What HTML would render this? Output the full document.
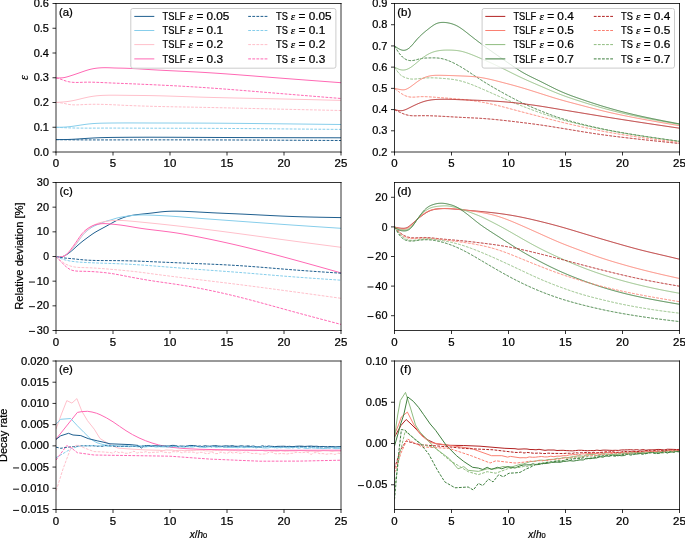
<!DOCTYPE html><html><head><meta charset="utf-8"><style>html,body{margin:0;padding:0;background:#fff;}svg{display:block;will-change:transform;}text{font-family:"Liberation Sans", sans-serif;font-size:10px;fill:#000;stroke:#000;stroke-width:0.22px;}</style></head><body>
<svg width="685" height="538" viewBox="0 0 685 538">
<rect x="0" y="0" width="685" height="538" fill="#fff"/>
<clipPath id="clip_a"><rect x="56.00" y="2.50" width="285.00" height="150.50"/></clipPath>
<g clip-path="url(#clip_a)" fill="none" stroke-width="1.00" stroke-linejoin="round" stroke-linecap="butt">
<path d="M56.00,77.90 L57.00,77.93 L58.00,77.95 L59.00,77.96 L60.00,77.95 L61.00,77.92 L62.00,77.85 L63.00,77.75 L64.00,77.60 L65.00,77.40 L66.00,77.17 L67.00,76.90 L68.00,76.61 L69.00,76.30 L70.00,75.99 L71.00,75.67 L72.00,75.35 L73.00,75.02 L74.00,74.69 L75.00,74.35 L76.00,74.01 L77.00,73.67 L78.00,73.33 L79.00,72.98 L80.00,72.62 L81.00,72.27 L82.00,71.92 L83.00,71.57 L84.00,71.22 L85.00,70.89 L86.00,70.56 L87.00,70.24 L88.00,69.94 L89.00,69.66 L90.00,69.40 L91.00,69.16 L92.00,68.94 L93.00,68.74 L94.00,68.56 L95.00,68.40 L96.00,68.26 L97.00,68.13 L98.00,68.03 L99.00,67.94 L100.00,67.86 L101.00,67.80 L102.00,67.76 L103.00,67.72 L104.00,67.71 L105.00,67.70 L106.00,67.71 L107.00,67.72 L108.00,67.74 L109.00,67.77 L110.00,67.81 L111.00,67.85 L112.00,67.89 L113.00,67.93 L114.00,67.97 L115.00,68.00 L116.00,68.03 L117.00,68.06 L118.00,68.08 L119.00,68.10 L120.00,68.12 L121.00,68.14 L122.00,68.15 L123.00,68.18 L124.00,68.20 L125.00,68.23 L126.00,68.26 L127.00,68.29 L128.00,68.33 L129.00,68.37 L130.00,68.41 L131.00,68.46 L132.00,68.51 L133.00,68.56 L134.00,68.61 L135.00,68.67 L136.00,68.72 L137.00,68.78 L138.00,68.84 L139.00,68.90 L140.00,68.97 L141.00,69.03 L142.00,69.09 L143.00,69.15 L144.00,69.22 L145.00,69.28 L146.00,69.35 L147.00,69.41 L148.00,69.47 L149.00,69.54 L150.00,69.60 L151.00,69.66 L152.00,69.72 L153.00,69.78 L154.00,69.84 L155.00,69.90 L156.00,69.95 L157.00,70.01 L158.00,70.07 L159.00,70.12 L160.00,70.17 L161.00,70.23 L162.00,70.28 L163.00,70.33 L164.00,70.39 L165.00,70.44 L166.00,70.49 L167.00,70.54 L168.00,70.59 L169.00,70.64 L170.00,70.69 L171.00,70.74 L172.00,70.79 L173.00,70.83 L174.00,70.88 L175.00,70.93 L176.00,70.98 L177.00,71.03 L178.00,71.08 L179.00,71.13 L180.00,71.17 L181.00,71.22 L182.00,71.27 L183.00,71.32 L184.00,71.37 L185.00,71.42 L186.00,71.47 L187.00,71.52 L188.00,71.57 L189.00,71.62 L190.00,71.67 L191.00,71.72 L192.00,71.77 L193.00,71.82 L194.00,71.87 L195.00,71.93 L196.00,71.98 L197.00,72.03 L198.00,72.09 L199.00,72.14 L200.00,72.20 L201.00,72.26 L202.00,72.31 L203.00,72.37 L204.00,72.43 L205.00,72.49 L206.00,72.55 L207.00,72.61 L208.00,72.68 L209.00,72.74 L210.00,72.80 L211.00,72.87 L212.00,72.93 L213.00,73.00 L214.00,73.06 L215.00,73.13 L216.00,73.19 L217.00,73.26 L218.00,73.33 L219.00,73.40 L220.00,73.47 L221.00,73.54 L222.00,73.61 L223.00,73.68 L224.00,73.75 L225.00,73.82 L226.00,73.89 L227.00,73.96 L228.00,74.04 L229.00,74.11 L230.00,74.18 L231.00,74.26 L232.00,74.33 L233.00,74.40 L234.00,74.48 L235.00,74.55 L236.00,74.63 L237.00,74.71 L238.00,74.78 L239.00,74.86 L240.00,74.94 L241.00,75.01 L242.00,75.09 L243.00,75.17 L244.00,75.25 L245.00,75.32 L246.00,75.40 L247.00,75.48 L248.00,75.56 L249.00,75.64 L250.00,75.71 L251.00,75.79 L252.00,75.87 L253.00,75.95 L254.00,76.03 L255.00,76.11 L256.00,76.19 L257.00,76.27 L258.00,76.35 L259.00,76.43 L260.00,76.51 L261.00,76.59 L262.00,76.67 L263.00,76.75 L264.00,76.82 L265.00,76.90 L266.00,76.98 L267.00,77.06 L268.00,77.14 L269.00,77.22 L270.00,77.30 L271.00,77.38 L272.00,77.46 L273.00,77.54 L274.00,77.61 L275.00,77.69 L276.00,77.77 L277.00,77.85 L278.00,77.93 L279.00,78.01 L280.00,78.08 L281.00,78.16 L282.00,78.24 L283.00,78.32 L284.00,78.39 L285.00,78.47 L286.00,78.55 L287.00,78.63 L288.00,78.70 L289.00,78.78 L290.00,78.86 L291.00,78.93 L292.00,79.01 L293.00,79.09 L294.00,79.16 L295.00,79.24 L296.00,79.32 L297.00,79.39 L298.00,79.47 L299.00,79.54 L300.00,79.62 L301.00,79.70 L302.00,79.77 L303.00,79.85 L304.00,79.92 L305.00,80.00 L306.00,80.08 L307.00,80.15 L308.00,80.23 L309.00,80.30 L310.00,80.38 L311.00,80.45 L312.00,80.53 L313.00,80.60 L314.00,80.68 L315.00,80.75 L316.00,80.83 L317.00,80.90 L318.00,80.98 L319.00,81.05 L320.00,81.13 L321.00,81.20 L322.00,81.28 L323.00,81.35 L324.00,81.43 L325.00,81.50 L326.00,81.58 L327.00,81.65 L328.00,81.73 L329.00,81.80 L330.00,81.88 L331.00,81.95 L332.00,82.03 L333.00,82.10 L334.00,82.18 L335.00,82.25 L336.00,82.33 L337.00,82.40 L338.00,82.48 L339.00,82.55 L340.00,82.63 L341.00,82.70" stroke="#ff69b4"/>
<path d="M56.00,77.90 L57.00,78.12 L58.00,78.34 L59.00,78.60 L60.00,78.90 L61.00,79.25 L62.00,79.63 L63.00,80.02 L64.00,80.40 L65.00,80.75 L66.00,81.06 L67.00,81.34 L68.00,81.59 L69.00,81.80 L70.00,81.98 L71.00,82.12 L72.00,82.23 L73.00,82.32 L74.00,82.38 L75.00,82.41 L76.00,82.43 L77.00,82.44 L78.00,82.43 L79.00,82.41 L80.00,82.38 L81.00,82.34 L82.00,82.30 L83.00,82.27 L84.00,82.23 L85.00,82.20 L86.00,82.18 L87.00,82.16 L88.00,82.16 L89.00,82.15 L90.00,82.16 L91.00,82.17 L92.00,82.19 L93.00,82.21 L94.00,82.24 L95.00,82.27 L96.00,82.30 L97.00,82.34 L98.00,82.38 L99.00,82.42 L100.00,82.47 L101.00,82.51 L102.00,82.56 L103.00,82.61 L104.00,82.65 L105.00,82.70 L106.00,82.75 L107.00,82.79 L108.00,82.84 L109.00,82.88 L110.00,82.92 L111.00,82.97 L112.00,83.01 L113.00,83.05 L114.00,83.09 L115.00,83.14 L116.00,83.18 L117.00,83.22 L118.00,83.26 L119.00,83.30 L120.00,83.34 L121.00,83.38 L122.00,83.42 L123.00,83.46 L124.00,83.50 L125.00,83.54 L126.00,83.58 L127.00,83.62 L128.00,83.66 L129.00,83.70 L130.00,83.74 L131.00,83.79 L132.00,83.83 L133.00,83.87 L134.00,83.91 L135.00,83.95 L136.00,83.99 L137.00,84.04 L138.00,84.08 L139.00,84.12 L140.00,84.16 L141.00,84.21 L142.00,84.25 L143.00,84.29 L144.00,84.34 L145.00,84.38 L146.00,84.42 L147.00,84.47 L148.00,84.51 L149.00,84.56 L150.00,84.60 L151.00,84.65 L152.00,84.69 L153.00,84.74 L154.00,84.79 L155.00,84.83 L156.00,84.88 L157.00,84.93 L158.00,84.97 L159.00,85.02 L160.00,85.07 L161.00,85.12 L162.00,85.17 L163.00,85.21 L164.00,85.26 L165.00,85.31 L166.00,85.36 L167.00,85.41 L168.00,85.46 L169.00,85.51 L170.00,85.57 L171.00,85.62 L172.00,85.67 L173.00,85.72 L174.00,85.77 L175.00,85.83 L176.00,85.88 L177.00,85.93 L178.00,85.99 L179.00,86.04 L180.00,86.10 L181.00,86.15 L182.00,86.21 L183.00,86.27 L184.00,86.32 L185.00,86.38 L186.00,86.44 L187.00,86.50 L188.00,86.56 L189.00,86.62 L190.00,86.68 L191.00,86.74 L192.00,86.80 L193.00,86.86 L194.00,86.92 L195.00,86.98 L196.00,87.04 L197.00,87.11 L198.00,87.17 L199.00,87.24 L200.00,87.30 L201.00,87.37 L202.00,87.43 L203.00,87.50 L204.00,87.56 L205.00,87.63 L206.00,87.70 L207.00,87.77 L208.00,87.84 L209.00,87.91 L210.00,87.98 L211.00,88.05 L212.00,88.12 L213.00,88.19 L214.00,88.26 L215.00,88.33 L216.00,88.40 L217.00,88.48 L218.00,88.55 L219.00,88.62 L220.00,88.70 L221.00,88.77 L222.00,88.85 L223.00,88.92 L224.00,89.00 L225.00,89.07 L226.00,89.15 L227.00,89.22 L228.00,89.30 L229.00,89.38 L230.00,89.46 L231.00,89.53 L232.00,89.61 L233.00,89.69 L234.00,89.77 L235.00,89.85 L236.00,89.93 L237.00,90.00 L238.00,90.08 L239.00,90.16 L240.00,90.24 L241.00,90.32 L242.00,90.40 L243.00,90.48 L244.00,90.57 L245.00,90.65 L246.00,90.73 L247.00,90.81 L248.00,90.89 L249.00,90.97 L250.00,91.05 L251.00,91.13 L252.00,91.22 L253.00,91.30 L254.00,91.38 L255.00,91.46 L256.00,91.54 L257.00,91.63 L258.00,91.71 L259.00,91.79 L260.00,91.87 L261.00,91.96 L262.00,92.04 L263.00,92.12 L264.00,92.20 L265.00,92.29 L266.00,92.37 L267.00,92.45 L268.00,92.53 L269.00,92.62 L270.00,92.70 L271.00,92.78 L272.00,92.87 L273.00,92.95 L274.00,93.03 L275.00,93.11 L276.00,93.19 L277.00,93.28 L278.00,93.36 L279.00,93.44 L280.00,93.52 L281.00,93.61 L282.00,93.69 L283.00,93.77 L284.00,93.85 L285.00,93.93 L286.00,94.02 L287.00,94.10 L288.00,94.18 L289.00,94.26 L290.00,94.34 L291.00,94.43 L292.00,94.51 L293.00,94.59 L294.00,94.67 L295.00,94.75 L296.00,94.84 L297.00,94.92 L298.00,95.00 L299.00,95.08 L300.00,95.16 L301.00,95.24 L302.00,95.33 L303.00,95.41 L304.00,95.49 L305.00,95.57 L306.00,95.65 L307.00,95.73 L308.00,95.82 L309.00,95.90 L310.00,95.98 L311.00,96.06 L312.00,96.14 L313.00,96.22 L314.00,96.30 L315.00,96.39 L316.00,96.47 L317.00,96.55 L318.00,96.63 L319.00,96.71 L320.00,96.79 L321.00,96.87 L322.00,96.96 L323.00,97.04 L324.00,97.12 L325.00,97.20 L326.00,97.28 L327.00,97.36 L328.00,97.44 L329.00,97.52 L330.00,97.61 L331.00,97.69 L332.00,97.77 L333.00,97.85 L334.00,97.93 L335.00,98.01 L336.00,98.09 L337.00,98.17 L338.00,98.26 L339.00,98.34 L340.00,98.42 L341.00,98.50" stroke="#ff69b4" stroke-dasharray="2.8,1.3"/>
<path d="M56.00,102.40 L57.00,102.35 L58.00,102.30 L59.00,102.25 L60.00,102.20 L61.00,102.13 L62.00,102.06 L63.00,101.99 L64.00,101.90 L65.00,101.80 L66.00,101.69 L67.00,101.57 L68.00,101.44 L69.00,101.29 L70.00,101.14 L71.00,100.97 L72.00,100.79 L73.00,100.60 L74.00,100.40 L75.00,100.19 L76.00,99.96 L77.00,99.73 L78.00,99.49 L79.00,99.25 L80.00,99.01 L81.00,98.76 L82.00,98.51 L83.00,98.27 L84.00,98.03 L85.00,97.80 L86.00,97.58 L87.00,97.36 L88.00,97.15 L89.00,96.95 L90.00,96.77 L91.00,96.59 L92.00,96.43 L93.00,96.27 L94.00,96.13 L95.00,96.00 L96.00,95.88 L97.00,95.78 L98.00,95.69 L99.00,95.61 L100.00,95.54 L101.00,95.47 L102.00,95.42 L103.00,95.37 L104.00,95.33 L105.00,95.30 L106.00,95.27 L107.00,95.25 L108.00,95.23 L109.00,95.21 L110.00,95.20 L111.00,95.20 L112.00,95.19 L113.00,95.19 L114.00,95.20 L115.00,95.20 L116.00,95.21 L117.00,95.21 L118.00,95.22 L119.00,95.24 L120.00,95.25 L121.00,95.26 L122.00,95.27 L123.00,95.29 L124.00,95.30 L125.00,95.31 L126.00,95.32 L127.00,95.34 L128.00,95.35 L129.00,95.36 L130.00,95.37 L131.00,95.38 L132.00,95.39 L133.00,95.40 L134.00,95.41 L135.00,95.42 L136.00,95.42 L137.00,95.43 L138.00,95.44 L139.00,95.45 L140.00,95.47 L141.00,95.48 L142.00,95.49 L143.00,95.50 L144.00,95.51 L145.00,95.52 L146.00,95.54 L147.00,95.55 L148.00,95.57 L149.00,95.58 L150.00,95.60 L151.00,95.62 L152.00,95.64 L153.00,95.66 L154.00,95.68 L155.00,95.70 L156.00,95.72 L157.00,95.74 L158.00,95.77 L159.00,95.79 L160.00,95.82 L161.00,95.84 L162.00,95.87 L163.00,95.90 L164.00,95.92 L165.00,95.95 L166.00,95.98 L167.00,96.01 L168.00,96.04 L169.00,96.07 L170.00,96.10 L171.00,96.13 L172.00,96.17 L173.00,96.20 L174.00,96.23 L175.00,96.26 L176.00,96.30 L177.00,96.33 L178.00,96.36 L179.00,96.40 L180.00,96.43 L181.00,96.47 L182.00,96.50 L183.00,96.53 L184.00,96.57 L185.00,96.60 L186.00,96.64 L187.00,96.67 L188.00,96.70 L189.00,96.74 L190.00,96.77 L191.00,96.81 L192.00,96.84 L193.00,96.87 L194.00,96.91 L195.00,96.94 L196.00,96.97 L197.00,97.00 L198.00,97.04 L199.00,97.07 L200.00,97.10 L201.00,97.13 L202.00,97.16 L203.00,97.19 L204.00,97.22 L205.00,97.25 L206.00,97.28 L207.00,97.31 L208.00,97.34 L209.00,97.36 L210.00,97.39 L211.00,97.42 L212.00,97.45 L213.00,97.47 L214.00,97.50 L215.00,97.52 L216.00,97.55 L217.00,97.58 L218.00,97.60 L219.00,97.62 L220.00,97.65 L221.00,97.67 L222.00,97.70 L223.00,97.72 L224.00,97.74 L225.00,97.77 L226.00,97.79 L227.00,97.81 L228.00,97.84 L229.00,97.86 L230.00,97.88 L231.00,97.90 L232.00,97.92 L233.00,97.95 L234.00,97.97 L235.00,97.99 L236.00,98.01 L237.00,98.03 L238.00,98.05 L239.00,98.07 L240.00,98.09 L241.00,98.11 L242.00,98.13 L243.00,98.16 L244.00,98.18 L245.00,98.20 L246.00,98.22 L247.00,98.24 L248.00,98.26 L249.00,98.28 L250.00,98.30 L251.00,98.32 L252.00,98.34 L253.00,98.36 L254.00,98.38 L255.00,98.40 L256.00,98.42 L257.00,98.44 L258.00,98.46 L259.00,98.48 L260.00,98.50 L261.00,98.52 L262.00,98.54 L263.00,98.56 L264.00,98.58 L265.00,98.60 L266.00,98.62 L267.00,98.64 L268.00,98.66 L269.00,98.68 L270.00,98.70 L271.00,98.72 L272.00,98.74 L273.00,98.76 L274.00,98.78 L275.00,98.81 L276.00,98.83 L277.00,98.85 L278.00,98.87 L279.00,98.89 L280.00,98.92 L281.00,98.94 L282.00,98.96 L283.00,98.98 L284.00,99.00 L285.00,99.03 L286.00,99.05 L287.00,99.07 L288.00,99.10 L289.00,99.12 L290.00,99.14 L291.00,99.17 L292.00,99.19 L293.00,99.21 L294.00,99.24 L295.00,99.26 L296.00,99.28 L297.00,99.31 L298.00,99.33 L299.00,99.35 L300.00,99.38 L301.00,99.40 L302.00,99.43 L303.00,99.45 L304.00,99.47 L305.00,99.50 L306.00,99.52 L307.00,99.55 L308.00,99.57 L309.00,99.60 L310.00,99.62 L311.00,99.64 L312.00,99.67 L313.00,99.69 L314.00,99.72 L315.00,99.74 L316.00,99.77 L317.00,99.79 L318.00,99.82 L319.00,99.84 L320.00,99.87 L321.00,99.89 L322.00,99.92 L323.00,99.94 L324.00,99.97 L325.00,99.99 L326.00,100.02 L327.00,100.04 L328.00,100.07 L329.00,100.10 L330.00,100.12 L331.00,100.15 L332.00,100.17 L333.00,100.20 L334.00,100.22 L335.00,100.25 L336.00,100.27 L337.00,100.30 L338.00,100.32 L339.00,100.35 L340.00,100.37 L341.00,100.40" stroke="#ffc0cb"/>
<path d="M56.00,102.40 L57.00,102.48 L58.00,102.56 L59.00,102.66 L60.00,102.76 L61.00,102.89 L62.00,103.03 L63.00,103.20 L64.00,103.40 L65.00,103.63 L66.00,103.87 L67.00,104.10 L68.00,104.30 L69.00,104.46 L70.00,104.60 L71.00,104.71 L72.00,104.79 L73.00,104.84 L74.00,104.88 L75.00,104.89 L76.00,104.89 L77.00,104.88 L78.00,104.85 L79.00,104.81 L80.00,104.77 L81.00,104.72 L82.00,104.66 L83.00,104.61 L84.00,104.55 L85.00,104.50 L86.00,104.45 L87.00,104.41 L88.00,104.38 L89.00,104.35 L90.00,104.33 L91.00,104.31 L92.00,104.29 L93.00,104.28 L94.00,104.28 L95.00,104.27 L96.00,104.28 L97.00,104.28 L98.00,104.29 L99.00,104.31 L100.00,104.32 L101.00,104.34 L102.00,104.37 L103.00,104.39 L104.00,104.42 L105.00,104.45 L106.00,104.49 L107.00,104.52 L108.00,104.56 L109.00,104.60 L110.00,104.64 L111.00,104.68 L112.00,104.73 L113.00,104.77 L114.00,104.82 L115.00,104.87 L116.00,104.91 L117.00,104.96 L118.00,105.01 L119.00,105.06 L120.00,105.11 L121.00,105.16 L122.00,105.21 L123.00,105.25 L124.00,105.30 L125.00,105.35 L126.00,105.39 L127.00,105.44 L128.00,105.48 L129.00,105.52 L130.00,105.56 L131.00,105.60 L132.00,105.64 L133.00,105.68 L134.00,105.72 L135.00,105.76 L136.00,105.80 L137.00,105.83 L138.00,105.87 L139.00,105.91 L140.00,105.94 L141.00,105.97 L142.00,106.01 L143.00,106.04 L144.00,106.07 L145.00,106.10 L146.00,106.13 L147.00,106.16 L148.00,106.19 L149.00,106.22 L150.00,106.25 L151.00,106.28 L152.00,106.31 L153.00,106.33 L154.00,106.36 L155.00,106.39 L156.00,106.41 L157.00,106.44 L158.00,106.46 L159.00,106.49 L160.00,106.51 L161.00,106.53 L162.00,106.56 L163.00,106.58 L164.00,106.60 L165.00,106.62 L166.00,106.65 L167.00,106.67 L168.00,106.69 L169.00,106.71 L170.00,106.73 L171.00,106.75 L172.00,106.77 L173.00,106.79 L174.00,106.81 L175.00,106.83 L176.00,106.85 L177.00,106.87 L178.00,106.89 L179.00,106.91 L180.00,106.93 L181.00,106.94 L182.00,106.96 L183.00,106.98 L184.00,107.00 L185.00,107.02 L186.00,107.04 L187.00,107.06 L188.00,107.07 L189.00,107.09 L190.00,107.11 L191.00,107.13 L192.00,107.15 L193.00,107.17 L194.00,107.19 L195.00,107.20 L196.00,107.22 L197.00,107.24 L198.00,107.26 L199.00,107.28 L200.00,107.30 L201.00,107.32 L202.00,107.34 L203.00,107.36 L204.00,107.38 L205.00,107.40 L206.00,107.42 L207.00,107.44 L208.00,107.46 L209.00,107.48 L210.00,107.50 L211.00,107.52 L212.00,107.54 L213.00,107.57 L214.00,107.59 L215.00,107.61 L216.00,107.63 L217.00,107.65 L218.00,107.67 L219.00,107.70 L220.00,107.72 L221.00,107.74 L222.00,107.76 L223.00,107.79 L224.00,107.81 L225.00,107.83 L226.00,107.85 L227.00,107.88 L228.00,107.90 L229.00,107.92 L230.00,107.95 L231.00,107.97 L232.00,107.99 L233.00,108.02 L234.00,108.04 L235.00,108.06 L236.00,108.09 L237.00,108.11 L238.00,108.13 L239.00,108.16 L240.00,108.18 L241.00,108.20 L242.00,108.23 L243.00,108.25 L244.00,108.28 L245.00,108.30 L246.00,108.32 L247.00,108.35 L248.00,108.37 L249.00,108.40 L250.00,108.42 L251.00,108.44 L252.00,108.47 L253.00,108.49 L254.00,108.52 L255.00,108.54 L256.00,108.56 L257.00,108.59 L258.00,108.61 L259.00,108.64 L260.00,108.66 L261.00,108.69 L262.00,108.71 L263.00,108.73 L264.00,108.76 L265.00,108.78 L266.00,108.80 L267.00,108.83 L268.00,108.85 L269.00,108.88 L270.00,108.90 L271.00,108.92 L272.00,108.95 L273.00,108.97 L274.00,108.99 L275.00,109.02 L276.00,109.04 L277.00,109.06 L278.00,109.09 L279.00,109.11 L280.00,109.13 L281.00,109.16 L282.00,109.18 L283.00,109.20 L284.00,109.23 L285.00,109.25 L286.00,109.27 L287.00,109.30 L288.00,109.32 L289.00,109.34 L290.00,109.37 L291.00,109.39 L292.00,109.41 L293.00,109.43 L294.00,109.46 L295.00,109.48 L296.00,109.50 L297.00,109.52 L298.00,109.55 L299.00,109.57 L300.00,109.59 L301.00,109.61 L302.00,109.64 L303.00,109.66 L304.00,109.68 L305.00,109.70 L306.00,109.73 L307.00,109.75 L308.00,109.77 L309.00,109.79 L310.00,109.82 L311.00,109.84 L312.00,109.86 L313.00,109.88 L314.00,109.90 L315.00,109.93 L316.00,109.95 L317.00,109.97 L318.00,109.99 L319.00,110.02 L320.00,110.04 L321.00,110.06 L322.00,110.08 L323.00,110.10 L324.00,110.13 L325.00,110.15 L326.00,110.17 L327.00,110.19 L328.00,110.21 L329.00,110.24 L330.00,110.26 L331.00,110.28 L332.00,110.30 L333.00,110.32 L334.00,110.35 L335.00,110.37 L336.00,110.39 L337.00,110.41 L338.00,110.43 L339.00,110.46 L340.00,110.48 L341.00,110.50" stroke="#ffc0cb" stroke-dasharray="2.8,1.3"/>
<path d="M56.00,127.30 L57.00,127.29 L58.00,127.28 L59.00,127.27 L60.00,127.25 L61.00,127.23 L62.00,127.20 L63.00,127.17 L64.00,127.12 L65.00,127.07 L66.00,127.00 L67.00,126.92 L68.00,126.83 L69.00,126.73 L70.00,126.62 L71.00,126.50 L72.00,126.37 L73.00,126.24 L74.00,126.10 L75.00,125.95 L76.00,125.80 L77.00,125.65 L78.00,125.49 L79.00,125.33 L80.00,125.18 L81.00,125.02 L82.00,124.87 L83.00,124.72 L84.00,124.57 L85.00,124.43 L86.00,124.30 L87.00,124.18 L88.00,124.06 L89.00,123.95 L90.00,123.85 L91.00,123.76 L92.00,123.67 L93.00,123.59 L94.00,123.52 L95.00,123.46 L96.00,123.40 L97.00,123.35 L98.00,123.30 L99.00,123.27 L100.00,123.23 L101.00,123.20 L102.00,123.18 L103.00,123.15 L104.00,123.13 L105.00,123.12 L106.00,123.10 L107.00,123.08 L108.00,123.07 L109.00,123.06 L110.00,123.05 L111.00,123.03 L112.00,123.02 L113.00,123.01 L114.00,123.00 L115.00,123.00 L116.00,122.99 L117.00,122.98 L118.00,122.98 L119.00,122.97 L120.00,122.97 L121.00,122.96 L122.00,122.96 L123.00,122.96 L124.00,122.95 L125.00,122.95 L126.00,122.95 L127.00,122.95 L128.00,122.95 L129.00,122.95 L130.00,122.95 L131.00,122.95 L132.00,122.95 L133.00,122.95 L134.00,122.95 L135.00,122.96 L136.00,122.96 L137.00,122.96 L138.00,122.96 L139.00,122.97 L140.00,122.97 L141.00,122.97 L142.00,122.98 L143.00,122.98 L144.00,122.98 L145.00,122.98 L146.00,122.99 L147.00,122.99 L148.00,122.99 L149.00,123.00 L150.00,123.00 L151.00,123.00 L152.00,123.01 L153.00,123.01 L154.00,123.01 L155.00,123.01 L156.00,123.01 L157.00,123.02 L158.00,123.02 L159.00,123.02 L160.00,123.02 L161.00,123.02 L162.00,123.03 L163.00,123.03 L164.00,123.03 L165.00,123.03 L166.00,123.03 L167.00,123.03 L168.00,123.03 L169.00,123.03 L170.00,123.04 L171.00,123.04 L172.00,123.04 L173.00,123.04 L174.00,123.04 L175.00,123.04 L176.00,123.04 L177.00,123.05 L178.00,123.05 L179.00,123.05 L180.00,123.05 L181.00,123.05 L182.00,123.05 L183.00,123.05 L184.00,123.06 L185.00,123.06 L186.00,123.06 L187.00,123.06 L188.00,123.06 L189.00,123.07 L190.00,123.07 L191.00,123.07 L192.00,123.07 L193.00,123.08 L194.00,123.08 L195.00,123.08 L196.00,123.09 L197.00,123.09 L198.00,123.09 L199.00,123.10 L200.00,123.10 L201.00,123.10 L202.00,123.11 L203.00,123.11 L204.00,123.12 L205.00,123.12 L206.00,123.13 L207.00,123.13 L208.00,123.14 L209.00,123.14 L210.00,123.15 L211.00,123.15 L212.00,123.16 L213.00,123.17 L214.00,123.17 L215.00,123.18 L216.00,123.19 L217.00,123.19 L218.00,123.20 L219.00,123.21 L220.00,123.21 L221.00,123.22 L222.00,123.23 L223.00,123.24 L224.00,123.24 L225.00,123.25 L226.00,123.26 L227.00,123.27 L228.00,123.28 L229.00,123.29 L230.00,123.29 L231.00,123.30 L232.00,123.31 L233.00,123.32 L234.00,123.33 L235.00,123.34 L236.00,123.35 L237.00,123.36 L238.00,123.37 L239.00,123.38 L240.00,123.39 L241.00,123.39 L242.00,123.40 L243.00,123.41 L244.00,123.42 L245.00,123.43 L246.00,123.44 L247.00,123.45 L248.00,123.46 L249.00,123.47 L250.00,123.48 L251.00,123.50 L252.00,123.51 L253.00,123.52 L254.00,123.53 L255.00,123.54 L256.00,123.55 L257.00,123.56 L258.00,123.57 L259.00,123.58 L260.00,123.59 L261.00,123.60 L262.00,123.61 L263.00,123.62 L264.00,123.63 L265.00,123.65 L266.00,123.66 L267.00,123.67 L268.00,123.68 L269.00,123.69 L270.00,123.70 L271.00,123.71 L272.00,123.72 L273.00,123.73 L274.00,123.74 L275.00,123.76 L276.00,123.77 L277.00,123.78 L278.00,123.79 L279.00,123.80 L280.00,123.81 L281.00,123.82 L282.00,123.83 L283.00,123.84 L284.00,123.86 L285.00,123.87 L286.00,123.88 L287.00,123.89 L288.00,123.90 L289.00,123.91 L290.00,123.92 L291.00,123.93 L292.00,123.94 L293.00,123.96 L294.00,123.97 L295.00,123.98 L296.00,123.99 L297.00,124.00 L298.00,124.01 L299.00,124.02 L300.00,124.03 L301.00,124.05 L302.00,124.06 L303.00,124.07 L304.00,124.08 L305.00,124.09 L306.00,124.10 L307.00,124.11 L308.00,124.13 L309.00,124.14 L310.00,124.15 L311.00,124.16 L312.00,124.17 L313.00,124.18 L314.00,124.19 L315.00,124.20 L316.00,124.22 L317.00,124.23 L318.00,124.24 L319.00,124.25 L320.00,124.26 L321.00,124.27 L322.00,124.28 L323.00,124.30 L324.00,124.31 L325.00,124.32 L326.00,124.33 L327.00,124.34 L328.00,124.35 L329.00,124.36 L330.00,124.37 L331.00,124.39 L332.00,124.40 L333.00,124.41 L334.00,124.42 L335.00,124.43 L336.00,124.44 L337.00,124.45 L338.00,124.47 L339.00,124.48 L340.00,124.49 L341.00,124.50" stroke="#87ceeb"/>
<path d="M56.00,127.30 L57.00,127.35 L58.00,127.40 L59.00,127.45 L60.00,127.49 L61.00,127.54 L62.00,127.59 L63.00,127.63 L64.00,127.68 L65.00,127.72 L66.00,127.76 L67.00,127.80 L68.00,127.83 L69.00,127.87 L70.00,127.90 L71.00,127.93 L72.00,127.96 L73.00,127.98 L74.00,128.00 L75.00,128.02 L76.00,128.04 L77.00,128.06 L78.00,128.07 L79.00,128.08 L80.00,128.09 L81.00,128.10 L82.00,128.11 L83.00,128.12 L84.00,128.12 L85.00,128.13 L86.00,128.13 L87.00,128.13 L88.00,128.13 L89.00,128.13 L90.00,128.13 L91.00,128.13 L92.00,128.12 L93.00,128.12 L94.00,128.12 L95.00,128.12 L96.00,128.11 L97.00,128.11 L98.00,128.11 L99.00,128.10 L100.00,128.10 L101.00,128.10 L102.00,128.10 L103.00,128.09 L104.00,128.09 L105.00,128.09 L106.00,128.09 L107.00,128.09 L108.00,128.09 L109.00,128.09 L110.00,128.09 L111.00,128.09 L112.00,128.09 L113.00,128.09 L114.00,128.09 L115.00,128.09 L116.00,128.09 L117.00,128.10 L118.00,128.10 L119.00,128.10 L120.00,128.10 L121.00,128.10 L122.00,128.11 L123.00,128.11 L124.00,128.11 L125.00,128.12 L126.00,128.12 L127.00,128.12 L128.00,128.12 L129.00,128.13 L130.00,128.13 L131.00,128.13 L132.00,128.14 L133.00,128.14 L134.00,128.15 L135.00,128.15 L136.00,128.15 L137.00,128.16 L138.00,128.16 L139.00,128.16 L140.00,128.17 L141.00,128.17 L142.00,128.17 L143.00,128.18 L144.00,128.18 L145.00,128.18 L146.00,128.19 L147.00,128.19 L148.00,128.19 L149.00,128.20 L150.00,128.20 L151.00,128.20 L152.00,128.21 L153.00,128.21 L154.00,128.21 L155.00,128.21 L156.00,128.21 L157.00,128.22 L158.00,128.22 L159.00,128.22 L160.00,128.22 L161.00,128.22 L162.00,128.23 L163.00,128.23 L164.00,128.23 L165.00,128.23 L166.00,128.23 L167.00,128.23 L168.00,128.24 L169.00,128.24 L170.00,128.24 L171.00,128.24 L172.00,128.24 L173.00,128.24 L174.00,128.24 L175.00,128.25 L176.00,128.25 L177.00,128.25 L178.00,128.25 L179.00,128.25 L180.00,128.25 L181.00,128.25 L182.00,128.26 L183.00,128.26 L184.00,128.26 L185.00,128.26 L186.00,128.26 L187.00,128.26 L188.00,128.27 L189.00,128.27 L190.00,128.27 L191.00,128.27 L192.00,128.28 L193.00,128.28 L194.00,128.28 L195.00,128.28 L196.00,128.29 L197.00,128.29 L198.00,128.29 L199.00,128.30 L200.00,128.30 L201.00,128.30 L202.00,128.31 L203.00,128.31 L204.00,128.32 L205.00,128.32 L206.00,128.32 L207.00,128.33 L208.00,128.33 L209.00,128.34 L210.00,128.34 L211.00,128.35 L212.00,128.35 L213.00,128.36 L214.00,128.36 L215.00,128.37 L216.00,128.38 L217.00,128.38 L218.00,128.39 L219.00,128.39 L220.00,128.40 L221.00,128.41 L222.00,128.41 L223.00,128.42 L224.00,128.43 L225.00,128.43 L226.00,128.44 L227.00,128.45 L228.00,128.45 L229.00,128.46 L230.00,128.47 L231.00,128.48 L232.00,128.48 L233.00,128.49 L234.00,128.50 L235.00,128.51 L236.00,128.51 L237.00,128.52 L238.00,128.53 L239.00,128.54 L240.00,128.54 L241.00,128.55 L242.00,128.56 L243.00,128.57 L244.00,128.58 L245.00,128.58 L246.00,128.59 L247.00,128.60 L248.00,128.61 L249.00,128.62 L250.00,128.63 L251.00,128.63 L252.00,128.64 L253.00,128.65 L254.00,128.66 L255.00,128.67 L256.00,128.68 L257.00,128.69 L258.00,128.70 L259.00,128.70 L260.00,128.71 L261.00,128.72 L262.00,128.73 L263.00,128.74 L264.00,128.75 L265.00,128.76 L266.00,128.77 L267.00,128.77 L268.00,128.78 L269.00,128.79 L270.00,128.80 L271.00,128.81 L272.00,128.82 L273.00,128.83 L274.00,128.83 L275.00,128.84 L276.00,128.85 L277.00,128.86 L278.00,128.87 L279.00,128.88 L280.00,128.89 L281.00,128.90 L282.00,128.90 L283.00,128.91 L284.00,128.92 L285.00,128.93 L286.00,128.94 L287.00,128.95 L288.00,128.96 L289.00,128.96 L290.00,128.97 L291.00,128.98 L292.00,128.99 L293.00,129.00 L294.00,129.01 L295.00,129.01 L296.00,129.02 L297.00,129.03 L298.00,129.04 L299.00,129.05 L300.00,129.06 L301.00,129.07 L302.00,129.07 L303.00,129.08 L304.00,129.09 L305.00,129.10 L306.00,129.11 L307.00,129.12 L308.00,129.12 L309.00,129.13 L310.00,129.14 L311.00,129.15 L312.00,129.16 L313.00,129.17 L314.00,129.17 L315.00,129.18 L316.00,129.19 L317.00,129.20 L318.00,129.21 L319.00,129.22 L320.00,129.23 L321.00,129.23 L322.00,129.24 L323.00,129.25 L324.00,129.26 L325.00,129.27 L326.00,129.28 L327.00,129.28 L328.00,129.29 L329.00,129.30 L330.00,129.31 L331.00,129.32 L332.00,129.33 L333.00,129.33 L334.00,129.34 L335.00,129.35 L336.00,129.36 L337.00,129.37 L338.00,129.38 L339.00,129.38 L340.00,129.39 L341.00,129.40" stroke="#87ceeb" stroke-dasharray="2.8,1.3"/>
<path d="M56.00,139.60 L57.00,139.60 L58.00,139.59 L59.00,139.59 L60.00,139.59 L61.00,139.58 L62.00,139.57 L63.00,139.56 L64.00,139.55 L65.00,139.53 L66.00,139.51 L67.00,139.49 L68.00,139.47 L69.00,139.44 L70.00,139.40 L71.00,139.36 L72.00,139.31 L73.00,139.27 L74.00,139.21 L75.00,139.16 L76.00,139.10 L77.00,139.04 L78.00,138.97 L79.00,138.91 L80.00,138.84 L81.00,138.77 L82.00,138.70 L83.00,138.64 L84.00,138.57 L85.00,138.50 L86.00,138.43 L87.00,138.37 L88.00,138.31 L89.00,138.24 L90.00,138.18 L91.00,138.13 L92.00,138.07 L93.00,138.01 L94.00,137.96 L95.00,137.91 L96.00,137.86 L97.00,137.82 L98.00,137.78 L99.00,137.74 L100.00,137.70 L101.00,137.67 L102.00,137.63 L103.00,137.61 L104.00,137.58 L105.00,137.55 L106.00,137.53 L107.00,137.51 L108.00,137.49 L109.00,137.48 L110.00,137.46 L111.00,137.45 L112.00,137.43 L113.00,137.42 L114.00,137.41 L115.00,137.40 L116.00,137.39 L117.00,137.38 L118.00,137.37 L119.00,137.36 L120.00,137.35 L121.00,137.34 L122.00,137.33 L123.00,137.33 L124.00,137.32 L125.00,137.31 L126.00,137.31 L127.00,137.30 L128.00,137.29 L129.00,137.29 L130.00,137.28 L131.00,137.28 L132.00,137.27 L133.00,137.27 L134.00,137.26 L135.00,137.26 L136.00,137.26 L137.00,137.25 L138.00,137.25 L139.00,137.25 L140.00,137.24 L141.00,137.24 L142.00,137.24 L143.00,137.24 L144.00,137.24 L145.00,137.23 L146.00,137.23 L147.00,137.23 L148.00,137.23 L149.00,137.23 L150.00,137.23 L151.00,137.23 L152.00,137.23 L153.00,137.23 L154.00,137.23 L155.00,137.23 L156.00,137.24 L157.00,137.24 L158.00,137.24 L159.00,137.24 L160.00,137.24 L161.00,137.24 L162.00,137.25 L163.00,137.25 L164.00,137.25 L165.00,137.25 L166.00,137.26 L167.00,137.26 L168.00,137.26 L169.00,137.27 L170.00,137.27 L171.00,137.27 L172.00,137.28 L173.00,137.28 L174.00,137.28 L175.00,137.29 L176.00,137.29 L177.00,137.30 L178.00,137.30 L179.00,137.30 L180.00,137.31 L181.00,137.31 L182.00,137.32 L183.00,137.32 L184.00,137.33 L185.00,137.33 L186.00,137.33 L187.00,137.34 L188.00,137.34 L189.00,137.35 L190.00,137.35 L191.00,137.36 L192.00,137.36 L193.00,137.37 L194.00,137.37 L195.00,137.38 L196.00,137.38 L197.00,137.39 L198.00,137.39 L199.00,137.40 L200.00,137.40 L201.00,137.40 L202.00,137.41 L203.00,137.41 L204.00,137.42 L205.00,137.42 L206.00,137.43 L207.00,137.43 L208.00,137.44 L209.00,137.44 L210.00,137.44 L211.00,137.45 L212.00,137.45 L213.00,137.46 L214.00,137.46 L215.00,137.46 L216.00,137.47 L217.00,137.47 L218.00,137.48 L219.00,137.48 L220.00,137.48 L221.00,137.49 L222.00,137.49 L223.00,137.50 L224.00,137.50 L225.00,137.50 L226.00,137.51 L227.00,137.51 L228.00,137.51 L229.00,137.52 L230.00,137.52 L231.00,137.53 L232.00,137.53 L233.00,137.53 L234.00,137.54 L235.00,137.54 L236.00,137.54 L237.00,137.55 L238.00,137.55 L239.00,137.55 L240.00,137.56 L241.00,137.56 L242.00,137.56 L243.00,137.57 L244.00,137.57 L245.00,137.57 L246.00,137.58 L247.00,137.58 L248.00,137.58 L249.00,137.58 L250.00,137.59 L251.00,137.59 L252.00,137.59 L253.00,137.60 L254.00,137.60 L255.00,137.60 L256.00,137.61 L257.00,137.61 L258.00,137.61 L259.00,137.61 L260.00,137.62 L261.00,137.62 L262.00,137.62 L263.00,137.63 L264.00,137.63 L265.00,137.63 L266.00,137.63 L267.00,137.64 L268.00,137.64 L269.00,137.64 L270.00,137.64 L271.00,137.65 L272.00,137.65 L273.00,137.65 L274.00,137.65 L275.00,137.66 L276.00,137.66 L277.00,137.66 L278.00,137.66 L279.00,137.67 L280.00,137.67 L281.00,137.67 L282.00,137.67 L283.00,137.68 L284.00,137.68 L285.00,137.68 L286.00,137.68 L287.00,137.69 L288.00,137.69 L289.00,137.69 L290.00,137.69 L291.00,137.70 L292.00,137.70 L293.00,137.70 L294.00,137.70 L295.00,137.70 L296.00,137.71 L297.00,137.71 L298.00,137.71 L299.00,137.71 L300.00,137.72 L301.00,137.72 L302.00,137.72 L303.00,137.72 L304.00,137.72 L305.00,137.73 L306.00,137.73 L307.00,137.73 L308.00,137.73 L309.00,137.74 L310.00,137.74 L311.00,137.74 L312.00,137.74 L313.00,137.74 L314.00,137.75 L315.00,137.75 L316.00,137.75 L317.00,137.75 L318.00,137.75 L319.00,137.76 L320.00,137.76 L321.00,137.76 L322.00,137.76 L323.00,137.76 L324.00,137.77 L325.00,137.77 L326.00,137.77 L327.00,137.77 L328.00,137.77 L329.00,137.78 L330.00,137.78 L331.00,137.78 L332.00,137.78 L333.00,137.78 L334.00,137.79 L335.00,137.79 L336.00,137.79 L337.00,137.79 L338.00,137.79 L339.00,137.80 L340.00,137.80 L341.00,137.80" stroke="#1f5f8f"/>
<path d="M56.00,139.60 L57.00,139.62 L58.00,139.63 L59.00,139.65 L60.00,139.66 L61.00,139.68 L62.00,139.69 L63.00,139.71 L64.00,139.72 L65.00,139.74 L66.00,139.75 L67.00,139.76 L68.00,139.78 L69.00,139.79 L70.00,139.80 L71.00,139.81 L72.00,139.82 L73.00,139.83 L74.00,139.84 L75.00,139.85 L76.00,139.86 L77.00,139.87 L78.00,139.87 L79.00,139.88 L80.00,139.89 L81.00,139.89 L82.00,139.90 L83.00,139.90 L84.00,139.91 L85.00,139.91 L86.00,139.92 L87.00,139.92 L88.00,139.92 L89.00,139.93 L90.00,139.93 L91.00,139.93 L92.00,139.93 L93.00,139.93 L94.00,139.93 L95.00,139.93 L96.00,139.94 L97.00,139.94 L98.00,139.94 L99.00,139.94 L100.00,139.93 L101.00,139.93 L102.00,139.93 L103.00,139.93 L104.00,139.93 L105.00,139.93 L106.00,139.93 L107.00,139.93 L108.00,139.93 L109.00,139.92 L110.00,139.92 L111.00,139.92 L112.00,139.92 L113.00,139.92 L114.00,139.91 L115.00,139.91 L116.00,139.91 L117.00,139.91 L118.00,139.90 L119.00,139.90 L120.00,139.90 L121.00,139.90 L122.00,139.90 L123.00,139.89 L124.00,139.89 L125.00,139.89 L126.00,139.89 L127.00,139.89 L128.00,139.89 L129.00,139.88 L130.00,139.88 L131.00,139.88 L132.00,139.88 L133.00,139.88 L134.00,139.88 L135.00,139.87 L136.00,139.87 L137.00,139.87 L138.00,139.87 L139.00,139.87 L140.00,139.87 L141.00,139.87 L142.00,139.87 L143.00,139.87 L144.00,139.87 L145.00,139.86 L146.00,139.86 L147.00,139.86 L148.00,139.86 L149.00,139.86 L150.00,139.86 L151.00,139.86 L152.00,139.86 L153.00,139.86 L154.00,139.86 L155.00,139.86 L156.00,139.86 L157.00,139.86 L158.00,139.86 L159.00,139.86 L160.00,139.86 L161.00,139.86 L162.00,139.86 L163.00,139.86 L164.00,139.86 L165.00,139.86 L166.00,139.86 L167.00,139.86 L168.00,139.86 L169.00,139.86 L170.00,139.86 L171.00,139.86 L172.00,139.86 L173.00,139.86 L174.00,139.86 L175.00,139.87 L176.00,139.87 L177.00,139.87 L178.00,139.87 L179.00,139.87 L180.00,139.87 L181.00,139.87 L182.00,139.87 L183.00,139.87 L184.00,139.87 L185.00,139.88 L186.00,139.88 L187.00,139.88 L188.00,139.88 L189.00,139.88 L190.00,139.88 L191.00,139.88 L192.00,139.89 L193.00,139.89 L194.00,139.89 L195.00,139.89 L196.00,139.89 L197.00,139.89 L198.00,139.90 L199.00,139.90 L200.00,139.90 L201.00,139.90 L202.00,139.90 L203.00,139.91 L204.00,139.91 L205.00,139.91 L206.00,139.91 L207.00,139.92 L208.00,139.92 L209.00,139.92 L210.00,139.92 L211.00,139.92 L212.00,139.93 L213.00,139.93 L214.00,139.93 L215.00,139.94 L216.00,139.94 L217.00,139.94 L218.00,139.94 L219.00,139.95 L220.00,139.95 L221.00,139.95 L222.00,139.95 L223.00,139.96 L224.00,139.96 L225.00,139.96 L226.00,139.97 L227.00,139.97 L228.00,139.97 L229.00,139.98 L230.00,139.98 L231.00,139.98 L232.00,139.99 L233.00,139.99 L234.00,139.99 L235.00,140.00 L236.00,140.00 L237.00,140.00 L238.00,140.01 L239.00,140.01 L240.00,140.01 L241.00,140.02 L242.00,140.02 L243.00,140.03 L244.00,140.03 L245.00,140.03 L246.00,140.04 L247.00,140.04 L248.00,140.04 L249.00,140.05 L250.00,140.05 L251.00,140.06 L252.00,140.06 L253.00,140.06 L254.00,140.07 L255.00,140.07 L256.00,140.08 L257.00,140.08 L258.00,140.09 L259.00,140.09 L260.00,140.09 L261.00,140.10 L262.00,140.10 L263.00,140.11 L264.00,140.11 L265.00,140.12 L266.00,140.12 L267.00,140.12 L268.00,140.13 L269.00,140.13 L270.00,140.14 L271.00,140.14 L272.00,140.15 L273.00,140.15 L274.00,140.16 L275.00,140.16 L276.00,140.17 L277.00,140.17 L278.00,140.18 L279.00,140.18 L280.00,140.18 L281.00,140.19 L282.00,140.19 L283.00,140.20 L284.00,140.20 L285.00,140.21 L286.00,140.21 L287.00,140.22 L288.00,140.22 L289.00,140.23 L290.00,140.23 L291.00,140.24 L292.00,140.24 L293.00,140.25 L294.00,140.25 L295.00,140.26 L296.00,140.26 L297.00,140.27 L298.00,140.27 L299.00,140.28 L300.00,140.28 L301.00,140.29 L302.00,140.29 L303.00,140.30 L304.00,140.30 L305.00,140.31 L306.00,140.31 L307.00,140.32 L308.00,140.32 L309.00,140.33 L310.00,140.33 L311.00,140.34 L312.00,140.35 L313.00,140.35 L314.00,140.36 L315.00,140.36 L316.00,140.37 L317.00,140.37 L318.00,140.38 L319.00,140.38 L320.00,140.39 L321.00,140.39 L322.00,140.40 L323.00,140.40 L324.00,140.41 L325.00,140.41 L326.00,140.42 L327.00,140.42 L328.00,140.43 L329.00,140.44 L330.00,140.44 L331.00,140.45 L332.00,140.45 L333.00,140.46 L334.00,140.46 L335.00,140.47 L336.00,140.47 L337.00,140.48 L338.00,140.48 L339.00,140.49 L340.00,140.49 L341.00,140.50" stroke="#1f5f8f" stroke-dasharray="2.8,1.3"/>
</g>
<g stroke="#000" stroke-width="0.8" fill="none" stroke-linecap="square"><line x1="56.00" y1="3.50" x2="56.00" y2="152.00"/><line x1="341.00" y1="3.50" x2="341.00" y2="152.00"/><line x1="56.00" y1="3.50" x2="341.00" y2="3.50"/><line x1="56.00" y1="152.00" x2="341.00" y2="152.00"/><line x1="56.00" y1="152.00" x2="56.00" y2="155.50" stroke-linecap="butt"/><line x1="113.00" y1="152.00" x2="113.00" y2="155.50" stroke-linecap="butt"/><line x1="170.00" y1="152.00" x2="170.00" y2="155.50" stroke-linecap="butt"/><line x1="227.00" y1="152.00" x2="227.00" y2="155.50" stroke-linecap="butt"/><line x1="284.00" y1="152.00" x2="284.00" y2="155.50" stroke-linecap="butt"/><line x1="341.00" y1="152.00" x2="341.00" y2="155.50" stroke-linecap="butt"/><line x1="52.50" y1="152.00" x2="56.00" y2="152.00" stroke-linecap="butt"/><line x1="52.50" y1="127.25" x2="56.00" y2="127.25" stroke-linecap="butt"/><line x1="52.50" y1="102.50" x2="56.00" y2="102.50" stroke-linecap="butt"/><line x1="52.50" y1="77.75" x2="56.00" y2="77.75" stroke-linecap="butt"/><line x1="52.50" y1="53.00" x2="56.00" y2="53.00" stroke-linecap="butt"/><line x1="52.50" y1="28.25" x2="56.00" y2="28.25" stroke-linecap="butt"/><line x1="52.50" y1="3.50" x2="56.00" y2="3.50" stroke-linecap="butt"/></g>
<text x="56.00" y="167.00" text-anchor="middle" textLength="6.36" lengthAdjust="spacingAndGlyphs">0</text>
<text x="113.00" y="167.00" text-anchor="middle" textLength="6.36" lengthAdjust="spacingAndGlyphs">5</text>
<text x="170.00" y="167.00" text-anchor="middle" textLength="12.72" lengthAdjust="spacingAndGlyphs">10</text>
<text x="227.00" y="167.00" text-anchor="middle" textLength="12.72" lengthAdjust="spacingAndGlyphs">15</text>
<text x="284.00" y="167.00" text-anchor="middle" textLength="12.72" lengthAdjust="spacingAndGlyphs">20</text>
<text x="341.00" y="167.00" text-anchor="middle" textLength="12.72" lengthAdjust="spacingAndGlyphs">25</text>
<text x="49.00" y="155.60" text-anchor="end" textLength="15.29" lengthAdjust="spacingAndGlyphs">0.0</text>
<text x="49.00" y="130.85" text-anchor="end" textLength="15.29" lengthAdjust="spacingAndGlyphs">0.1</text>
<text x="49.00" y="106.10" text-anchor="end" textLength="15.29" lengthAdjust="spacingAndGlyphs">0.2</text>
<text x="49.00" y="81.35" text-anchor="end" textLength="15.29" lengthAdjust="spacingAndGlyphs">0.3</text>
<text x="49.00" y="56.60" text-anchor="end" textLength="15.29" lengthAdjust="spacingAndGlyphs">0.4</text>
<text x="49.00" y="31.85" text-anchor="end" textLength="15.29" lengthAdjust="spacingAndGlyphs">0.5</text>
<text x="49.00" y="7.10" text-anchor="end" textLength="15.29" lengthAdjust="spacingAndGlyphs">0.6</text>
<text x="72.90" y="15.80" text-anchor="end" textLength="13.94" lengthAdjust="spacingAndGlyphs">(a)</text>
<clipPath id="clip_b"><rect x="394.50" y="2.50" width="285.00" height="150.50"/></clipPath>
<g clip-path="url(#clip_b)" fill="none" stroke-width="1.00" stroke-linejoin="round" stroke-linecap="butt">
<path d="M394.50,109.60 L395.50,110.11 L396.50,110.63 L397.50,111.13 L398.50,111.63 L399.50,112.11 L400.50,112.57 L401.50,113.02 L402.50,113.44 L403.50,113.84 L404.50,114.21 L405.50,114.54 L406.50,114.83 L407.50,115.09 L408.50,115.30 L409.50,115.47 L410.50,115.60 L411.50,115.69 L412.50,115.75 L413.50,115.79 L414.50,115.81 L415.50,115.80 L416.50,115.79 L417.50,115.77 L418.50,115.74 L419.50,115.71 L420.50,115.69 L421.50,115.67 L422.50,115.67 L423.50,115.66 L424.50,115.66 L425.50,115.67 L426.50,115.69 L427.50,115.70 L428.50,115.73 L429.50,115.75 L430.50,115.78 L431.50,115.82 L432.50,115.85 L433.50,115.89 L434.50,115.93 L435.50,115.98 L436.50,116.02 L437.50,116.07 L438.50,116.12 L439.50,116.17 L440.50,116.22 L441.50,116.27 L442.50,116.32 L443.50,116.37 L444.50,116.43 L445.50,116.48 L446.50,116.54 L447.50,116.60 L448.50,116.65 L449.50,116.71 L450.50,116.76 L451.50,116.82 L452.50,116.88 L453.50,116.94 L454.50,116.99 L455.50,117.05 L456.50,117.10 L457.50,117.16 L458.50,117.21 L459.50,117.27 L460.50,117.32 L461.50,117.37 L462.50,117.42 L463.50,117.48 L464.50,117.52 L465.50,117.57 L466.50,117.62 L467.50,117.67 L468.50,117.71 L469.50,117.76 L470.50,117.80 L471.50,117.85 L472.50,117.90 L473.50,117.95 L474.50,118.00 L475.50,118.05 L476.50,118.10 L477.50,118.15 L478.50,118.21 L479.50,118.27 L480.50,118.33 L481.50,118.40 L482.50,118.46 L483.50,118.53 L484.50,118.60 L485.50,118.68 L486.50,118.76 L487.50,118.84 L488.50,118.92 L489.50,119.00 L490.50,119.09 L491.50,119.18 L492.50,119.27 L493.50,119.36 L494.50,119.45 L495.50,119.55 L496.50,119.65 L497.50,119.74 L498.50,119.85 L499.50,119.95 L500.50,120.05 L501.50,120.16 L502.50,120.26 L503.50,120.37 L504.50,120.48 L505.50,120.59 L506.50,120.70 L507.50,120.82 L508.50,120.93 L509.50,121.05 L510.50,121.16 L511.50,121.28 L512.50,121.40 L513.50,121.52 L514.50,121.63 L515.50,121.75 L516.50,121.87 L517.50,122.00 L518.50,122.12 L519.50,122.24 L520.50,122.36 L521.50,122.48 L522.50,122.61 L523.50,122.73 L524.50,122.85 L525.50,122.98 L526.50,123.10 L527.50,123.23 L528.50,123.36 L529.50,123.49 L530.50,123.61 L531.50,123.74 L532.50,123.88 L533.50,124.01 L534.50,124.14 L535.50,124.28 L536.50,124.41 L537.50,124.55 L538.50,124.69 L539.50,124.83 L540.50,124.97 L541.50,125.12 L542.50,125.26 L543.50,125.41 L544.50,125.56 L545.50,125.71 L546.50,125.86 L547.50,126.01 L548.50,126.16 L549.50,126.32 L550.50,126.47 L551.50,126.63 L552.50,126.79 L553.50,126.95 L554.50,127.11 L555.50,127.27 L556.50,127.43 L557.50,127.59 L558.50,127.76 L559.50,127.92 L560.50,128.08 L561.50,128.25 L562.50,128.41 L563.50,128.58 L564.50,128.74 L565.50,128.91 L566.50,129.07 L567.50,129.24 L568.50,129.40 L569.50,129.57 L570.50,129.73 L571.50,129.90 L572.50,130.07 L573.50,130.23 L574.50,130.40 L575.50,130.56 L576.50,130.73 L577.50,130.89 L578.50,131.05 L579.50,131.22 L580.50,131.38 L581.50,131.54 L582.50,131.71 L583.50,131.87 L584.50,132.03 L585.50,132.19 L586.50,132.35 L587.50,132.51 L588.50,132.66 L589.50,132.82 L590.50,132.98 L591.50,133.13 L592.50,133.29 L593.50,133.44 L594.50,133.59 L595.50,133.74 L596.50,133.89 L597.50,134.04 L598.50,134.18 L599.50,134.33 L600.50,134.47 L601.50,134.61 L602.50,134.75 L603.50,134.89 L604.50,135.03 L605.50,135.17 L606.50,135.30 L607.50,135.44 L608.50,135.57 L609.50,135.70 L610.50,135.83 L611.50,135.96 L612.50,136.09 L613.50,136.22 L614.50,136.34 L615.50,136.47 L616.50,136.59 L617.50,136.72 L618.50,136.84 L619.50,136.96 L620.50,137.08 L621.50,137.20 L622.50,137.32 L623.50,137.44 L624.50,137.55 L625.50,137.67 L626.50,137.79 L627.50,137.90 L628.50,138.02 L629.50,138.13 L630.50,138.24 L631.50,138.36 L632.50,138.47 L633.50,138.58 L634.50,138.69 L635.50,138.80 L636.50,138.91 L637.50,139.03 L638.50,139.14 L639.50,139.25 L640.50,139.35 L641.50,139.46 L642.50,139.57 L643.50,139.68 L644.50,139.79 L645.50,139.90 L646.50,140.01 L647.50,140.12 L648.50,140.22 L649.50,140.33 L650.50,140.44 L651.50,140.55 L652.50,140.65 L653.50,140.76 L654.50,140.87 L655.50,140.97 L656.50,141.08 L657.50,141.19 L658.50,141.29 L659.50,141.40 L660.50,141.50 L661.50,141.61 L662.50,141.71 L663.50,141.82 L664.50,141.93 L665.50,142.03 L666.50,142.14 L667.50,142.24 L668.50,142.35 L669.50,142.45 L670.50,142.56 L671.50,142.66 L672.50,142.77 L673.50,142.87 L674.50,142.98 L675.50,143.08 L676.50,143.19 L677.50,143.29 L678.50,143.40 L679.50,143.50" stroke="#b22222" stroke-dasharray="2.8,1.3"/>
<path d="M394.50,88.40 L395.50,89.19 L396.50,89.97 L397.50,90.75 L398.50,91.50 L399.50,92.24 L400.50,92.95 L401.50,93.63 L402.50,94.26 L403.50,94.84 L404.50,95.37 L405.50,95.82 L406.50,96.20 L407.50,96.50 L408.50,96.75 L409.50,96.93 L410.50,97.05 L411.50,97.13 L412.50,97.15 L413.50,97.14 L414.50,97.10 L415.50,97.04 L416.50,96.96 L417.50,96.88 L418.50,96.80 L419.50,96.73 L420.50,96.68 L421.50,96.64 L422.50,96.63 L423.50,96.63 L424.50,96.64 L425.50,96.67 L426.50,96.71 L427.50,96.76 L428.50,96.81 L429.50,96.87 L430.50,96.93 L431.50,97.00 L432.50,97.06 L433.50,97.13 L434.50,97.20 L435.50,97.27 L436.50,97.34 L437.50,97.42 L438.50,97.49 L439.50,97.56 L440.50,97.64 L441.50,97.71 L442.50,97.78 L443.50,97.86 L444.50,97.93 L445.50,98.00 L446.50,98.08 L447.50,98.15 L448.50,98.23 L449.50,98.30 L450.50,98.38 L451.50,98.46 L452.50,98.54 L453.50,98.62 L454.50,98.71 L455.50,98.79 L456.50,98.88 L457.50,98.97 L458.50,99.06 L459.50,99.15 L460.50,99.25 L461.50,99.35 L462.50,99.45 L463.50,99.55 L464.50,99.66 L465.50,99.77 L466.50,99.88 L467.50,100.00 L468.50,100.12 L469.50,100.25 L470.50,100.37 L471.50,100.51 L472.50,100.64 L473.50,100.78 L474.50,100.93 L475.50,101.07 L476.50,101.23 L477.50,101.39 L478.50,101.55 L479.50,101.71 L480.50,101.89 L481.50,102.06 L482.50,102.25 L483.50,102.43 L484.50,102.62 L485.50,102.82 L486.50,103.02 L487.50,103.22 L488.50,103.43 L489.50,103.65 L490.50,103.86 L491.50,104.08 L492.50,104.31 L493.50,104.54 L494.50,104.77 L495.50,105.00 L496.50,105.24 L497.50,105.48 L498.50,105.73 L499.50,105.98 L500.50,106.23 L501.50,106.48 L502.50,106.73 L503.50,106.99 L504.50,107.25 L505.50,107.51 L506.50,107.78 L507.50,108.04 L508.50,108.31 L509.50,108.58 L510.50,108.85 L511.50,109.11 L512.50,109.38 L513.50,109.65 L514.50,109.92 L515.50,110.19 L516.50,110.46 L517.50,110.73 L518.50,111.00 L519.50,111.27 L520.50,111.53 L521.50,111.80 L522.50,112.06 L523.50,112.32 L524.50,112.59 L525.50,112.85 L526.50,113.11 L527.50,113.37 L528.50,113.62 L529.50,113.88 L530.50,114.14 L531.50,114.40 L532.50,114.66 L533.50,114.92 L534.50,115.17 L535.50,115.43 L536.50,115.69 L537.50,115.95 L538.50,116.21 L539.50,116.47 L540.50,116.73 L541.50,116.99 L542.50,117.25 L543.50,117.52 L544.50,117.78 L545.50,118.04 L546.50,118.31 L547.50,118.57 L548.50,118.83 L549.50,119.10 L550.50,119.36 L551.50,119.62 L552.50,119.88 L553.50,120.14 L554.50,120.40 L555.50,120.66 L556.50,120.91 L557.50,121.17 L558.50,121.42 L559.50,121.67 L560.50,121.92 L561.50,122.17 L562.50,122.42 L563.50,122.67 L564.50,122.91 L565.50,123.15 L566.50,123.39 L567.50,123.63 L568.50,123.87 L569.50,124.10 L570.50,124.34 L571.50,124.57 L572.50,124.80 L573.50,125.03 L574.50,125.26 L575.50,125.49 L576.50,125.72 L577.50,125.94 L578.50,126.17 L579.50,126.39 L580.50,126.61 L581.50,126.83 L582.50,127.05 L583.50,127.27 L584.50,127.49 L585.50,127.71 L586.50,127.92 L587.50,128.14 L588.50,128.35 L589.50,128.56 L590.50,128.77 L591.50,128.98 L592.50,129.19 L593.50,129.40 L594.50,129.60 L595.50,129.81 L596.50,130.01 L597.50,130.21 L598.50,130.41 L599.50,130.60 L600.50,130.80 L601.50,130.99 L602.50,131.18 L603.50,131.37 L604.50,131.56 L605.50,131.75 L606.50,131.93 L607.50,132.11 L608.50,132.29 L609.50,132.47 L610.50,132.65 L611.50,132.83 L612.50,133.00 L613.50,133.18 L614.50,133.35 L615.50,133.52 L616.50,133.69 L617.50,133.86 L618.50,134.02 L619.50,134.19 L620.50,134.35 L621.50,134.51 L622.50,134.67 L623.50,134.83 L624.50,134.99 L625.50,135.15 L626.50,135.30 L627.50,135.46 L628.50,135.61 L629.50,135.77 L630.50,135.92 L631.50,136.07 L632.50,136.22 L633.50,136.36 L634.50,136.51 L635.50,136.66 L636.50,136.80 L637.50,136.94 L638.50,137.09 L639.50,137.23 L640.50,137.37 L641.50,137.51 L642.50,137.65 L643.50,137.79 L644.50,137.93 L645.50,138.06 L646.50,138.20 L647.50,138.33 L648.50,138.47 L649.50,138.60 L650.50,138.74 L651.50,138.87 L652.50,139.00 L653.50,139.13 L654.50,139.26 L655.50,139.39 L656.50,139.52 L657.50,139.65 L658.50,139.78 L659.50,139.91 L660.50,140.03 L661.50,140.16 L662.50,140.29 L663.50,140.41 L664.50,140.54 L665.50,140.67 L666.50,140.79 L667.50,140.92 L668.50,141.04 L669.50,141.16 L670.50,141.29 L671.50,141.41 L672.50,141.54 L673.50,141.66 L674.50,141.78 L675.50,141.91 L676.50,142.03 L677.50,142.15 L678.50,142.28 L679.50,142.40" stroke="#fa8072" stroke-dasharray="2.8,1.3"/>
<path d="M394.50,67.10 L395.50,68.60 L396.50,70.06 L397.50,71.45 L398.50,72.74 L399.50,73.89 L400.50,74.86 L401.50,75.66 L402.50,76.31 L403.50,76.85 L404.50,77.30 L405.50,77.69 L406.50,78.05 L407.50,78.35 L408.50,78.61 L409.50,78.82 L410.50,78.97 L411.50,79.06 L412.50,79.10 L413.50,79.10 L414.50,79.06 L415.50,78.99 L416.50,78.90 L417.50,78.80 L418.50,78.68 L419.50,78.56 L420.50,78.44 L421.50,78.33 L422.50,78.23 L423.50,78.14 L424.50,78.05 L425.50,77.98 L426.50,77.92 L427.50,77.87 L428.50,77.83 L429.50,77.81 L430.50,77.80 L431.50,77.80 L432.50,77.82 L433.50,77.84 L434.50,77.88 L435.50,77.93 L436.50,77.98 L437.50,78.04 L438.50,78.10 L439.50,78.17 L440.50,78.23 L441.50,78.30 L442.50,78.38 L443.50,78.45 L444.50,78.53 L445.50,78.61 L446.50,78.70 L447.50,78.79 L448.50,78.90 L449.50,79.00 L450.50,79.12 L451.50,79.25 L452.50,79.38 L453.50,79.53 L454.50,79.69 L455.50,79.86 L456.50,80.04 L457.50,80.24 L458.50,80.45 L459.50,80.68 L460.50,80.92 L461.50,81.18 L462.50,81.46 L463.50,81.75 L464.50,82.05 L465.50,82.37 L466.50,82.69 L467.50,83.03 L468.50,83.39 L469.50,83.75 L470.50,84.12 L471.50,84.50 L472.50,84.89 L473.50,85.29 L474.50,85.69 L475.50,86.10 L476.50,86.51 L477.50,86.93 L478.50,87.36 L479.50,87.79 L480.50,88.22 L481.50,88.65 L482.50,89.08 L483.50,89.52 L484.50,89.95 L485.50,90.39 L486.50,90.83 L487.50,91.27 L488.50,91.72 L489.50,92.16 L490.50,92.60 L491.50,93.04 L492.50,93.49 L493.50,93.93 L494.50,94.37 L495.50,94.82 L496.50,95.26 L497.50,95.70 L498.50,96.14 L499.50,96.58 L500.50,97.02 L501.50,97.46 L502.50,97.89 L503.50,98.32 L504.50,98.76 L505.50,99.19 L506.50,99.61 L507.50,100.04 L508.50,100.47 L509.50,100.89 L510.50,101.31 L511.50,101.73 L512.50,102.14 L513.50,102.56 L514.50,102.97 L515.50,103.38 L516.50,103.79 L517.50,104.20 L518.50,104.60 L519.50,105.00 L520.50,105.40 L521.50,105.79 L522.50,106.19 L523.50,106.58 L524.50,106.97 L525.50,107.35 L526.50,107.74 L527.50,108.12 L528.50,108.50 L529.50,108.88 L530.50,109.25 L531.50,109.62 L532.50,109.99 L533.50,110.36 L534.50,110.73 L535.50,111.09 L536.50,111.45 L537.50,111.81 L538.50,112.17 L539.50,112.52 L540.50,112.88 L541.50,113.23 L542.50,113.58 L543.50,113.92 L544.50,114.27 L545.50,114.61 L546.50,114.95 L547.50,115.28 L548.50,115.62 L549.50,115.95 L550.50,116.28 L551.50,116.60 L552.50,116.92 L553.50,117.24 L554.50,117.55 L555.50,117.86 L556.50,118.16 L557.50,118.47 L558.50,118.76 L559.50,119.06 L560.50,119.34 L561.50,119.63 L562.50,119.91 L563.50,120.18 L564.50,120.46 L565.50,120.72 L566.50,120.99 L567.50,121.25 L568.50,121.51 L569.50,121.76 L570.50,122.02 L571.50,122.26 L572.50,122.51 L573.50,122.76 L574.50,123.00 L575.50,123.24 L576.50,123.48 L577.50,123.71 L578.50,123.95 L579.50,124.18 L580.50,124.42 L581.50,124.65 L582.50,124.88 L583.50,125.11 L584.50,125.34 L585.50,125.56 L586.50,125.79 L587.50,126.01 L588.50,126.24 L589.50,126.46 L590.50,126.68 L591.50,126.90 L592.50,127.11 L593.50,127.33 L594.50,127.55 L595.50,127.76 L596.50,127.97 L597.50,128.18 L598.50,128.39 L599.50,128.60 L600.50,128.80 L601.50,129.01 L602.50,129.21 L603.50,129.41 L604.50,129.61 L605.50,129.81 L606.50,130.00 L607.50,130.20 L608.50,130.39 L609.50,130.58 L610.50,130.77 L611.50,130.96 L612.50,131.15 L613.50,131.33 L614.50,131.52 L615.50,131.70 L616.50,131.88 L617.50,132.06 L618.50,132.24 L619.50,132.42 L620.50,132.59 L621.50,132.77 L622.50,132.94 L623.50,133.12 L624.50,133.29 L625.50,133.46 L626.50,133.63 L627.50,133.79 L628.50,133.96 L629.50,134.13 L630.50,134.29 L631.50,134.45 L632.50,134.62 L633.50,134.78 L634.50,134.94 L635.50,135.10 L636.50,135.25 L637.50,135.41 L638.50,135.57 L639.50,135.72 L640.50,135.88 L641.50,136.03 L642.50,136.18 L643.50,136.33 L644.50,136.48 L645.50,136.63 L646.50,136.78 L647.50,136.93 L648.50,137.08 L649.50,137.23 L650.50,137.37 L651.50,137.52 L652.50,137.66 L653.50,137.80 L654.50,137.95 L655.50,138.09 L656.50,138.23 L657.50,138.37 L658.50,138.52 L659.50,138.66 L660.50,138.80 L661.50,138.94 L662.50,139.08 L663.50,139.21 L664.50,139.35 L665.50,139.49 L666.50,139.63 L667.50,139.77 L668.50,139.90 L669.50,140.04 L670.50,140.18 L671.50,140.31 L672.50,140.45 L673.50,140.59 L674.50,140.72 L675.50,140.86 L676.50,140.99 L677.50,141.13 L678.50,141.26 L679.50,141.40" stroke="#8fbc7f" stroke-dasharray="2.8,1.3"/>
<path d="M394.50,45.90 L395.50,47.56 L396.50,49.18 L397.50,50.76 L398.50,52.26 L399.50,53.65 L400.50,54.91 L401.50,56.03 L402.50,57.02 L403.50,57.87 L404.50,58.60 L405.50,59.21 L406.50,59.70 L407.50,60.08 L408.50,60.35 L409.50,60.53 L410.50,60.62 L411.50,60.63 L412.50,60.56 L413.50,60.42 L414.50,60.23 L415.50,59.99 L416.50,59.73 L417.50,59.45 L418.50,59.17 L419.50,58.92 L420.50,58.69 L421.50,58.50 L422.50,58.35 L423.50,58.23 L424.50,58.13 L425.50,58.06 L426.50,58.00 L427.50,57.96 L428.50,57.93 L429.50,57.91 L430.50,57.89 L431.50,57.87 L432.50,57.86 L433.50,57.86 L434.50,57.87 L435.50,57.90 L436.50,57.94 L437.50,58.01 L438.50,58.10 L439.50,58.23 L440.50,58.38 L441.50,58.57 L442.50,58.79 L443.50,59.04 L444.50,59.31 L445.50,59.62 L446.50,59.95 L447.50,60.31 L448.50,60.69 L449.50,61.09 L450.50,61.51 L451.50,61.96 L452.50,62.42 L453.50,62.90 L454.50,63.39 L455.50,63.91 L456.50,64.44 L457.50,64.98 L458.50,65.54 L459.50,66.11 L460.50,66.69 L461.50,67.29 L462.50,67.90 L463.50,68.51 L464.50,69.14 L465.50,69.77 L466.50,70.41 L467.50,71.06 L468.50,71.71 L469.50,72.37 L470.50,73.03 L471.50,73.69 L472.50,74.36 L473.50,75.02 L474.50,75.69 L475.50,76.35 L476.50,77.01 L477.50,77.67 L478.50,78.33 L479.50,78.98 L480.50,79.62 L481.50,80.26 L482.50,80.89 L483.50,81.52 L484.50,82.14 L485.50,82.75 L486.50,83.36 L487.50,83.96 L488.50,84.56 L489.50,85.16 L490.50,85.75 L491.50,86.34 L492.50,86.92 L493.50,87.50 L494.50,88.08 L495.50,88.65 L496.50,89.22 L497.50,89.79 L498.50,90.36 L499.50,90.92 L500.50,91.48 L501.50,92.04 L502.50,92.60 L503.50,93.15 L504.50,93.70 L505.50,94.25 L506.50,94.80 L507.50,95.34 L508.50,95.88 L509.50,96.42 L510.50,96.95 L511.50,97.48 L512.50,98.01 L513.50,98.53 L514.50,99.05 L515.50,99.56 L516.50,100.07 L517.50,100.57 L518.50,101.06 L519.50,101.56 L520.50,102.04 L521.50,102.52 L522.50,103.00 L523.50,103.47 L524.50,103.93 L525.50,104.39 L526.50,104.85 L527.50,105.30 L528.50,105.74 L529.50,106.19 L530.50,106.62 L531.50,107.06 L532.50,107.49 L533.50,107.91 L534.50,108.33 L535.50,108.75 L536.50,109.17 L537.50,109.58 L538.50,109.99 L539.50,110.40 L540.50,110.80 L541.50,111.20 L542.50,111.60 L543.50,112.00 L544.50,112.39 L545.50,112.78 L546.50,113.17 L547.50,113.55 L548.50,113.93 L549.50,114.31 L550.50,114.68 L551.50,115.05 L552.50,115.41 L553.50,115.77 L554.50,116.13 L555.50,116.48 L556.50,116.83 L557.50,117.17 L558.50,117.50 L559.50,117.84 L560.50,118.16 L561.50,118.48 L562.50,118.80 L563.50,119.11 L564.50,119.42 L565.50,119.72 L566.50,120.02 L567.50,120.31 L568.50,120.60 L569.50,120.89 L570.50,121.17 L571.50,121.45 L572.50,121.72 L573.50,122.00 L574.50,122.27 L575.50,122.53 L576.50,122.80 L577.50,123.06 L578.50,123.32 L579.50,123.57 L580.50,123.83 L581.50,124.08 L582.50,124.33 L583.50,124.58 L584.50,124.83 L585.50,125.07 L586.50,125.32 L587.50,125.56 L588.50,125.80 L589.50,126.03 L590.50,126.27 L591.50,126.50 L592.50,126.73 L593.50,126.96 L594.50,127.19 L595.50,127.41 L596.50,127.64 L597.50,127.86 L598.50,128.08 L599.50,128.29 L600.50,128.51 L601.50,128.72 L602.50,128.93 L603.50,129.14 L604.50,129.34 L605.50,129.55 L606.50,129.75 L607.50,129.95 L608.50,130.15 L609.50,130.34 L610.50,130.54 L611.50,130.73 L612.50,130.92 L613.50,131.11 L614.50,131.30 L615.50,131.48 L616.50,131.67 L617.50,131.85 L618.50,132.03 L619.50,132.21 L620.50,132.39 L621.50,132.56 L622.50,132.74 L623.50,132.91 L624.50,133.08 L625.50,133.25 L626.50,133.42 L627.50,133.59 L628.50,133.76 L629.50,133.92 L630.50,134.09 L631.50,134.25 L632.50,134.41 L633.50,134.57 L634.50,134.74 L635.50,134.89 L636.50,135.05 L637.50,135.21 L638.50,135.37 L639.50,135.52 L640.50,135.68 L641.50,135.83 L642.50,135.98 L643.50,136.14 L644.50,136.29 L645.50,136.44 L646.50,136.59 L647.50,136.74 L648.50,136.89 L649.50,137.04 L650.50,137.19 L651.50,137.33 L652.50,137.48 L653.50,137.63 L654.50,137.77 L655.50,137.92 L656.50,138.06 L657.50,138.21 L658.50,138.35 L659.50,138.49 L660.50,138.64 L661.50,138.78 L662.50,138.92 L663.50,139.06 L664.50,139.20 L665.50,139.34 L666.50,139.49 L667.50,139.63 L668.50,139.77 L669.50,139.91 L670.50,140.05 L671.50,140.19 L672.50,140.33 L673.50,140.47 L674.50,140.60 L675.50,140.74 L676.50,140.88 L677.50,141.02 L678.50,141.16 L679.50,141.30" stroke="#3f7f3f" stroke-dasharray="2.8,1.3"/>
<path d="M394.50,109.60 L395.50,109.85 L396.50,110.08 L397.50,110.30 L398.50,110.49 L399.50,110.63 L400.50,110.70 L401.50,110.67 L402.50,110.54 L403.50,110.31 L404.50,110.01 L405.50,109.64 L406.50,109.21 L407.50,108.75 L408.50,108.26 L409.50,107.75 L410.50,107.25 L411.50,106.75 L412.50,106.25 L413.50,105.77 L414.50,105.29 L415.50,104.83 L416.50,104.37 L417.50,103.93 L418.50,103.51 L419.50,103.10 L420.50,102.70 L421.50,102.33 L422.50,101.98 L423.50,101.65 L424.50,101.34 L425.50,101.06 L426.50,100.81 L427.50,100.58 L428.50,100.38 L429.50,100.20 L430.50,100.04 L431.50,99.89 L432.50,99.77 L433.50,99.67 L434.50,99.58 L435.50,99.50 L436.50,99.44 L437.50,99.39 L438.50,99.34 L439.50,99.31 L440.50,99.29 L441.50,99.27 L442.50,99.26 L443.50,99.26 L444.50,99.26 L445.50,99.26 L446.50,99.28 L447.50,99.29 L448.50,99.31 L449.50,99.33 L450.50,99.36 L451.50,99.39 L452.50,99.42 L453.50,99.46 L454.50,99.49 L455.50,99.53 L456.50,99.57 L457.50,99.60 L458.50,99.64 L459.50,99.68 L460.50,99.72 L461.50,99.75 L462.50,99.79 L463.50,99.83 L464.50,99.86 L465.50,99.89 L466.50,99.93 L467.50,99.96 L468.50,99.99 L469.50,100.03 L470.50,100.06 L471.50,100.09 L472.50,100.13 L473.50,100.16 L474.50,100.20 L475.50,100.23 L476.50,100.27 L477.50,100.30 L478.50,100.34 L479.50,100.38 L480.50,100.42 L481.50,100.46 L482.50,100.50 L483.50,100.55 L484.50,100.59 L485.50,100.64 L486.50,100.69 L487.50,100.74 L488.50,100.79 L489.50,100.84 L490.50,100.89 L491.50,100.95 L492.50,101.01 L493.50,101.07 L494.50,101.13 L495.50,101.19 L496.50,101.26 L497.50,101.32 L498.50,101.39 L499.50,101.46 L500.50,101.54 L501.50,101.61 L502.50,101.69 L503.50,101.77 L504.50,101.85 L505.50,101.94 L506.50,102.03 L507.50,102.11 L508.50,102.20 L509.50,102.30 L510.50,102.39 L511.50,102.49 L512.50,102.59 L513.50,102.69 L514.50,102.79 L515.50,102.90 L516.50,103.01 L517.50,103.12 L518.50,103.23 L519.50,103.34 L520.50,103.46 L521.50,103.58 L522.50,103.70 L523.50,103.82 L524.50,103.94 L525.50,104.07 L526.50,104.19 L527.50,104.32 L528.50,104.45 L529.50,104.59 L530.50,104.72 L531.50,104.86 L532.50,105.00 L533.50,105.14 L534.50,105.28 L535.50,105.43 L536.50,105.57 L537.50,105.72 L538.50,105.87 L539.50,106.02 L540.50,106.18 L541.50,106.33 L542.50,106.49 L543.50,106.65 L544.50,106.81 L545.50,106.97 L546.50,107.14 L547.50,107.30 L548.50,107.47 L549.50,107.63 L550.50,107.80 L551.50,107.97 L552.50,108.14 L553.50,108.30 L554.50,108.47 L555.50,108.64 L556.50,108.81 L557.50,108.98 L558.50,109.15 L559.50,109.32 L560.50,109.48 L561.50,109.65 L562.50,109.82 L563.50,109.98 L564.50,110.15 L565.50,110.32 L566.50,110.48 L567.50,110.65 L568.50,110.81 L569.50,110.98 L570.50,111.14 L571.50,111.30 L572.50,111.47 L573.50,111.63 L574.50,111.80 L575.50,111.96 L576.50,112.12 L577.50,112.29 L578.50,112.45 L579.50,112.62 L580.50,112.78 L581.50,112.95 L582.50,113.11 L583.50,113.28 L584.50,113.44 L585.50,113.61 L586.50,113.77 L587.50,113.94 L588.50,114.10 L589.50,114.27 L590.50,114.44 L591.50,114.60 L592.50,114.77 L593.50,114.93 L594.50,115.10 L595.50,115.26 L596.50,115.43 L597.50,115.59 L598.50,115.75 L599.50,115.92 L600.50,116.08 L601.50,116.24 L602.50,116.41 L603.50,116.57 L604.50,116.73 L605.50,116.89 L606.50,117.06 L607.50,117.22 L608.50,117.38 L609.50,117.54 L610.50,117.70 L611.50,117.86 L612.50,118.02 L613.50,118.18 L614.50,118.34 L615.50,118.50 L616.50,118.65 L617.50,118.81 L618.50,118.97 L619.50,119.13 L620.50,119.28 L621.50,119.44 L622.50,119.60 L623.50,119.75 L624.50,119.91 L625.50,120.07 L626.50,120.22 L627.50,120.38 L628.50,120.53 L629.50,120.69 L630.50,120.84 L631.50,121.00 L632.50,121.15 L633.50,121.31 L634.50,121.46 L635.50,121.61 L636.50,121.77 L637.50,121.92 L638.50,122.07 L639.50,122.22 L640.50,122.38 L641.50,122.53 L642.50,122.68 L643.50,122.83 L644.50,122.98 L645.50,123.13 L646.50,123.29 L647.50,123.44 L648.50,123.59 L649.50,123.74 L650.50,123.89 L651.50,124.04 L652.50,124.19 L653.50,124.34 L654.50,124.49 L655.50,124.64 L656.50,124.79 L657.50,124.94 L658.50,125.09 L659.50,125.23 L660.50,125.38 L661.50,125.53 L662.50,125.68 L663.50,125.83 L664.50,125.98 L665.50,126.13 L666.50,126.28 L667.50,126.42 L668.50,126.57 L669.50,126.72 L670.50,126.87 L671.50,127.02 L672.50,127.16 L673.50,127.31 L674.50,127.46 L675.50,127.61 L676.50,127.76 L677.50,127.90 L678.50,128.05 L679.50,128.20" stroke="#b22222"/>
<path d="M394.50,88.40 L395.50,88.61 L396.50,88.81 L397.50,89.02 L398.50,89.22 L399.50,89.41 L400.50,89.59 L401.50,89.75 L402.50,89.84 L403.50,89.84 L404.50,89.72 L405.50,89.46 L406.50,89.09 L407.50,88.61 L408.50,88.05 L409.50,87.43 L410.50,86.76 L411.50,86.05 L412.50,85.32 L413.50,84.58 L414.50,83.82 L415.50,83.06 L416.50,82.32 L417.50,81.59 L418.50,80.89 L419.50,80.22 L420.50,79.59 L421.50,79.02 L422.50,78.49 L423.50,78.00 L424.50,77.56 L425.50,77.17 L426.50,76.81 L427.50,76.50 L428.50,76.23 L429.50,76.00 L430.50,75.81 L431.50,75.65 L432.50,75.53 L433.50,75.44 L434.50,75.37 L435.50,75.32 L436.50,75.30 L437.50,75.29 L438.50,75.29 L439.50,75.29 L440.50,75.31 L441.50,75.32 L442.50,75.34 L443.50,75.36 L444.50,75.38 L445.50,75.40 L446.50,75.43 L447.50,75.46 L448.50,75.49 L449.50,75.52 L450.50,75.55 L451.50,75.58 L452.50,75.62 L453.50,75.65 L454.50,75.69 L455.50,75.73 L456.50,75.77 L457.50,75.80 L458.50,75.84 L459.50,75.88 L460.50,75.92 L461.50,75.96 L462.50,76.00 L463.50,76.04 L464.50,76.08 L465.50,76.13 L466.50,76.18 L467.50,76.23 L468.50,76.29 L469.50,76.35 L470.50,76.41 L471.50,76.49 L472.50,76.56 L473.50,76.65 L474.50,76.74 L475.50,76.84 L476.50,76.95 L477.50,77.06 L478.50,77.19 L479.50,77.33 L480.50,77.47 L481.50,77.63 L482.50,77.80 L483.50,77.98 L484.50,78.16 L485.50,78.36 L486.50,78.56 L487.50,78.77 L488.50,78.99 L489.50,79.21 L490.50,79.44 L491.50,79.67 L492.50,79.91 L493.50,80.15 L494.50,80.40 L495.50,80.65 L496.50,80.90 L497.50,81.16 L498.50,81.41 L499.50,81.67 L500.50,81.93 L501.50,82.19 L502.50,82.45 L503.50,82.71 L504.50,82.97 L505.50,83.23 L506.50,83.49 L507.50,83.75 L508.50,84.02 L509.50,84.29 L510.50,84.55 L511.50,84.82 L512.50,85.09 L513.50,85.37 L514.50,85.64 L515.50,85.92 L516.50,86.20 L517.50,86.48 L518.50,86.77 L519.50,87.06 L520.50,87.35 L521.50,87.64 L522.50,87.93 L523.50,88.23 L524.50,88.53 L525.50,88.84 L526.50,89.14 L527.50,89.45 L528.50,89.76 L529.50,90.07 L530.50,90.38 L531.50,90.70 L532.50,91.01 L533.50,91.33 L534.50,91.64 L535.50,91.96 L536.50,92.28 L537.50,92.60 L538.50,92.92 L539.50,93.24 L540.50,93.56 L541.50,93.88 L542.50,94.20 L543.50,94.52 L544.50,94.84 L545.50,95.16 L546.50,95.47 L547.50,95.79 L548.50,96.11 L549.50,96.42 L550.50,96.73 L551.50,97.04 L552.50,97.35 L553.50,97.66 L554.50,97.97 L555.50,98.27 L556.50,98.57 L557.50,98.87 L558.50,99.16 L559.50,99.46 L560.50,99.74 L561.50,100.03 L562.50,100.31 L563.50,100.59 L564.50,100.87 L565.50,101.15 L566.50,101.42 L567.50,101.69 L568.50,101.96 L569.50,102.23 L570.50,102.50 L571.50,102.76 L572.50,103.03 L573.50,103.29 L574.50,103.55 L575.50,103.82 L576.50,104.08 L577.50,104.34 L578.50,104.61 L579.50,104.87 L580.50,105.13 L581.50,105.40 L582.50,105.66 L583.50,105.92 L584.50,106.19 L585.50,106.45 L586.50,106.72 L587.50,106.98 L588.50,107.25 L589.50,107.51 L590.50,107.77 L591.50,108.03 L592.50,108.29 L593.50,108.55 L594.50,108.81 L595.50,109.07 L596.50,109.32 L597.50,109.58 L598.50,109.83 L599.50,110.08 L600.50,110.32 L601.50,110.57 L602.50,110.81 L603.50,111.05 L604.50,111.29 L605.50,111.53 L606.50,111.76 L607.50,111.99 L608.50,112.22 L609.50,112.45 L610.50,112.68 L611.50,112.91 L612.50,113.13 L613.50,113.35 L614.50,113.57 L615.50,113.79 L616.50,114.00 L617.50,114.22 L618.50,114.43 L619.50,114.64 L620.50,114.85 L621.50,115.06 L622.50,115.27 L623.50,115.48 L624.50,115.68 L625.50,115.88 L626.50,116.08 L627.50,116.29 L628.50,116.48 L629.50,116.68 L630.50,116.88 L631.50,117.08 L632.50,117.27 L633.50,117.46 L634.50,117.66 L635.50,117.85 L636.50,118.04 L637.50,118.23 L638.50,118.42 L639.50,118.61 L640.50,118.79 L641.50,118.98 L642.50,119.17 L643.50,119.35 L644.50,119.54 L645.50,119.72 L646.50,119.90 L647.50,120.09 L648.50,120.27 L649.50,120.45 L650.50,120.63 L651.50,120.81 L652.50,120.99 L653.50,121.17 L654.50,121.35 L655.50,121.52 L656.50,121.70 L657.50,121.88 L658.50,122.06 L659.50,122.23 L660.50,122.41 L661.50,122.58 L662.50,122.76 L663.50,122.93 L664.50,123.11 L665.50,123.28 L666.50,123.46 L667.50,123.63 L668.50,123.80 L669.50,123.98 L670.50,124.15 L671.50,124.32 L672.50,124.49 L673.50,124.67 L674.50,124.84 L675.50,125.01 L676.50,125.18 L677.50,125.36 L678.50,125.53 L679.50,125.70" stroke="#fa8072"/>
<path d="M394.50,67.10 L395.50,67.63 L396.50,68.15 L397.50,68.64 L398.50,69.07 L399.50,69.44 L400.50,69.73 L401.50,69.93 L402.50,70.03 L403.50,70.04 L404.50,69.94 L405.50,69.75 L406.50,69.46 L407.50,69.08 L408.50,68.63 L409.50,68.09 L410.50,67.49 L411.50,66.82 L412.50,66.10 L413.50,65.33 L414.50,64.53 L415.50,63.70 L416.50,62.86 L417.50,62.00 L418.50,61.15 L419.50,60.31 L420.50,59.49 L421.50,58.70 L422.50,57.94 L423.50,57.20 L424.50,56.50 L425.50,55.83 L426.50,55.20 L427.50,54.61 L428.50,54.05 L429.50,53.54 L430.50,53.07 L431.50,52.65 L432.50,52.26 L433.50,51.92 L434.50,51.62 L435.50,51.34 L436.50,51.11 L437.50,50.90 L438.50,50.72 L439.50,50.57 L440.50,50.44 L441.50,50.33 L442.50,50.25 L443.50,50.18 L444.50,50.13 L445.50,50.10 L446.50,50.08 L447.50,50.07 L448.50,50.08 L449.50,50.09 L450.50,50.11 L451.50,50.14 L452.50,50.18 L453.50,50.23 L454.50,50.30 L455.50,50.38 L456.50,50.48 L457.50,50.60 L458.50,50.74 L459.50,50.91 L460.50,51.10 L461.50,51.32 L462.50,51.56 L463.50,51.83 L464.50,52.12 L465.50,52.43 L466.50,52.75 L467.50,53.09 L468.50,53.45 L469.50,53.81 L470.50,54.19 L471.50,54.57 L472.50,54.97 L473.50,55.37 L474.50,55.78 L475.50,56.19 L476.50,56.61 L477.50,57.03 L478.50,57.46 L479.50,57.88 L480.50,58.32 L481.50,58.75 L482.50,59.18 L483.50,59.62 L484.50,60.06 L485.50,60.50 L486.50,60.94 L487.50,61.38 L488.50,61.83 L489.50,62.28 L490.50,62.73 L491.50,63.18 L492.50,63.64 L493.50,64.10 L494.50,64.56 L495.50,65.02 L496.50,65.49 L497.50,65.96 L498.50,66.43 L499.50,66.91 L500.50,67.39 L501.50,67.87 L502.50,68.36 L503.50,68.84 L504.50,69.34 L505.50,69.83 L506.50,70.33 L507.50,70.83 L508.50,71.33 L509.50,71.83 L510.50,72.33 L511.50,72.83 L512.50,73.33 L513.50,73.83 L514.50,74.32 L515.50,74.82 L516.50,75.31 L517.50,75.80 L518.50,76.28 L519.50,76.76 L520.50,77.24 L521.50,77.71 L522.50,78.17 L523.50,78.64 L524.50,79.09 L525.50,79.55 L526.50,80.00 L527.50,80.45 L528.50,80.89 L529.50,81.33 L530.50,81.78 L531.50,82.21 L532.50,82.65 L533.50,83.09 L534.50,83.52 L535.50,83.95 L536.50,84.39 L537.50,84.82 L538.50,85.25 L539.50,85.68 L540.50,86.12 L541.50,86.55 L542.50,86.99 L543.50,87.42 L544.50,87.85 L545.50,88.29 L546.50,88.72 L547.50,89.15 L548.50,89.58 L549.50,90.01 L550.50,90.43 L551.50,90.86 L552.50,91.28 L553.50,91.69 L554.50,92.10 L555.50,92.51 L556.50,92.92 L557.50,93.32 L558.50,93.72 L559.50,94.11 L560.50,94.49 L561.50,94.87 L562.50,95.25 L563.50,95.62 L564.50,95.98 L565.50,96.34 L566.50,96.70 L567.50,97.05 L568.50,97.40 L569.50,97.74 L570.50,98.08 L571.50,98.42 L572.50,98.76 L573.50,99.09 L574.50,99.42 L575.50,99.75 L576.50,100.07 L577.50,100.40 L578.50,100.72 L579.50,101.04 L580.50,101.36 L581.50,101.68 L582.50,102.00 L583.50,102.31 L584.50,102.63 L585.50,102.94 L586.50,103.25 L587.50,103.57 L588.50,103.88 L589.50,104.18 L590.50,104.49 L591.50,104.79 L592.50,105.10 L593.50,105.40 L594.50,105.70 L595.50,105.99 L596.50,106.29 L597.50,106.58 L598.50,106.87 L599.50,107.16 L600.50,107.44 L601.50,107.73 L602.50,108.01 L603.50,108.28 L604.50,108.56 L605.50,108.83 L606.50,109.10 L607.50,109.37 L608.50,109.64 L609.50,109.90 L610.50,110.16 L611.50,110.42 L612.50,110.68 L613.50,110.94 L614.50,111.19 L615.50,111.44 L616.50,111.69 L617.50,111.94 L618.50,112.18 L619.50,112.42 L620.50,112.66 L621.50,112.90 L622.50,113.14 L623.50,113.37 L624.50,113.61 L625.50,113.84 L626.50,114.07 L627.50,114.30 L628.50,114.52 L629.50,114.75 L630.50,114.97 L631.50,115.19 L632.50,115.41 L633.50,115.63 L634.50,115.84 L635.50,116.06 L636.50,116.27 L637.50,116.48 L638.50,116.69 L639.50,116.90 L640.50,117.10 L641.50,117.31 L642.50,117.51 L643.50,117.71 L644.50,117.92 L645.50,118.12 L646.50,118.31 L647.50,118.51 L648.50,118.71 L649.50,118.90 L650.50,119.10 L651.50,119.29 L652.50,119.48 L653.50,119.67 L654.50,119.86 L655.50,120.05 L656.50,120.24 L657.50,120.42 L658.50,120.61 L659.50,120.80 L660.50,120.98 L661.50,121.16 L662.50,121.35 L663.50,121.53 L664.50,121.71 L665.50,121.89 L666.50,122.08 L667.50,122.26 L668.50,122.44 L669.50,122.62 L670.50,122.80 L671.50,122.97 L672.50,123.15 L673.50,123.33 L674.50,123.51 L675.50,123.69 L676.50,123.87 L677.50,124.04 L678.50,124.22 L679.50,124.40" stroke="#8fbc7f"/>
<path d="M394.50,45.90 L395.50,46.62 L396.50,47.33 L397.50,48.00 L398.50,48.61 L399.50,49.16 L400.50,49.62 L401.50,49.97 L402.50,50.21 L403.50,50.31 L404.50,50.25 L405.50,50.05 L406.50,49.69 L407.50,49.18 L408.50,48.53 L409.50,47.74 L410.50,46.82 L411.50,45.79 L412.50,44.67 L413.50,43.49 L414.50,42.29 L415.50,41.09 L416.50,39.92 L417.50,38.80 L418.50,37.73 L419.50,36.70 L420.50,35.71 L421.50,34.76 L422.50,33.85 L423.50,32.97 L424.50,32.11 L425.50,31.28 L426.50,30.47 L427.50,29.68 L428.50,28.89 L429.50,28.11 L430.50,27.34 L431.50,26.58 L432.50,25.87 L433.50,25.19 L434.50,24.58 L435.50,24.04 L436.50,23.58 L437.50,23.21 L438.50,22.92 L439.50,22.70 L440.50,22.55 L441.50,22.45 L442.50,22.41 L443.50,22.40 L444.50,22.44 L445.50,22.52 L446.50,22.64 L447.50,22.78 L448.50,22.97 L449.50,23.18 L450.50,23.43 L451.50,23.70 L452.50,24.01 L453.50,24.36 L454.50,24.74 L455.50,25.17 L456.50,25.65 L457.50,26.17 L458.50,26.74 L459.50,27.35 L460.50,28.00 L461.50,28.68 L462.50,29.39 L463.50,30.13 L464.50,30.88 L465.50,31.65 L466.50,32.43 L467.50,33.22 L468.50,34.01 L469.50,34.81 L470.50,35.60 L471.50,36.40 L472.50,37.18 L473.50,37.97 L474.50,38.74 L475.50,39.52 L476.50,40.28 L477.50,41.05 L478.50,41.80 L479.50,42.56 L480.50,43.30 L481.50,44.04 L482.50,44.78 L483.50,45.52 L484.50,46.24 L485.50,46.97 L486.50,47.69 L487.50,48.41 L488.50,49.12 L489.50,49.83 L490.50,50.54 L491.50,51.25 L492.50,51.96 L493.50,52.66 L494.50,53.36 L495.50,54.06 L496.50,54.76 L497.50,55.46 L498.50,56.15 L499.50,56.85 L500.50,57.55 L501.50,58.25 L502.50,58.94 L503.50,59.64 L504.50,60.34 L505.50,61.03 L506.50,61.73 L507.50,62.42 L508.50,63.11 L509.50,63.80 L510.50,64.48 L511.50,65.17 L512.50,65.85 L513.50,66.52 L514.50,67.20 L515.50,67.87 L516.50,68.53 L517.50,69.19 L518.50,69.85 L519.50,70.49 L520.50,71.11 L521.50,71.72 L522.50,72.31 L523.50,72.88 L524.50,73.44 L525.50,73.99 L526.50,74.53 L527.50,75.05 L528.50,75.57 L529.50,76.08 L530.50,76.58 L531.50,77.07 L532.50,77.56 L533.50,78.05 L534.50,78.53 L535.50,79.02 L536.50,79.50 L537.50,79.98 L538.50,80.47 L539.50,80.95 L540.50,81.45 L541.50,81.94 L542.50,82.45 L543.50,82.95 L544.50,83.46 L545.50,83.97 L546.50,84.47 L547.50,84.98 L548.50,85.49 L549.50,86.00 L550.50,86.51 L551.50,87.01 L552.50,87.51 L553.50,88.01 L554.50,88.50 L555.50,88.99 L556.50,89.47 L557.50,89.95 L558.50,90.41 L559.50,90.87 L560.50,91.32 L561.50,91.77 L562.50,92.20 L563.50,92.62 L564.50,93.04 L565.50,93.45 L566.50,93.85 L567.50,94.25 L568.50,94.64 L569.50,95.02 L570.50,95.40 L571.50,95.77 L572.50,96.14 L573.50,96.51 L574.50,96.87 L575.50,97.22 L576.50,97.58 L577.50,97.93 L578.50,98.28 L579.50,98.63 L580.50,98.97 L581.50,99.32 L582.50,99.66 L583.50,100.00 L584.50,100.34 L585.50,100.68 L586.50,101.02 L587.50,101.36 L588.50,101.69 L589.50,102.03 L590.50,102.36 L591.50,102.69 L592.50,103.01 L593.50,103.34 L594.50,103.66 L595.50,103.98 L596.50,104.30 L597.50,104.62 L598.50,104.93 L599.50,105.24 L600.50,105.55 L601.50,105.86 L602.50,106.17 L603.50,106.47 L604.50,106.77 L605.50,107.07 L606.50,107.36 L607.50,107.66 L608.50,107.95 L609.50,108.23 L610.50,108.52 L611.50,108.80 L612.50,109.09 L613.50,109.37 L614.50,109.64 L615.50,109.92 L616.50,110.19 L617.50,110.46 L618.50,110.73 L619.50,111.00 L620.50,111.26 L621.50,111.52 L622.50,111.78 L623.50,112.04 L624.50,112.29 L625.50,112.55 L626.50,112.80 L627.50,113.05 L628.50,113.30 L629.50,113.54 L630.50,113.78 L631.50,114.03 L632.50,114.27 L633.50,114.50 L634.50,114.74 L635.50,114.97 L636.50,115.20 L637.50,115.43 L638.50,115.66 L639.50,115.89 L640.50,116.11 L641.50,116.33 L642.50,116.55 L643.50,116.77 L644.50,116.99 L645.50,117.21 L646.50,117.42 L647.50,117.63 L648.50,117.84 L649.50,118.05 L650.50,118.26 L651.50,118.47 L652.50,118.67 L653.50,118.88 L654.50,119.08 L655.50,119.28 L656.50,119.48 L657.50,119.68 L658.50,119.88 L659.50,120.08 L660.50,120.28 L661.50,120.47 L662.50,120.67 L663.50,120.86 L664.50,121.06 L665.50,121.25 L666.50,121.44 L667.50,121.63 L668.50,121.82 L669.50,122.01 L670.50,122.20 L671.50,122.39 L672.50,122.58 L673.50,122.77 L674.50,122.96 L675.50,123.15 L676.50,123.34 L677.50,123.52 L678.50,123.71 L679.50,123.90" stroke="#3f7f3f"/>
</g>
<g stroke="#000" stroke-width="0.8" fill="none" stroke-linecap="square"><line x1="394.50" y1="3.50" x2="394.50" y2="152.00"/><line x1="679.50" y1="3.50" x2="679.50" y2="152.00"/><line x1="394.50" y1="3.50" x2="679.50" y2="3.50"/><line x1="394.50" y1="152.00" x2="679.50" y2="152.00"/><line x1="394.50" y1="152.00" x2="394.50" y2="155.50" stroke-linecap="butt"/><line x1="451.50" y1="152.00" x2="451.50" y2="155.50" stroke-linecap="butt"/><line x1="508.50" y1="152.00" x2="508.50" y2="155.50" stroke-linecap="butt"/><line x1="565.50" y1="152.00" x2="565.50" y2="155.50" stroke-linecap="butt"/><line x1="622.50" y1="152.00" x2="622.50" y2="155.50" stroke-linecap="butt"/><line x1="679.50" y1="152.00" x2="679.50" y2="155.50" stroke-linecap="butt"/><line x1="391.00" y1="152.00" x2="394.50" y2="152.00" stroke-linecap="butt"/><line x1="391.00" y1="130.79" x2="394.50" y2="130.79" stroke-linecap="butt"/><line x1="391.00" y1="109.57" x2="394.50" y2="109.57" stroke-linecap="butt"/><line x1="391.00" y1="88.36" x2="394.50" y2="88.36" stroke-linecap="butt"/><line x1="391.00" y1="67.14" x2="394.50" y2="67.14" stroke-linecap="butt"/><line x1="391.00" y1="45.93" x2="394.50" y2="45.93" stroke-linecap="butt"/><line x1="391.00" y1="24.71" x2="394.50" y2="24.71" stroke-linecap="butt"/><line x1="391.00" y1="3.50" x2="394.50" y2="3.50" stroke-linecap="butt"/></g>
<text x="394.50" y="167.00" text-anchor="middle" textLength="6.36" lengthAdjust="spacingAndGlyphs">0</text>
<text x="451.50" y="167.00" text-anchor="middle" textLength="6.36" lengthAdjust="spacingAndGlyphs">5</text>
<text x="508.50" y="167.00" text-anchor="middle" textLength="12.72" lengthAdjust="spacingAndGlyphs">10</text>
<text x="565.50" y="167.00" text-anchor="middle" textLength="12.72" lengthAdjust="spacingAndGlyphs">15</text>
<text x="622.50" y="167.00" text-anchor="middle" textLength="12.72" lengthAdjust="spacingAndGlyphs">20</text>
<text x="679.50" y="167.00" text-anchor="middle" textLength="12.72" lengthAdjust="spacingAndGlyphs">25</text>
<text x="387.50" y="155.60" text-anchor="end" textLength="15.29" lengthAdjust="spacingAndGlyphs">0.2</text>
<text x="387.50" y="134.39" text-anchor="end" textLength="15.29" lengthAdjust="spacingAndGlyphs">0.3</text>
<text x="387.50" y="113.17" text-anchor="end" textLength="15.29" lengthAdjust="spacingAndGlyphs">0.4</text>
<text x="387.50" y="91.96" text-anchor="end" textLength="15.29" lengthAdjust="spacingAndGlyphs">0.5</text>
<text x="387.50" y="70.74" text-anchor="end" textLength="15.29" lengthAdjust="spacingAndGlyphs">0.6</text>
<text x="387.50" y="49.53" text-anchor="end" textLength="15.29" lengthAdjust="spacingAndGlyphs">0.7</text>
<text x="387.50" y="28.31" text-anchor="end" textLength="15.29" lengthAdjust="spacingAndGlyphs">0.8</text>
<text x="387.50" y="7.10" text-anchor="end" textLength="15.29" lengthAdjust="spacingAndGlyphs">0.9</text>
<text x="411.40" y="15.80" text-anchor="end" textLength="14.16" lengthAdjust="spacingAndGlyphs">(b)</text>
<clipPath id="clip_c"><rect x="56.00" y="181.50" width="285.00" height="150.00"/></clipPath>
<g clip-path="url(#clip_c)" fill="none" stroke-width="1.00" stroke-linejoin="round" stroke-linecap="butt">
<path d="M56.00,256.50 L57.00,256.70 L58.00,256.87 L59.00,256.98 L60.00,257.00 L61.00,256.91 L62.00,256.70 L63.00,256.40 L64.00,256.00 L65.00,255.52 L66.00,254.97 L67.00,254.36 L68.00,253.69 L69.00,252.97 L70.00,252.20 L71.00,251.38 L72.00,250.53 L73.00,249.66 L74.00,248.76 L75.00,247.85 L76.00,246.94 L77.00,246.03 L78.00,245.14 L79.00,244.26 L80.00,243.40 L81.00,242.56 L82.00,241.74 L83.00,240.95 L84.00,240.18 L85.00,239.43 L86.00,238.69 L87.00,237.96 L88.00,237.23 L89.00,236.49 L90.00,235.77 L91.00,235.05 L92.00,234.34 L93.00,233.66 L94.00,233.01 L95.00,232.39 L96.00,231.79 L97.00,231.21 L98.00,230.65 L99.00,230.10 L100.00,229.56 L101.00,229.02 L102.00,228.49 L103.00,227.96 L104.00,227.42 L105.00,226.88 L106.00,226.34 L107.00,225.79 L108.00,225.23 L109.00,224.67 L110.00,224.11 L111.00,223.55 L112.00,222.99 L113.00,222.44 L114.00,221.90 L115.00,221.37 L116.00,220.85 L117.00,220.34 L118.00,219.86 L119.00,219.39 L120.00,218.95 L121.00,218.52 L122.00,218.12 L123.00,217.75 L124.00,217.39 L125.00,217.06 L126.00,216.76 L127.00,216.47 L128.00,216.21 L129.00,215.97 L130.00,215.75 L131.00,215.55 L132.00,215.37 L133.00,215.20 L134.00,215.04 L135.00,214.90 L136.00,214.77 L137.00,214.64 L138.00,214.52 L139.00,214.41 L140.00,214.30 L141.00,214.19 L142.00,214.09 L143.00,213.98 L144.00,213.88 L145.00,213.77 L146.00,213.67 L147.00,213.56 L148.00,213.45 L149.00,213.35 L150.00,213.23 L151.00,213.12 L152.00,213.00 L153.00,212.88 L154.00,212.75 L155.00,212.63 L156.00,212.50 L157.00,212.37 L158.00,212.25 L159.00,212.12 L160.00,212.01 L161.00,211.89 L162.00,211.79 L163.00,211.69 L164.00,211.60 L165.00,211.52 L166.00,211.45 L167.00,211.39 L168.00,211.34 L169.00,211.29 L170.00,211.26 L171.00,211.23 L172.00,211.20 L173.00,211.19 L174.00,211.18 L175.00,211.18 L176.00,211.18 L177.00,211.19 L178.00,211.20 L179.00,211.22 L180.00,211.24 L181.00,211.26 L182.00,211.29 L183.00,211.32 L184.00,211.35 L185.00,211.39 L186.00,211.43 L187.00,211.47 L188.00,211.51 L189.00,211.55 L190.00,211.60 L191.00,211.65 L192.00,211.69 L193.00,211.74 L194.00,211.79 L195.00,211.84 L196.00,211.90 L197.00,211.95 L198.00,212.00 L199.00,212.05 L200.00,212.11 L201.00,212.16 L202.00,212.21 L203.00,212.27 L204.00,212.32 L205.00,212.38 L206.00,212.43 L207.00,212.48 L208.00,212.54 L209.00,212.59 L210.00,212.64 L211.00,212.70 L212.00,212.75 L213.00,212.80 L214.00,212.85 L215.00,212.90 L216.00,212.95 L217.00,213.00 L218.00,213.04 L219.00,213.09 L220.00,213.14 L221.00,213.18 L222.00,213.22 L223.00,213.27 L224.00,213.31 L225.00,213.36 L226.00,213.40 L227.00,213.44 L228.00,213.48 L229.00,213.53 L230.00,213.57 L231.00,213.61 L232.00,213.65 L233.00,213.69 L234.00,213.74 L235.00,213.78 L236.00,213.82 L237.00,213.87 L238.00,213.91 L239.00,213.96 L240.00,214.00 L241.00,214.05 L242.00,214.09 L243.00,214.14 L244.00,214.19 L245.00,214.23 L246.00,214.28 L247.00,214.33 L248.00,214.38 L249.00,214.43 L250.00,214.48 L251.00,214.53 L252.00,214.58 L253.00,214.63 L254.00,214.68 L255.00,214.73 L256.00,214.78 L257.00,214.83 L258.00,214.88 L259.00,214.93 L260.00,214.99 L261.00,215.04 L262.00,215.09 L263.00,215.14 L264.00,215.19 L265.00,215.24 L266.00,215.29 L267.00,215.34 L268.00,215.39 L269.00,215.45 L270.00,215.50 L271.00,215.55 L272.00,215.60 L273.00,215.64 L274.00,215.69 L275.00,215.74 L276.00,215.79 L277.00,215.84 L278.00,215.88 L279.00,215.93 L280.00,215.98 L281.00,216.02 L282.00,216.07 L283.00,216.11 L284.00,216.15 L285.00,216.20 L286.00,216.24 L287.00,216.28 L288.00,216.32 L289.00,216.36 L290.00,216.40 L291.00,216.44 L292.00,216.48 L293.00,216.51 L294.00,216.55 L295.00,216.58 L296.00,216.62 L297.00,216.65 L298.00,216.68 L299.00,216.71 L300.00,216.74 L301.00,216.77 L302.00,216.80 L303.00,216.83 L304.00,216.86 L305.00,216.89 L306.00,216.91 L307.00,216.94 L308.00,216.97 L309.00,216.99 L310.00,217.02 L311.00,217.04 L312.00,217.06 L313.00,217.09 L314.00,217.11 L315.00,217.13 L316.00,217.15 L317.00,217.17 L318.00,217.20 L319.00,217.22 L320.00,217.24 L321.00,217.26 L322.00,217.27 L323.00,217.29 L324.00,217.31 L325.00,217.33 L326.00,217.35 L327.00,217.37 L328.00,217.38 L329.00,217.40 L330.00,217.42 L331.00,217.44 L332.00,217.45 L333.00,217.47 L334.00,217.49 L335.00,217.50 L336.00,217.52 L337.00,217.54 L338.00,217.55 L339.00,217.57 L340.00,217.58 L341.00,217.60" stroke="#1f5f8f"/>
<path d="M56.00,256.50 L57.00,256.70 L58.00,256.87 L59.00,256.98 L60.00,257.00 L61.00,256.90 L62.00,256.69 L63.00,256.36 L64.00,255.92 L65.00,255.37 L66.00,254.73 L67.00,254.00 L68.00,253.18 L69.00,252.28 L70.00,251.32 L71.00,250.30 L72.00,249.24 L73.00,248.12 L74.00,246.96 L75.00,245.73 L76.00,244.44 L77.00,243.09 L78.00,241.68 L79.00,240.24 L80.00,238.80 L81.00,237.41 L82.00,236.08 L83.00,234.85 L84.00,233.73 L85.00,232.69 L86.00,231.74 L87.00,230.85 L88.00,230.02 L89.00,229.24 L90.00,228.50 L91.00,227.82 L92.00,227.19 L93.00,226.61 L94.00,226.10 L95.00,225.63 L96.00,225.21 L97.00,224.80 L98.00,224.40 L99.00,224.00 L100.00,223.58 L101.00,223.15 L102.00,222.72 L103.00,222.30 L104.00,221.92 L105.00,221.56 L106.00,221.25 L107.00,220.97 L108.00,220.70 L109.00,220.43 L110.00,220.16 L111.00,219.86 L112.00,219.55 L113.00,219.24 L114.00,218.92 L115.00,218.61 L116.00,218.31 L117.00,218.04 L118.00,217.79 L119.00,217.56 L120.00,217.34 L121.00,217.14 L122.00,216.96 L123.00,216.79 L124.00,216.62 L125.00,216.47 L126.00,216.33 L127.00,216.19 L128.00,216.05 L129.00,215.92 L130.00,215.80 L131.00,215.68 L132.00,215.57 L133.00,215.47 L134.00,215.37 L135.00,215.29 L136.00,215.21 L137.00,215.14 L138.00,215.08 L139.00,215.04 L140.00,215.00 L141.00,214.98 L142.00,214.96 L143.00,214.96 L144.00,214.96 L145.00,214.97 L146.00,214.99 L147.00,215.02 L148.00,215.05 L149.00,215.08 L150.00,215.12 L151.00,215.16 L152.00,215.20 L153.00,215.24 L154.00,215.28 L155.00,215.32 L156.00,215.37 L157.00,215.41 L158.00,215.45 L159.00,215.50 L160.00,215.54 L161.00,215.59 L162.00,215.64 L163.00,215.69 L164.00,215.75 L165.00,215.80 L166.00,215.86 L167.00,215.92 L168.00,215.98 L169.00,216.04 L170.00,216.10 L171.00,216.17 L172.00,216.24 L173.00,216.30 L174.00,216.37 L175.00,216.45 L176.00,216.52 L177.00,216.59 L178.00,216.67 L179.00,216.74 L180.00,216.82 L181.00,216.89 L182.00,216.97 L183.00,217.05 L184.00,217.13 L185.00,217.21 L186.00,217.29 L187.00,217.36 L188.00,217.44 L189.00,217.52 L190.00,217.60 L191.00,217.68 L192.00,217.76 L193.00,217.83 L194.00,217.91 L195.00,217.99 L196.00,218.07 L197.00,218.14 L198.00,218.22 L199.00,218.29 L200.00,218.37 L201.00,218.45 L202.00,218.52 L203.00,218.60 L204.00,218.67 L205.00,218.75 L206.00,218.82 L207.00,218.90 L208.00,218.97 L209.00,219.04 L210.00,219.12 L211.00,219.19 L212.00,219.27 L213.00,219.34 L214.00,219.41 L215.00,219.49 L216.00,219.56 L217.00,219.63 L218.00,219.71 L219.00,219.78 L220.00,219.85 L221.00,219.92 L222.00,220.00 L223.00,220.07 L224.00,220.14 L225.00,220.21 L226.00,220.29 L227.00,220.36 L228.00,220.43 L229.00,220.50 L230.00,220.58 L231.00,220.65 L232.00,220.72 L233.00,220.79 L234.00,220.87 L235.00,220.94 L236.00,221.01 L237.00,221.08 L238.00,221.16 L239.00,221.23 L240.00,221.30 L241.00,221.37 L242.00,221.45 L243.00,221.52 L244.00,221.59 L245.00,221.66 L246.00,221.74 L247.00,221.81 L248.00,221.88 L249.00,221.95 L250.00,222.03 L251.00,222.10 L252.00,222.17 L253.00,222.25 L254.00,222.32 L255.00,222.39 L256.00,222.46 L257.00,222.54 L258.00,222.61 L259.00,222.68 L260.00,222.76 L261.00,222.83 L262.00,222.90 L263.00,222.97 L264.00,223.05 L265.00,223.12 L266.00,223.19 L267.00,223.26 L268.00,223.34 L269.00,223.41 L270.00,223.48 L271.00,223.55 L272.00,223.62 L273.00,223.70 L274.00,223.77 L275.00,223.84 L276.00,223.91 L277.00,223.98 L278.00,224.05 L279.00,224.13 L280.00,224.20 L281.00,224.27 L282.00,224.34 L283.00,224.41 L284.00,224.48 L285.00,224.55 L286.00,224.62 L287.00,224.69 L288.00,224.76 L289.00,224.83 L290.00,224.90 L291.00,224.97 L292.00,225.04 L293.00,225.11 L294.00,225.18 L295.00,225.25 L296.00,225.31 L297.00,225.38 L298.00,225.45 L299.00,225.52 L300.00,225.59 L301.00,225.66 L302.00,225.72 L303.00,225.79 L304.00,225.86 L305.00,225.93 L306.00,225.99 L307.00,226.06 L308.00,226.13 L309.00,226.20 L310.00,226.26 L311.00,226.33 L312.00,226.40 L313.00,226.46 L314.00,226.53 L315.00,226.59 L316.00,226.66 L317.00,226.73 L318.00,226.79 L319.00,226.86 L320.00,226.93 L321.00,226.99 L322.00,227.06 L323.00,227.12 L324.00,227.19 L325.00,227.25 L326.00,227.32 L327.00,227.39 L328.00,227.45 L329.00,227.52 L330.00,227.58 L331.00,227.65 L332.00,227.71 L333.00,227.78 L334.00,227.84 L335.00,227.91 L336.00,227.97 L337.00,228.04 L338.00,228.10 L339.00,228.17 L340.00,228.23 L341.00,228.30" stroke="#87ceeb"/>
<path d="M56.00,256.50 L57.00,256.70 L58.00,256.87 L59.00,256.98 L60.00,257.00 L61.00,256.91 L62.00,256.69 L63.00,256.37 L64.00,255.93 L65.00,255.38 L66.00,254.72 L67.00,253.97 L68.00,253.12 L69.00,252.18 L70.00,251.18 L71.00,250.11 L72.00,248.99 L73.00,247.81 L74.00,246.58 L75.00,245.30 L76.00,243.97 L77.00,242.58 L78.00,241.15 L79.00,239.70 L80.00,238.27 L81.00,236.89 L82.00,235.58 L83.00,234.36 L84.00,233.25 L85.00,232.23 L86.00,231.27 L87.00,230.37 L88.00,229.52 L89.00,228.69 L90.00,227.89 L91.00,227.13 L92.00,226.42 L93.00,225.75 L94.00,225.14 L95.00,224.58 L96.00,224.08 L97.00,223.63 L98.00,223.24 L99.00,222.90 L100.00,222.61 L101.00,222.37 L102.00,222.16 L103.00,221.98 L104.00,221.80 L105.00,221.63 L106.00,221.46 L107.00,221.28 L108.00,221.12 L109.00,220.96 L110.00,220.83 L111.00,220.71 L112.00,220.61 L113.00,220.53 L114.00,220.47 L115.00,220.42 L116.00,220.39 L117.00,220.38 L118.00,220.38 L119.00,220.39 L120.00,220.41 L121.00,220.44 L122.00,220.49 L123.00,220.54 L124.00,220.60 L125.00,220.66 L126.00,220.73 L127.00,220.81 L128.00,220.89 L129.00,220.97 L130.00,221.05 L131.00,221.14 L132.00,221.23 L133.00,221.32 L134.00,221.41 L135.00,221.51 L136.00,221.61 L137.00,221.70 L138.00,221.80 L139.00,221.90 L140.00,222.00 L141.00,222.10 L142.00,222.20 L143.00,222.30 L144.00,222.40 L145.00,222.50 L146.00,222.60 L147.00,222.70 L148.00,222.80 L149.00,222.90 L150.00,223.00 L151.00,223.10 L152.00,223.20 L153.00,223.30 L154.00,223.40 L155.00,223.51 L156.00,223.61 L157.00,223.71 L158.00,223.82 L159.00,223.92 L160.00,224.03 L161.00,224.13 L162.00,224.24 L163.00,224.34 L164.00,224.45 L165.00,224.56 L166.00,224.66 L167.00,224.77 L168.00,224.88 L169.00,224.99 L170.00,225.10 L171.00,225.21 L172.00,225.32 L173.00,225.43 L174.00,225.54 L175.00,225.66 L176.00,225.77 L177.00,225.88 L178.00,226.00 L179.00,226.11 L180.00,226.23 L181.00,226.34 L182.00,226.46 L183.00,226.57 L184.00,226.69 L185.00,226.81 L186.00,226.93 L187.00,227.04 L188.00,227.16 L189.00,227.28 L190.00,227.40 L191.00,227.52 L192.00,227.64 L193.00,227.76 L194.00,227.88 L195.00,228.00 L196.00,228.12 L197.00,228.25 L198.00,228.37 L199.00,228.49 L200.00,228.62 L201.00,228.74 L202.00,228.86 L203.00,228.99 L204.00,229.11 L205.00,229.24 L206.00,229.36 L207.00,229.49 L208.00,229.61 L209.00,229.74 L210.00,229.87 L211.00,230.00 L212.00,230.12 L213.00,230.25 L214.00,230.38 L215.00,230.51 L216.00,230.64 L217.00,230.76 L218.00,230.89 L219.00,231.02 L220.00,231.15 L221.00,231.28 L222.00,231.41 L223.00,231.54 L224.00,231.67 L225.00,231.81 L226.00,231.94 L227.00,232.07 L228.00,232.20 L229.00,232.33 L230.00,232.47 L231.00,232.60 L232.00,232.73 L233.00,232.86 L234.00,233.00 L235.00,233.13 L236.00,233.26 L237.00,233.40 L238.00,233.53 L239.00,233.67 L240.00,233.80 L241.00,233.93 L242.00,234.07 L243.00,234.20 L244.00,234.34 L245.00,234.47 L246.00,234.61 L247.00,234.75 L248.00,234.88 L249.00,235.02 L250.00,235.15 L251.00,235.29 L252.00,235.42 L253.00,235.56 L254.00,235.70 L255.00,235.83 L256.00,235.97 L257.00,236.11 L258.00,236.24 L259.00,236.38 L260.00,236.52 L261.00,236.65 L262.00,236.79 L263.00,236.93 L264.00,237.06 L265.00,237.20 L266.00,237.34 L267.00,237.47 L268.00,237.61 L269.00,237.75 L270.00,237.88 L271.00,238.02 L272.00,238.16 L273.00,238.29 L274.00,238.43 L275.00,238.57 L276.00,238.70 L277.00,238.84 L278.00,238.98 L279.00,239.11 L280.00,239.25 L281.00,239.38 L282.00,239.52 L283.00,239.65 L284.00,239.79 L285.00,239.93 L286.00,240.06 L287.00,240.20 L288.00,240.33 L289.00,240.47 L290.00,240.60 L291.00,240.73 L292.00,240.87 L293.00,241.00 L294.00,241.14 L295.00,241.27 L296.00,241.40 L297.00,241.54 L298.00,241.67 L299.00,241.80 L300.00,241.94 L301.00,242.07 L302.00,242.20 L303.00,242.33 L304.00,242.47 L305.00,242.60 L306.00,242.73 L307.00,242.86 L308.00,242.99 L309.00,243.13 L310.00,243.26 L311.00,243.39 L312.00,243.52 L313.00,243.65 L314.00,243.78 L315.00,243.91 L316.00,244.05 L317.00,244.18 L318.00,244.31 L319.00,244.44 L320.00,244.57 L321.00,244.70 L322.00,244.83 L323.00,244.96 L324.00,245.09 L325.00,245.22 L326.00,245.35 L327.00,245.48 L328.00,245.61 L329.00,245.74 L330.00,245.87 L331.00,246.00 L332.00,246.13 L333.00,246.26 L334.00,246.39 L335.00,246.52 L336.00,246.65 L337.00,246.78 L338.00,246.91 L339.00,247.04 L340.00,247.17 L341.00,247.30" stroke="#ffc0cb"/>
<path d="M56.00,256.50 L57.00,256.68 L58.00,256.83 L59.00,256.95 L60.00,257.00 L61.00,256.97 L62.00,256.84 L63.00,256.58 L64.00,256.18 L65.00,255.62 L66.00,254.88 L67.00,253.96 L68.00,252.90 L69.00,251.72 L70.00,250.45 L71.00,249.13 L72.00,247.79 L73.00,246.43 L74.00,245.05 L75.00,243.65 L76.00,242.22 L77.00,240.76 L78.00,239.29 L79.00,237.82 L80.00,236.39 L81.00,235.03 L82.00,233.76 L83.00,232.61 L84.00,231.57 L85.00,230.64 L86.00,229.80 L87.00,229.04 L88.00,228.33 L89.00,227.67 L90.00,227.06 L91.00,226.51 L92.00,226.00 L93.00,225.56 L94.00,225.18 L95.00,224.85 L96.00,224.58 L97.00,224.35 L98.00,224.16 L99.00,224.00 L100.00,223.86 L101.00,223.76 L102.00,223.67 L103.00,223.62 L104.00,223.60 L105.00,223.61 L106.00,223.65 L107.00,223.71 L108.00,223.79 L109.00,223.89 L110.00,223.98 L111.00,224.07 L112.00,224.16 L113.00,224.25 L114.00,224.34 L115.00,224.43 L116.00,224.53 L117.00,224.64 L118.00,224.75 L119.00,224.87 L120.00,224.99 L121.00,225.12 L122.00,225.26 L123.00,225.40 L124.00,225.55 L125.00,225.70 L126.00,225.86 L127.00,226.02 L128.00,226.18 L129.00,226.35 L130.00,226.52 L131.00,226.69 L132.00,226.86 L133.00,227.03 L134.00,227.21 L135.00,227.38 L136.00,227.55 L137.00,227.72 L138.00,227.88 L139.00,228.04 L140.00,228.20 L141.00,228.35 L142.00,228.50 L143.00,228.64 L144.00,228.78 L145.00,228.92 L146.00,229.05 L147.00,229.18 L148.00,229.31 L149.00,229.43 L150.00,229.56 L151.00,229.68 L152.00,229.80 L153.00,229.92 L154.00,230.04 L155.00,230.16 L156.00,230.28 L157.00,230.40 L158.00,230.52 L159.00,230.64 L160.00,230.76 L161.00,230.88 L162.00,231.00 L163.00,231.13 L164.00,231.25 L165.00,231.38 L166.00,231.50 L167.00,231.63 L168.00,231.76 L169.00,231.90 L170.00,232.03 L171.00,232.17 L172.00,232.31 L173.00,232.45 L174.00,232.59 L175.00,232.74 L176.00,232.89 L177.00,233.04 L178.00,233.20 L179.00,233.36 L180.00,233.52 L181.00,233.69 L182.00,233.86 L183.00,234.03 L184.00,234.21 L185.00,234.39 L186.00,234.56 L187.00,234.75 L188.00,234.93 L189.00,235.11 L190.00,235.30 L191.00,235.49 L192.00,235.68 L193.00,235.87 L194.00,236.06 L195.00,236.25 L196.00,236.44 L197.00,236.63 L198.00,236.83 L199.00,237.03 L200.00,237.22 L201.00,237.42 L202.00,237.62 L203.00,237.82 L204.00,238.02 L205.00,238.22 L206.00,238.43 L207.00,238.63 L208.00,238.84 L209.00,239.04 L210.00,239.25 L211.00,239.46 L212.00,239.67 L213.00,239.88 L214.00,240.09 L215.00,240.30 L216.00,240.51 L217.00,240.73 L218.00,240.94 L219.00,241.16 L220.00,241.37 L221.00,241.59 L222.00,241.81 L223.00,242.03 L224.00,242.25 L225.00,242.47 L226.00,242.69 L227.00,242.91 L228.00,243.14 L229.00,243.36 L230.00,243.59 L231.00,243.82 L232.00,244.04 L233.00,244.27 L234.00,244.50 L235.00,244.73 L236.00,244.96 L237.00,245.20 L238.00,245.43 L239.00,245.66 L240.00,245.90 L241.00,246.14 L242.00,246.37 L243.00,246.61 L244.00,246.85 L245.00,247.09 L246.00,247.33 L247.00,247.58 L248.00,247.82 L249.00,248.06 L250.00,248.31 L251.00,248.55 L252.00,248.80 L253.00,249.05 L254.00,249.30 L255.00,249.54 L256.00,249.79 L257.00,250.05 L258.00,250.30 L259.00,250.55 L260.00,250.80 L261.00,251.06 L262.00,251.31 L263.00,251.57 L264.00,251.82 L265.00,252.08 L266.00,252.34 L267.00,252.60 L268.00,252.85 L269.00,253.11 L270.00,253.37 L271.00,253.64 L272.00,253.90 L273.00,254.16 L274.00,254.42 L275.00,254.68 L276.00,254.95 L277.00,255.21 L278.00,255.48 L279.00,255.74 L280.00,256.01 L281.00,256.28 L282.00,256.54 L283.00,256.81 L284.00,257.08 L285.00,257.35 L286.00,257.62 L287.00,257.89 L288.00,258.16 L289.00,258.43 L290.00,258.70 L291.00,258.97 L292.00,259.24 L293.00,259.52 L294.00,259.79 L295.00,260.06 L296.00,260.33 L297.00,260.61 L298.00,260.88 L299.00,261.16 L300.00,261.43 L301.00,261.71 L302.00,261.98 L303.00,262.26 L304.00,262.54 L305.00,262.81 L306.00,263.09 L307.00,263.37 L308.00,263.64 L309.00,263.92 L310.00,264.20 L311.00,264.48 L312.00,264.76 L313.00,265.03 L314.00,265.31 L315.00,265.59 L316.00,265.87 L317.00,266.15 L318.00,266.43 L319.00,266.71 L320.00,266.99 L321.00,267.27 L322.00,267.55 L323.00,267.83 L324.00,268.11 L325.00,268.39 L326.00,268.67 L327.00,268.96 L328.00,269.24 L329.00,269.52 L330.00,269.80 L331.00,270.08 L332.00,270.36 L333.00,270.64 L334.00,270.93 L335.00,271.21 L336.00,271.49 L337.00,271.77 L338.00,272.05 L339.00,272.34 L340.00,272.62 L341.00,272.90" stroke="#ff69b4"/>
<path d="M56.00,256.50 L57.00,256.71 L58.00,256.91 L59.00,257.11 L60.00,257.30 L61.00,257.48 L62.00,257.65 L63.00,257.80 L64.00,257.93 L65.00,258.04 L66.00,258.15 L67.00,258.24 L68.00,258.33 L69.00,258.41 L70.00,258.50 L71.00,258.59 L72.00,258.69 L73.00,258.79 L74.00,258.89 L75.00,259.00 L76.00,259.11 L77.00,259.21 L78.00,259.32 L79.00,259.43 L80.00,259.53 L81.00,259.63 L82.00,259.72 L83.00,259.82 L84.00,259.90 L85.00,259.98 L86.00,260.05 L87.00,260.12 L88.00,260.18 L89.00,260.23 L90.00,260.28 L91.00,260.32 L92.00,260.36 L93.00,260.40 L94.00,260.43 L95.00,260.46 L96.00,260.48 L97.00,260.50 L98.00,260.52 L99.00,260.53 L100.00,260.54 L101.00,260.55 L102.00,260.56 L103.00,260.57 L104.00,260.57 L105.00,260.58 L106.00,260.58 L107.00,260.58 L108.00,260.59 L109.00,260.59 L110.00,260.59 L111.00,260.60 L112.00,260.60 L113.00,260.61 L114.00,260.61 L115.00,260.62 L116.00,260.63 L117.00,260.64 L118.00,260.65 L119.00,260.66 L120.00,260.68 L121.00,260.69 L122.00,260.71 L123.00,260.73 L124.00,260.75 L125.00,260.77 L126.00,260.79 L127.00,260.81 L128.00,260.83 L129.00,260.86 L130.00,260.88 L131.00,260.91 L132.00,260.94 L133.00,260.97 L134.00,261.00 L135.00,261.03 L136.00,261.06 L137.00,261.09 L138.00,261.13 L139.00,261.16 L140.00,261.20 L141.00,261.24 L142.00,261.28 L143.00,261.32 L144.00,261.36 L145.00,261.40 L146.00,261.44 L147.00,261.48 L148.00,261.53 L149.00,261.57 L150.00,261.61 L151.00,261.66 L152.00,261.70 L153.00,261.74 L154.00,261.79 L155.00,261.83 L156.00,261.87 L157.00,261.92 L158.00,261.96 L159.00,262.00 L160.00,262.05 L161.00,262.09 L162.00,262.13 L163.00,262.17 L164.00,262.22 L165.00,262.26 L166.00,262.30 L167.00,262.34 L168.00,262.39 L169.00,262.43 L170.00,262.47 L171.00,262.51 L172.00,262.56 L173.00,262.60 L174.00,262.64 L175.00,262.68 L176.00,262.72 L177.00,262.77 L178.00,262.81 L179.00,262.85 L180.00,262.89 L181.00,262.93 L182.00,262.97 L183.00,263.01 L184.00,263.05 L185.00,263.10 L186.00,263.14 L187.00,263.18 L188.00,263.22 L189.00,263.26 L190.00,263.30 L191.00,263.34 L192.00,263.38 L193.00,263.42 L194.00,263.46 L195.00,263.50 L196.00,263.54 L197.00,263.58 L198.00,263.62 L199.00,263.67 L200.00,263.71 L201.00,263.75 L202.00,263.79 L203.00,263.83 L204.00,263.87 L205.00,263.91 L206.00,263.96 L207.00,264.00 L208.00,264.04 L209.00,264.08 L210.00,264.13 L211.00,264.17 L212.00,264.21 L213.00,264.26 L214.00,264.30 L215.00,264.35 L216.00,264.40 L217.00,264.44 L218.00,264.49 L219.00,264.54 L220.00,264.58 L221.00,264.63 L222.00,264.68 L223.00,264.73 L224.00,264.78 L225.00,264.83 L226.00,264.89 L227.00,264.94 L228.00,264.99 L229.00,265.05 L230.00,265.10 L231.00,265.16 L232.00,265.21 L233.00,265.27 L234.00,265.33 L235.00,265.39 L236.00,265.45 L237.00,265.51 L238.00,265.57 L239.00,265.64 L240.00,265.70 L241.00,265.77 L242.00,265.83 L243.00,265.90 L244.00,265.97 L245.00,266.04 L246.00,266.11 L247.00,266.18 L248.00,266.25 L249.00,266.32 L250.00,266.39 L251.00,266.47 L252.00,266.54 L253.00,266.62 L254.00,266.69 L255.00,266.77 L256.00,266.85 L257.00,266.92 L258.00,267.00 L259.00,267.08 L260.00,267.16 L261.00,267.24 L262.00,267.32 L263.00,267.40 L264.00,267.48 L265.00,267.56 L266.00,267.64 L267.00,267.73 L268.00,267.81 L269.00,267.89 L270.00,267.97 L271.00,268.05 L272.00,268.14 L273.00,268.22 L274.00,268.30 L275.00,268.38 L276.00,268.47 L277.00,268.55 L278.00,268.63 L279.00,268.71 L280.00,268.79 L281.00,268.88 L282.00,268.96 L283.00,269.04 L284.00,269.12 L285.00,269.20 L286.00,269.28 L287.00,269.36 L288.00,269.44 L289.00,269.52 L290.00,269.60 L291.00,269.68 L292.00,269.76 L293.00,269.83 L294.00,269.91 L295.00,269.99 L296.00,270.06 L297.00,270.14 L298.00,270.22 L299.00,270.29 L300.00,270.36 L301.00,270.44 L302.00,270.51 L303.00,270.59 L304.00,270.66 L305.00,270.73 L306.00,270.80 L307.00,270.88 L308.00,270.95 L309.00,271.02 L310.00,271.09 L311.00,271.16 L312.00,271.23 L313.00,271.30 L314.00,271.37 L315.00,271.44 L316.00,271.51 L317.00,271.58 L318.00,271.65 L319.00,271.72 L320.00,271.79 L321.00,271.86 L322.00,271.93 L323.00,271.99 L324.00,272.06 L325.00,272.13 L326.00,272.20 L327.00,272.26 L328.00,272.33 L329.00,272.40 L330.00,272.47 L331.00,272.53 L332.00,272.60 L333.00,272.67 L334.00,272.73 L335.00,272.80 L336.00,272.87 L337.00,272.93 L338.00,273.00 L339.00,273.07 L340.00,273.13 L341.00,273.20" stroke="#1f5f8f" stroke-dasharray="2.8,1.3"/>
<path d="M56.00,256.50 L57.00,256.93 L58.00,257.36 L59.00,257.79 L60.00,258.19 L61.00,258.59 L62.00,258.96 L63.00,259.30 L64.00,259.62 L65.00,259.90 L66.00,260.16 L67.00,260.40 L68.00,260.62 L69.00,260.82 L70.00,261.00 L71.00,261.17 L72.00,261.32 L73.00,261.46 L74.00,261.59 L75.00,261.70 L76.00,261.81 L77.00,261.91 L78.00,261.99 L79.00,262.08 L80.00,262.15 L81.00,262.22 L82.00,262.28 L83.00,262.34 L84.00,262.40 L85.00,262.45 L86.00,262.51 L87.00,262.56 L88.00,262.61 L89.00,262.65 L90.00,262.70 L91.00,262.74 L92.00,262.79 L93.00,262.83 L94.00,262.87 L95.00,262.91 L96.00,262.95 L97.00,262.98 L98.00,263.02 L99.00,263.06 L100.00,263.09 L101.00,263.12 L102.00,263.16 L103.00,263.19 L104.00,263.23 L105.00,263.26 L106.00,263.29 L107.00,263.33 L108.00,263.36 L109.00,263.39 L110.00,263.43 L111.00,263.46 L112.00,263.50 L113.00,263.54 L114.00,263.57 L115.00,263.61 L116.00,263.65 L117.00,263.69 L118.00,263.73 L119.00,263.77 L120.00,263.81 L121.00,263.86 L122.00,263.90 L123.00,263.95 L124.00,263.99 L125.00,264.04 L126.00,264.09 L127.00,264.14 L128.00,264.19 L129.00,264.24 L130.00,264.29 L131.00,264.35 L132.00,264.40 L133.00,264.46 L134.00,264.52 L135.00,264.58 L136.00,264.64 L137.00,264.70 L138.00,264.77 L139.00,264.83 L140.00,264.90 L141.00,264.97 L142.00,265.04 L143.00,265.11 L144.00,265.18 L145.00,265.26 L146.00,265.33 L147.00,265.41 L148.00,265.49 L149.00,265.56 L150.00,265.64 L151.00,265.72 L152.00,265.80 L153.00,265.88 L154.00,265.96 L155.00,266.04 L156.00,266.12 L157.00,266.20 L158.00,266.28 L159.00,266.36 L160.00,266.44 L161.00,266.52 L162.00,266.60 L163.00,266.68 L164.00,266.76 L165.00,266.83 L166.00,266.91 L167.00,266.99 L168.00,267.07 L169.00,267.15 L170.00,267.23 L171.00,267.31 L172.00,267.39 L173.00,267.47 L174.00,267.55 L175.00,267.63 L176.00,267.71 L177.00,267.79 L178.00,267.87 L179.00,267.95 L180.00,268.03 L181.00,268.11 L182.00,268.18 L183.00,268.26 L184.00,268.34 L185.00,268.42 L186.00,268.49 L187.00,268.57 L188.00,268.65 L189.00,268.72 L190.00,268.80 L191.00,268.88 L192.00,268.95 L193.00,269.03 L194.00,269.10 L195.00,269.18 L196.00,269.25 L197.00,269.32 L198.00,269.40 L199.00,269.47 L200.00,269.54 L201.00,269.62 L202.00,269.69 L203.00,269.76 L204.00,269.84 L205.00,269.91 L206.00,269.98 L207.00,270.05 L208.00,270.13 L209.00,270.20 L210.00,270.27 L211.00,270.34 L212.00,270.42 L213.00,270.49 L214.00,270.56 L215.00,270.63 L216.00,270.71 L217.00,270.78 L218.00,270.85 L219.00,270.92 L220.00,271.00 L221.00,271.07 L222.00,271.14 L223.00,271.22 L224.00,271.29 L225.00,271.36 L226.00,271.44 L227.00,271.51 L228.00,271.58 L229.00,271.66 L230.00,271.73 L231.00,271.81 L232.00,271.88 L233.00,271.96 L234.00,272.04 L235.00,272.11 L236.00,272.19 L237.00,272.27 L238.00,272.34 L239.00,272.42 L240.00,272.50 L241.00,272.58 L242.00,272.66 L243.00,272.74 L244.00,272.82 L245.00,272.90 L246.00,272.98 L247.00,273.06 L248.00,273.14 L249.00,273.22 L250.00,273.30 L251.00,273.39 L252.00,273.47 L253.00,273.55 L254.00,273.63 L255.00,273.72 L256.00,273.80 L257.00,273.88 L258.00,273.97 L259.00,274.05 L260.00,274.13 L261.00,274.22 L262.00,274.30 L263.00,274.38 L264.00,274.47 L265.00,274.55 L266.00,274.64 L267.00,274.72 L268.00,274.80 L269.00,274.89 L270.00,274.97 L271.00,275.05 L272.00,275.14 L273.00,275.22 L274.00,275.30 L275.00,275.39 L276.00,275.47 L277.00,275.55 L278.00,275.63 L279.00,275.72 L280.00,275.80 L281.00,275.88 L282.00,275.96 L283.00,276.04 L284.00,276.12 L285.00,276.20 L286.00,276.28 L287.00,276.36 L288.00,276.44 L289.00,276.52 L290.00,276.60 L291.00,276.68 L292.00,276.76 L293.00,276.83 L294.00,276.91 L295.00,276.99 L296.00,277.06 L297.00,277.14 L298.00,277.21 L299.00,277.29 L300.00,277.36 L301.00,277.43 L302.00,277.51 L303.00,277.58 L304.00,277.65 L305.00,277.73 L306.00,277.80 L307.00,277.87 L308.00,277.94 L309.00,278.01 L310.00,278.09 L311.00,278.16 L312.00,278.23 L313.00,278.30 L314.00,278.37 L315.00,278.44 L316.00,278.51 L317.00,278.58 L318.00,278.65 L319.00,278.71 L320.00,278.78 L321.00,278.85 L322.00,278.92 L323.00,278.99 L324.00,279.06 L325.00,279.13 L326.00,279.19 L327.00,279.26 L328.00,279.33 L329.00,279.40 L330.00,279.46 L331.00,279.53 L332.00,279.60 L333.00,279.66 L334.00,279.73 L335.00,279.80 L336.00,279.87 L337.00,279.93 L338.00,280.00 L339.00,280.07 L340.00,280.13 L341.00,280.20" stroke="#87ceeb" stroke-dasharray="2.8,1.3"/>
<path d="M56.00,256.50 L57.00,257.41 L58.00,258.32 L59.00,259.21 L60.00,260.07 L61.00,260.89 L62.00,261.67 L63.00,262.40 L64.00,263.07 L65.00,263.67 L66.00,264.22 L67.00,264.71 L68.00,265.16 L69.00,265.55 L70.00,265.90 L71.00,266.21 L72.00,266.47 L73.00,266.70 L74.00,266.90 L75.00,267.06 L76.00,267.19 L77.00,267.30 L78.00,267.38 L79.00,267.45 L80.00,267.49 L81.00,267.53 L82.00,267.55 L83.00,267.58 L84.00,267.60 L85.00,267.63 L86.00,267.66 L87.00,267.69 L88.00,267.73 L89.00,267.77 L90.00,267.82 L91.00,267.86 L92.00,267.92 L93.00,267.97 L94.00,268.03 L95.00,268.09 L96.00,268.15 L97.00,268.22 L98.00,268.28 L99.00,268.35 L100.00,268.43 L101.00,268.50 L102.00,268.58 L103.00,268.65 L104.00,268.73 L105.00,268.81 L106.00,268.89 L107.00,268.98 L108.00,269.06 L109.00,269.14 L110.00,269.23 L111.00,269.31 L112.00,269.40 L113.00,269.49 L114.00,269.57 L115.00,269.66 L116.00,269.75 L117.00,269.83 L118.00,269.92 L119.00,270.01 L120.00,270.10 L121.00,270.19 L122.00,270.29 L123.00,270.38 L124.00,270.47 L125.00,270.57 L126.00,270.66 L127.00,270.76 L128.00,270.86 L129.00,270.96 L130.00,271.07 L131.00,271.17 L132.00,271.28 L133.00,271.38 L134.00,271.49 L135.00,271.61 L136.00,271.72 L137.00,271.84 L138.00,271.96 L139.00,272.08 L140.00,272.20 L141.00,272.33 L142.00,272.45 L143.00,272.58 L144.00,272.72 L145.00,272.85 L146.00,272.98 L147.00,273.12 L148.00,273.25 L149.00,273.39 L150.00,273.53 L151.00,273.66 L152.00,273.80 L153.00,273.94 L154.00,274.07 L155.00,274.20 L156.00,274.34 L157.00,274.47 L158.00,274.60 L159.00,274.73 L160.00,274.86 L161.00,274.99 L162.00,275.12 L163.00,275.25 L164.00,275.38 L165.00,275.51 L166.00,275.64 L167.00,275.77 L168.00,275.89 L169.00,276.02 L170.00,276.14 L171.00,276.27 L172.00,276.40 L173.00,276.52 L174.00,276.64 L175.00,276.77 L176.00,276.89 L177.00,277.02 L178.00,277.14 L179.00,277.26 L180.00,277.38 L181.00,277.51 L182.00,277.63 L183.00,277.75 L184.00,277.87 L185.00,277.99 L186.00,278.12 L187.00,278.24 L188.00,278.36 L189.00,278.48 L190.00,278.60 L191.00,278.72 L192.00,278.84 L193.00,278.96 L194.00,279.08 L195.00,279.20 L196.00,279.32 L197.00,279.44 L198.00,279.57 L199.00,279.69 L200.00,279.81 L201.00,279.93 L202.00,280.05 L203.00,280.17 L204.00,280.29 L205.00,280.41 L206.00,280.53 L207.00,280.65 L208.00,280.77 L209.00,280.89 L210.00,281.01 L211.00,281.13 L212.00,281.25 L213.00,281.37 L214.00,281.49 L215.00,281.62 L216.00,281.74 L217.00,281.86 L218.00,281.98 L219.00,282.10 L220.00,282.22 L221.00,282.35 L222.00,282.47 L223.00,282.59 L224.00,282.71 L225.00,282.83 L226.00,282.96 L227.00,283.08 L228.00,283.20 L229.00,283.33 L230.00,283.45 L231.00,283.57 L232.00,283.70 L233.00,283.82 L234.00,283.95 L235.00,284.07 L236.00,284.20 L237.00,284.32 L238.00,284.45 L239.00,284.57 L240.00,284.70 L241.00,284.83 L242.00,284.95 L243.00,285.08 L244.00,285.21 L245.00,285.34 L246.00,285.46 L247.00,285.59 L248.00,285.72 L249.00,285.85 L250.00,285.98 L251.00,286.11 L252.00,286.24 L253.00,286.37 L254.00,286.50 L255.00,286.63 L256.00,286.76 L257.00,286.89 L258.00,287.02 L259.00,287.15 L260.00,287.28 L261.00,287.41 L262.00,287.54 L263.00,287.68 L264.00,287.81 L265.00,287.94 L266.00,288.07 L267.00,288.21 L268.00,288.34 L269.00,288.47 L270.00,288.60 L271.00,288.74 L272.00,288.87 L273.00,289.01 L274.00,289.14 L275.00,289.27 L276.00,289.41 L277.00,289.54 L278.00,289.68 L279.00,289.81 L280.00,289.95 L281.00,290.08 L282.00,290.22 L283.00,290.35 L284.00,290.49 L285.00,290.62 L286.00,290.76 L287.00,290.89 L288.00,291.03 L289.00,291.16 L290.00,291.30 L291.00,291.44 L292.00,291.57 L293.00,291.71 L294.00,291.84 L295.00,291.98 L296.00,292.12 L297.00,292.25 L298.00,292.39 L299.00,292.53 L300.00,292.66 L301.00,292.80 L302.00,292.94 L303.00,293.07 L304.00,293.21 L305.00,293.35 L306.00,293.48 L307.00,293.62 L308.00,293.76 L309.00,293.89 L310.00,294.03 L311.00,294.17 L312.00,294.31 L313.00,294.44 L314.00,294.58 L315.00,294.72 L316.00,294.86 L317.00,294.99 L318.00,295.13 L319.00,295.27 L320.00,295.41 L321.00,295.54 L322.00,295.68 L323.00,295.82 L324.00,295.96 L325.00,296.09 L326.00,296.23 L327.00,296.37 L328.00,296.51 L329.00,296.65 L330.00,296.78 L331.00,296.92 L332.00,297.06 L333.00,297.20 L334.00,297.33 L335.00,297.47 L336.00,297.61 L337.00,297.75 L338.00,297.89 L339.00,298.02 L340.00,298.16 L341.00,298.30" stroke="#ffc0cb" stroke-dasharray="2.8,1.3"/>
<path d="M56.00,256.50 L57.00,257.57 L58.00,258.64 L59.00,259.70 L60.00,260.75 L61.00,261.79 L62.00,262.80 L63.00,263.80 L64.00,264.77 L65.00,265.70 L66.00,266.59 L67.00,267.41 L68.00,268.16 L69.00,268.83 L70.00,269.40 L71.00,269.87 L72.00,270.24 L73.00,270.53 L74.00,270.74 L75.00,270.90 L76.00,271.02 L77.00,271.10 L78.00,271.16 L79.00,271.20 L80.00,271.23 L81.00,271.26 L82.00,271.27 L83.00,271.28 L84.00,271.30 L85.00,271.32 L86.00,271.34 L87.00,271.37 L88.00,271.41 L89.00,271.45 L90.00,271.49 L91.00,271.54 L92.00,271.59 L93.00,271.65 L94.00,271.71 L95.00,271.78 L96.00,271.85 L97.00,271.92 L98.00,272.00 L99.00,272.08 L100.00,272.17 L101.00,272.26 L102.00,272.35 L103.00,272.45 L104.00,272.56 L105.00,272.67 L106.00,272.78 L107.00,272.90 L108.00,273.03 L109.00,273.16 L110.00,273.30 L111.00,273.45 L112.00,273.60 L113.00,273.76 L114.00,273.93 L115.00,274.10 L116.00,274.27 L117.00,274.46 L118.00,274.64 L119.00,274.83 L120.00,275.02 L121.00,275.22 L122.00,275.41 L123.00,275.61 L124.00,275.81 L125.00,276.00 L126.00,276.20 L127.00,276.39 L128.00,276.59 L129.00,276.78 L130.00,276.97 L131.00,277.16 L132.00,277.35 L133.00,277.53 L134.00,277.72 L135.00,277.90 L136.00,278.08 L137.00,278.27 L138.00,278.45 L139.00,278.62 L140.00,278.80 L141.00,278.98 L142.00,279.15 L143.00,279.32 L144.00,279.49 L145.00,279.66 L146.00,279.83 L147.00,280.00 L148.00,280.16 L149.00,280.32 L150.00,280.48 L151.00,280.64 L152.00,280.80 L153.00,280.95 L154.00,281.11 L155.00,281.26 L156.00,281.41 L157.00,281.56 L158.00,281.70 L159.00,281.85 L160.00,281.99 L161.00,282.14 L162.00,282.28 L163.00,282.42 L164.00,282.56 L165.00,282.71 L166.00,282.85 L167.00,282.99 L168.00,283.13 L169.00,283.27 L170.00,283.42 L171.00,283.56 L172.00,283.71 L173.00,283.85 L174.00,284.00 L175.00,284.15 L176.00,284.30 L177.00,284.45 L178.00,284.60 L179.00,284.75 L180.00,284.91 L181.00,285.07 L182.00,285.23 L183.00,285.39 L184.00,285.56 L185.00,285.72 L186.00,285.89 L187.00,286.06 L188.00,286.23 L189.00,286.40 L190.00,286.58 L191.00,286.75 L192.00,286.93 L193.00,287.11 L194.00,287.29 L195.00,287.48 L196.00,287.66 L197.00,287.85 L198.00,288.04 L199.00,288.23 L200.00,288.42 L201.00,288.61 L202.00,288.81 L203.00,289.00 L204.00,289.20 L205.00,289.40 L206.00,289.60 L207.00,289.80 L208.00,290.01 L209.00,290.21 L210.00,290.42 L211.00,290.63 L212.00,290.84 L213.00,291.05 L214.00,291.26 L215.00,291.47 L216.00,291.69 L217.00,291.91 L218.00,292.13 L219.00,292.35 L220.00,292.57 L221.00,292.79 L222.00,293.02 L223.00,293.24 L224.00,293.47 L225.00,293.70 L226.00,293.93 L227.00,294.16 L228.00,294.39 L229.00,294.63 L230.00,294.86 L231.00,295.10 L232.00,295.34 L233.00,295.58 L234.00,295.82 L235.00,296.06 L236.00,296.31 L237.00,296.55 L238.00,296.80 L239.00,297.05 L240.00,297.30 L241.00,297.55 L242.00,297.80 L243.00,298.06 L244.00,298.31 L245.00,298.57 L246.00,298.83 L247.00,299.09 L248.00,299.35 L249.00,299.61 L250.00,299.87 L251.00,300.13 L252.00,300.40 L253.00,300.66 L254.00,300.93 L255.00,301.19 L256.00,301.46 L257.00,301.73 L258.00,302.00 L259.00,302.27 L260.00,302.54 L261.00,302.81 L262.00,303.08 L263.00,303.36 L264.00,303.63 L265.00,303.90 L266.00,304.18 L267.00,304.45 L268.00,304.73 L269.00,305.00 L270.00,305.28 L271.00,305.55 L272.00,305.83 L273.00,306.11 L274.00,306.38 L275.00,306.66 L276.00,306.94 L277.00,307.21 L278.00,307.49 L279.00,307.77 L280.00,308.04 L281.00,308.32 L282.00,308.60 L283.00,308.87 L284.00,309.15 L285.00,309.42 L286.00,309.70 L287.00,309.98 L288.00,310.25 L289.00,310.53 L290.00,310.80 L291.00,311.07 L292.00,311.35 L293.00,311.62 L294.00,311.89 L295.00,312.17 L296.00,312.44 L297.00,312.71 L298.00,312.98 L299.00,313.25 L300.00,313.52 L301.00,313.79 L302.00,314.06 L303.00,314.33 L304.00,314.60 L305.00,314.87 L306.00,315.14 L307.00,315.40 L308.00,315.67 L309.00,315.94 L310.00,316.21 L311.00,316.47 L312.00,316.74 L313.00,317.01 L314.00,317.27 L315.00,317.54 L316.00,317.80 L317.00,318.07 L318.00,318.34 L319.00,318.60 L320.00,318.87 L321.00,319.13 L322.00,319.39 L323.00,319.66 L324.00,319.92 L325.00,320.19 L326.00,320.45 L327.00,320.72 L328.00,320.98 L329.00,321.24 L330.00,321.51 L331.00,321.77 L332.00,322.03 L333.00,322.30 L334.00,322.56 L335.00,322.82 L336.00,323.09 L337.00,323.35 L338.00,323.61 L339.00,323.87 L340.00,324.14 L341.00,324.40" stroke="#ff69b4" stroke-dasharray="2.8,1.3"/>
</g>
<g stroke="#000" stroke-width="0.8" fill="none" stroke-linecap="square"><line x1="56.00" y1="182.50" x2="56.00" y2="330.50"/><line x1="341.00" y1="182.50" x2="341.00" y2="330.50"/><line x1="56.00" y1="182.50" x2="341.00" y2="182.50"/><line x1="56.00" y1="330.50" x2="341.00" y2="330.50"/><line x1="56.00" y1="330.50" x2="56.00" y2="334.00" stroke-linecap="butt"/><line x1="113.00" y1="330.50" x2="113.00" y2="334.00" stroke-linecap="butt"/><line x1="170.00" y1="330.50" x2="170.00" y2="334.00" stroke-linecap="butt"/><line x1="227.00" y1="330.50" x2="227.00" y2="334.00" stroke-linecap="butt"/><line x1="284.00" y1="330.50" x2="284.00" y2="334.00" stroke-linecap="butt"/><line x1="341.00" y1="330.50" x2="341.00" y2="334.00" stroke-linecap="butt"/><line x1="52.50" y1="330.50" x2="56.00" y2="330.50" stroke-linecap="butt"/><line x1="52.50" y1="305.83" x2="56.00" y2="305.83" stroke-linecap="butt"/><line x1="52.50" y1="281.17" x2="56.00" y2="281.17" stroke-linecap="butt"/><line x1="52.50" y1="256.50" x2="56.00" y2="256.50" stroke-linecap="butt"/><line x1="52.50" y1="231.83" x2="56.00" y2="231.83" stroke-linecap="butt"/><line x1="52.50" y1="207.17" x2="56.00" y2="207.17" stroke-linecap="butt"/><line x1="52.50" y1="182.50" x2="56.00" y2="182.50" stroke-linecap="butt"/></g>
<text x="56.00" y="345.50" text-anchor="middle" textLength="6.36" lengthAdjust="spacingAndGlyphs">0</text>
<text x="113.00" y="345.50" text-anchor="middle" textLength="6.36" lengthAdjust="spacingAndGlyphs">5</text>
<text x="170.00" y="345.50" text-anchor="middle" textLength="12.72" lengthAdjust="spacingAndGlyphs">10</text>
<text x="227.00" y="345.50" text-anchor="middle" textLength="12.72" lengthAdjust="spacingAndGlyphs">15</text>
<text x="284.00" y="345.50" text-anchor="middle" textLength="12.72" lengthAdjust="spacingAndGlyphs">20</text>
<text x="341.00" y="345.50" text-anchor="middle" textLength="12.72" lengthAdjust="spacingAndGlyphs">25</text>
<text x="49.00" y="334.10" text-anchor="end" textLength="12.12" lengthAdjust="spacingAndGlyphs">30</text>
<rect x="28.97" y="330.90" width="6.0" height="0.95" fill="#000"/>
<text x="49.00" y="309.43" text-anchor="end" textLength="12.12" lengthAdjust="spacingAndGlyphs">20</text>
<rect x="28.97" y="306.23" width="6.0" height="0.95" fill="#000"/>
<text x="49.00" y="284.77" text-anchor="end" textLength="12.12" lengthAdjust="spacingAndGlyphs">10</text>
<rect x="28.97" y="281.57" width="6.0" height="0.95" fill="#000"/>
<text x="49.00" y="260.10" text-anchor="end" textLength="5.76" lengthAdjust="spacingAndGlyphs">0</text>
<text x="49.00" y="235.43" text-anchor="end" textLength="12.12" lengthAdjust="spacingAndGlyphs">10</text>
<text x="49.00" y="210.77" text-anchor="end" textLength="12.12" lengthAdjust="spacingAndGlyphs">20</text>
<text x="49.00" y="186.10" text-anchor="end" textLength="12.12" lengthAdjust="spacingAndGlyphs">30</text>
<text x="72.90" y="194.80" text-anchor="end" textLength="13.31" lengthAdjust="spacingAndGlyphs">(c)</text>
<clipPath id="clip_d"><rect x="394.50" y="181.50" width="285.00" height="150.00"/></clipPath>
<g clip-path="url(#clip_d)" fill="none" stroke-width="1.00" stroke-linejoin="round" stroke-linecap="butt">
<path d="M394.50,227.00 L395.50,227.25 L396.50,227.48 L397.50,227.70 L398.50,227.89 L399.50,228.04 L400.50,228.16 L401.50,228.25 L402.50,228.29 L403.50,228.30 L404.50,228.24 L405.50,228.09 L406.50,227.80 L407.50,227.35 L408.50,226.73 L409.50,225.99 L410.50,225.16 L411.50,224.30 L412.50,223.43 L413.50,222.56 L414.50,221.70 L415.50,220.85 L416.50,220.00 L417.50,219.17 L418.50,218.34 L419.50,217.54 L420.50,216.74 L421.50,215.97 L422.50,215.22 L423.50,214.49 L424.50,213.80 L425.50,213.14 L426.50,212.53 L427.50,211.96 L428.50,211.44 L429.50,210.97 L430.50,210.56 L431.50,210.20 L432.50,209.89 L433.50,209.62 L434.50,209.40 L435.50,209.20 L436.50,209.05 L437.50,208.92 L438.50,208.81 L439.50,208.73 L440.50,208.67 L441.50,208.62 L442.50,208.59 L443.50,208.58 L444.50,208.57 L445.50,208.58 L446.50,208.61 L447.50,208.64 L448.50,208.68 L449.50,208.73 L450.50,208.79 L451.50,208.86 L452.50,208.93 L453.50,209.01 L454.50,209.09 L455.50,209.18 L456.50,209.27 L457.50,209.37 L458.50,209.46 L459.50,209.55 L460.50,209.65 L461.50,209.74 L462.50,209.83 L463.50,209.92 L464.50,210.01 L465.50,210.10 L466.50,210.19 L467.50,210.28 L468.50,210.37 L469.50,210.46 L470.50,210.54 L471.50,210.63 L472.50,210.72 L473.50,210.81 L474.50,210.90 L475.50,210.99 L476.50,211.08 L477.50,211.17 L478.50,211.26 L479.50,211.35 L480.50,211.45 L481.50,211.54 L482.50,211.64 L483.50,211.73 L484.50,211.83 L485.50,211.93 L486.50,212.03 L487.50,212.13 L488.50,212.24 L489.50,212.35 L490.50,212.45 L491.50,212.56 L492.50,212.68 L493.50,212.79 L494.50,212.91 L495.50,213.03 L496.50,213.15 L497.50,213.28 L498.50,213.40 L499.50,213.53 L500.50,213.67 L501.50,213.80 L502.50,213.94 L503.50,214.09 L504.50,214.23 L505.50,214.38 L506.50,214.53 L507.50,214.69 L508.50,214.85 L509.50,215.01 L510.50,215.17 L511.50,215.34 L512.50,215.51 L513.50,215.68 L514.50,215.86 L515.50,216.04 L516.50,216.23 L517.50,216.42 L518.50,216.61 L519.50,216.80 L520.50,217.00 L521.50,217.20 L522.50,217.41 L523.50,217.61 L524.50,217.82 L525.50,218.04 L526.50,218.26 L527.50,218.47 L528.50,218.70 L529.50,218.92 L530.50,219.15 L531.50,219.38 L532.50,219.61 L533.50,219.84 L534.50,220.08 L535.50,220.31 L536.50,220.55 L537.50,220.79 L538.50,221.03 L539.50,221.28 L540.50,221.52 L541.50,221.77 L542.50,222.01 L543.50,222.26 L544.50,222.51 L545.50,222.76 L546.50,223.02 L547.50,223.27 L548.50,223.53 L549.50,223.78 L550.50,224.04 L551.50,224.30 L552.50,224.57 L553.50,224.83 L554.50,225.10 L555.50,225.36 L556.50,225.64 L557.50,225.91 L558.50,226.18 L559.50,226.46 L560.50,226.74 L561.50,227.02 L562.50,227.31 L563.50,227.59 L564.50,227.88 L565.50,228.17 L566.50,228.46 L567.50,228.75 L568.50,229.05 L569.50,229.34 L570.50,229.64 L571.50,229.94 L572.50,230.24 L573.50,230.54 L574.50,230.84 L575.50,231.14 L576.50,231.44 L577.50,231.74 L578.50,232.05 L579.50,232.35 L580.50,232.65 L581.50,232.95 L582.50,233.26 L583.50,233.56 L584.50,233.86 L585.50,234.16 L586.50,234.46 L587.50,234.77 L588.50,235.07 L589.50,235.37 L590.50,235.67 L591.50,235.97 L592.50,236.27 L593.50,236.57 L594.50,236.87 L595.50,237.16 L596.50,237.46 L597.50,237.76 L598.50,238.06 L599.50,238.35 L600.50,238.65 L601.50,238.94 L602.50,239.24 L603.50,239.53 L604.50,239.82 L605.50,240.12 L606.50,240.41 L607.50,240.70 L608.50,240.99 L609.50,241.28 L610.50,241.57 L611.50,241.86 L612.50,242.15 L613.50,242.44 L614.50,242.72 L615.50,243.01 L616.50,243.30 L617.50,243.58 L618.50,243.87 L619.50,244.16 L620.50,244.44 L621.50,244.73 L622.50,245.01 L623.50,245.30 L624.50,245.58 L625.50,245.86 L626.50,246.15 L627.50,246.43 L628.50,246.71 L629.50,246.98 L630.50,247.26 L631.50,247.54 L632.50,247.81 L633.50,248.08 L634.50,248.35 L635.50,248.62 L636.50,248.89 L637.50,249.15 L638.50,249.41 L639.50,249.67 L640.50,249.93 L641.50,250.18 L642.50,250.43 L643.50,250.68 L644.50,250.93 L645.50,251.17 L646.50,251.42 L647.50,251.66 L648.50,251.90 L649.50,252.14 L650.50,252.38 L651.50,252.61 L652.50,252.85 L653.50,253.08 L654.50,253.32 L655.50,253.55 L656.50,253.78 L657.50,254.02 L658.50,254.25 L659.50,254.48 L660.50,254.72 L661.50,254.95 L662.50,255.19 L663.50,255.42 L664.50,255.65 L665.50,255.89 L666.50,256.12 L667.50,256.36 L668.50,256.60 L669.50,256.83 L670.50,257.07 L671.50,257.31 L672.50,257.54 L673.50,257.78 L674.50,258.02 L675.50,258.25 L676.50,258.49 L677.50,258.73 L678.50,258.96 L679.50,259.20" stroke="#b22222"/>
<path d="M394.50,227.00 L395.50,227.39 L396.50,227.78 L397.50,228.13 L398.50,228.45 L399.50,228.73 L400.50,228.95 L401.50,229.10 L402.50,229.19 L403.50,229.20 L404.50,229.11 L405.50,228.92 L406.50,228.61 L407.50,228.16 L408.50,227.57 L409.50,226.87 L410.50,226.07 L411.50,225.20 L412.50,224.27 L413.50,223.29 L414.50,222.28 L415.50,221.26 L416.50,220.23 L417.50,219.21 L418.50,218.21 L419.50,217.24 L420.50,216.32 L421.50,215.46 L422.50,214.65 L423.50,213.90 L424.50,213.21 L425.50,212.58 L426.50,212.00 L427.50,211.48 L428.50,211.01 L429.50,210.60 L430.50,210.25 L431.50,209.94 L432.50,209.68 L433.50,209.46 L434.50,209.28 L435.50,209.13 L436.50,209.00 L437.50,208.90 L438.50,208.81 L439.50,208.73 L440.50,208.67 L441.50,208.61 L442.50,208.55 L443.50,208.51 L444.50,208.47 L445.50,208.45 L446.50,208.44 L447.50,208.44 L448.50,208.45 L449.50,208.48 L450.50,208.52 L451.50,208.59 L452.50,208.66 L453.50,208.75 L454.50,208.85 L455.50,208.96 L456.50,209.07 L457.50,209.19 L458.50,209.31 L459.50,209.44 L460.50,209.56 L461.50,209.68 L462.50,209.81 L463.50,209.93 L464.50,210.05 L465.50,210.17 L466.50,210.30 L467.50,210.42 L468.50,210.55 L469.50,210.67 L470.50,210.80 L471.50,210.93 L472.50,211.07 L473.50,211.21 L474.50,211.35 L475.50,211.49 L476.50,211.64 L477.50,211.79 L478.50,211.95 L479.50,212.12 L480.50,212.29 L481.50,212.46 L482.50,212.64 L483.50,212.83 L484.50,213.02 L485.50,213.22 L486.50,213.43 L487.50,213.64 L488.50,213.86 L489.50,214.09 L490.50,214.33 L491.50,214.57 L492.50,214.83 L493.50,215.09 L494.50,215.36 L495.50,215.63 L496.50,215.92 L497.50,216.22 L498.50,216.52 L499.50,216.84 L500.50,217.16 L501.50,217.50 L502.50,217.84 L503.50,218.20 L504.50,218.56 L505.50,218.93 L506.50,219.30 L507.50,219.69 L508.50,220.08 L509.50,220.47 L510.50,220.87 L511.50,221.28 L512.50,221.69 L513.50,222.11 L514.50,222.53 L515.50,222.96 L516.50,223.38 L517.50,223.82 L518.50,224.25 L519.50,224.68 L520.50,225.12 L521.50,225.56 L522.50,225.99 L523.50,226.43 L524.50,226.87 L525.50,227.31 L526.50,227.76 L527.50,228.20 L528.50,228.64 L529.50,229.09 L530.50,229.53 L531.50,229.98 L532.50,230.43 L533.50,230.88 L534.50,231.32 L535.50,231.77 L536.50,232.22 L537.50,232.67 L538.50,233.12 L539.50,233.57 L540.50,234.03 L541.50,234.48 L542.50,234.93 L543.50,235.38 L544.50,235.83 L545.50,236.28 L546.50,236.73 L547.50,237.18 L548.50,237.63 L549.50,238.07 L550.50,238.52 L551.50,238.96 L552.50,239.40 L553.50,239.84 L554.50,240.27 L555.50,240.70 L556.50,241.13 L557.50,241.55 L558.50,241.98 L559.50,242.39 L560.50,242.81 L561.50,243.21 L562.50,243.62 L563.50,244.02 L564.50,244.42 L565.50,244.81 L566.50,245.21 L567.50,245.59 L568.50,245.98 L569.50,246.36 L570.50,246.75 L571.50,247.12 L572.50,247.50 L573.50,247.88 L574.50,248.25 L575.50,248.63 L576.50,249.00 L577.50,249.37 L578.50,249.74 L579.50,250.11 L580.50,250.49 L581.50,250.86 L582.50,251.23 L583.50,251.60 L584.50,251.97 L585.50,252.34 L586.50,252.71 L587.50,253.07 L588.50,253.44 L589.50,253.80 L590.50,254.17 L591.50,254.53 L592.50,254.89 L593.50,255.24 L594.50,255.60 L595.50,255.95 L596.50,256.30 L597.50,256.65 L598.50,256.99 L599.50,257.33 L600.50,257.67 L601.50,258.00 L602.50,258.33 L603.50,258.66 L604.50,258.98 L605.50,259.31 L606.50,259.63 L607.50,259.94 L608.50,260.25 L609.50,260.57 L610.50,260.87 L611.50,261.18 L612.50,261.48 L613.50,261.78 L614.50,262.08 L615.50,262.38 L616.50,262.68 L617.50,262.97 L618.50,263.26 L619.50,263.56 L620.50,263.84 L621.50,264.13 L622.50,264.42 L623.50,264.70 L624.50,264.99 L625.50,265.27 L626.50,265.55 L627.50,265.83 L628.50,266.11 L629.50,266.39 L630.50,266.66 L631.50,266.94 L632.50,267.21 L633.50,267.48 L634.50,267.75 L635.50,268.02 L636.50,268.28 L637.50,268.55 L638.50,268.81 L639.50,269.07 L640.50,269.33 L641.50,269.59 L642.50,269.84 L643.50,270.10 L644.50,270.35 L645.50,270.60 L646.50,270.85 L647.50,271.10 L648.50,271.35 L649.50,271.60 L650.50,271.84 L651.50,272.08 L652.50,272.32 L653.50,272.57 L654.50,272.80 L655.50,273.04 L656.50,273.28 L657.50,273.52 L658.50,273.75 L659.50,273.98 L660.50,274.22 L661.50,274.45 L662.50,274.68 L663.50,274.91 L664.50,275.14 L665.50,275.36 L666.50,275.59 L667.50,275.82 L668.50,276.04 L669.50,276.27 L670.50,276.49 L671.50,276.72 L672.50,276.94 L673.50,277.16 L674.50,277.39 L675.50,277.61 L676.50,277.83 L677.50,278.06 L678.50,278.28 L679.50,278.50" stroke="#fa8072"/>
<path d="M394.50,227.00 L395.50,227.56 L396.50,228.09 L397.50,228.58 L398.50,229.00 L399.50,229.35 L400.50,229.62 L401.50,229.83 L402.50,229.97 L403.50,230.05 L404.50,230.06 L405.50,229.97 L406.50,229.76 L407.50,229.40 L408.50,228.89 L409.50,228.23 L410.50,227.43 L411.50,226.50 L412.50,225.44 L413.50,224.28 L414.50,223.05 L415.50,221.76 L416.50,220.44 L417.50,219.11 L418.50,217.81 L419.50,216.56 L420.50,215.37 L421.50,214.27 L422.50,213.26 L423.50,212.33 L424.50,211.48 L425.50,210.71 L426.50,210.02 L427.50,209.40 L428.50,208.85 L429.50,208.37 L430.50,207.95 L431.50,207.59 L432.50,207.28 L433.50,207.02 L434.50,206.80 L435.50,206.62 L436.50,206.47 L437.50,206.34 L438.50,206.24 L439.50,206.14 L440.50,206.06 L441.50,205.98 L442.50,205.92 L443.50,205.87 L444.50,205.85 L445.50,205.85 L446.50,205.87 L447.50,205.93 L448.50,206.03 L449.50,206.15 L450.50,206.31 L451.50,206.49 L452.50,206.69 L453.50,206.91 L454.50,207.16 L455.50,207.42 L456.50,207.70 L457.50,207.99 L458.50,208.29 L459.50,208.61 L460.50,208.93 L461.50,209.27 L462.50,209.60 L463.50,209.95 L464.50,210.30 L465.50,210.65 L466.50,211.01 L467.50,211.37 L468.50,211.73 L469.50,212.10 L470.50,212.46 L471.50,212.83 L472.50,213.21 L473.50,213.58 L474.50,213.96 L475.50,214.35 L476.50,214.74 L477.50,215.15 L478.50,215.56 L479.50,215.98 L480.50,216.42 L481.50,216.87 L482.50,217.32 L483.50,217.79 L484.50,218.27 L485.50,218.75 L486.50,219.25 L487.50,219.74 L488.50,220.24 L489.50,220.75 L490.50,221.25 L491.50,221.76 L492.50,222.27 L493.50,222.79 L494.50,223.30 L495.50,223.82 L496.50,224.34 L497.50,224.87 L498.50,225.40 L499.50,225.93 L500.50,226.47 L501.50,227.01 L502.50,227.56 L503.50,228.11 L504.50,228.66 L505.50,229.22 L506.50,229.78 L507.50,230.34 L508.50,230.91 L509.50,231.48 L510.50,232.05 L511.50,232.62 L512.50,233.19 L513.50,233.76 L514.50,234.34 L515.50,234.91 L516.50,235.49 L517.50,236.06 L518.50,236.64 L519.50,237.21 L520.50,237.79 L521.50,238.36 L522.50,238.93 L523.50,239.50 L524.50,240.07 L525.50,240.63 L526.50,241.20 L527.50,241.76 L528.50,242.32 L529.50,242.87 L530.50,243.43 L531.50,243.98 L532.50,244.52 L533.50,245.07 L534.50,245.61 L535.50,246.14 L536.50,246.67 L537.50,247.20 L538.50,247.72 L539.50,248.24 L540.50,248.76 L541.50,249.26 L542.50,249.77 L543.50,250.27 L544.50,250.76 L545.50,251.25 L546.50,251.74 L547.50,252.22 L548.50,252.70 L549.50,253.18 L550.50,253.65 L551.50,254.12 L552.50,254.59 L553.50,255.05 L554.50,255.51 L555.50,255.97 L556.50,256.42 L557.50,256.88 L558.50,257.33 L559.50,257.78 L560.50,258.22 L561.50,258.67 L562.50,259.11 L563.50,259.56 L564.50,260.00 L565.50,260.43 L566.50,260.87 L567.50,261.30 L568.50,261.73 L569.50,262.16 L570.50,262.59 L571.50,263.01 L572.50,263.44 L573.50,263.85 L574.50,264.27 L575.50,264.68 L576.50,265.09 L577.50,265.50 L578.50,265.90 L579.50,266.30 L580.50,266.70 L581.50,267.09 L582.50,267.48 L583.50,267.87 L584.50,268.25 L585.50,268.63 L586.50,269.01 L587.50,269.38 L588.50,269.75 L589.50,270.12 L590.50,270.48 L591.50,270.84 L592.50,271.20 L593.50,271.56 L594.50,271.91 L595.50,272.26 L596.50,272.61 L597.50,272.95 L598.50,273.29 L599.50,273.63 L600.50,273.97 L601.50,274.30 L602.50,274.63 L603.50,274.96 L604.50,275.29 L605.50,275.61 L606.50,275.93 L607.50,276.25 L608.50,276.56 L609.50,276.88 L610.50,277.19 L611.50,277.49 L612.50,277.80 L613.50,278.10 L614.50,278.40 L615.50,278.70 L616.50,278.99 L617.50,279.28 L618.50,279.57 L619.50,279.86 L620.50,280.14 L621.50,280.42 L622.50,280.70 L623.50,280.98 L624.50,281.25 L625.50,281.52 L626.50,281.79 L627.50,282.06 L628.50,282.32 L629.50,282.58 L630.50,282.84 L631.50,283.10 L632.50,283.35 L633.50,283.61 L634.50,283.86 L635.50,284.11 L636.50,284.35 L637.50,284.60 L638.50,284.84 L639.50,285.08 L640.50,285.32 L641.50,285.56 L642.50,285.79 L643.50,286.02 L644.50,286.25 L645.50,286.48 L646.50,286.71 L647.50,286.94 L648.50,287.16 L649.50,287.38 L650.50,287.60 L651.50,287.82 L652.50,288.04 L653.50,288.25 L654.50,288.46 L655.50,288.67 L656.50,288.88 L657.50,289.09 L658.50,289.30 L659.50,289.50 L660.50,289.70 L661.50,289.90 L662.50,290.10 L663.50,290.30 L664.50,290.49 L665.50,290.68 L666.50,290.88 L667.50,291.07 L668.50,291.26 L669.50,291.45 L670.50,291.63 L671.50,291.82 L672.50,292.01 L673.50,292.19 L674.50,292.38 L675.50,292.56 L676.50,292.75 L677.50,292.93 L678.50,293.12 L679.50,293.30" stroke="#8fbc7f"/>
<path d="M394.50,227.00 L395.50,227.79 L396.50,228.54 L397.50,229.21 L398.50,229.76 L399.50,230.19 L400.50,230.50 L401.50,230.73 L402.50,230.87 L403.50,230.95 L404.50,230.96 L405.50,230.87 L406.50,230.68 L407.50,230.35 L408.50,229.87 L409.50,229.23 L410.50,228.41 L411.50,227.40 L412.50,226.19 L413.50,224.84 L414.50,223.39 L415.50,221.90 L416.50,220.42 L417.50,218.97 L418.50,217.56 L419.50,216.18 L420.50,214.83 L421.50,213.53 L422.50,212.27 L423.50,211.09 L424.50,210.00 L425.50,209.02 L426.50,208.15 L427.50,207.38 L428.50,206.70 L429.50,206.12 L430.50,205.61 L431.50,205.18 L432.50,204.80 L433.50,204.47 L434.50,204.18 L435.50,203.92 L436.50,203.70 L437.50,203.53 L438.50,203.39 L439.50,203.30 L440.50,203.25 L441.50,203.24 L442.50,203.28 L443.50,203.35 L444.50,203.46 L445.50,203.60 L446.50,203.78 L447.50,203.99 L448.50,204.22 L449.50,204.47 L450.50,204.74 L451.50,205.03 L452.50,205.34 L453.50,205.70 L454.50,206.09 L455.50,206.53 L456.50,207.01 L457.50,207.54 L458.50,208.11 L459.50,208.72 L460.50,209.36 L461.50,210.03 L462.50,210.72 L463.50,211.43 L464.50,212.16 L465.50,212.90 L466.50,213.66 L467.50,214.44 L468.50,215.22 L469.50,216.02 L470.50,216.82 L471.50,217.63 L472.50,218.44 L473.50,219.25 L474.50,220.06 L475.50,220.86 L476.50,221.66 L477.50,222.44 L478.50,223.22 L479.50,223.98 L480.50,224.72 L481.50,225.44 L482.50,226.15 L483.50,226.85 L484.50,227.53 L485.50,228.21 L486.50,228.88 L487.50,229.54 L488.50,230.20 L489.50,230.85 L490.50,231.50 L491.50,232.15 L492.50,232.79 L493.50,233.43 L494.50,234.08 L495.50,234.72 L496.50,235.36 L497.50,236.00 L498.50,236.64 L499.50,237.28 L500.50,237.92 L501.50,238.57 L502.50,239.21 L503.50,239.86 L504.50,240.50 L505.50,241.15 L506.50,241.79 L507.50,242.44 L508.50,243.08 L509.50,243.72 L510.50,244.37 L511.50,245.00 L512.50,245.64 L513.50,246.27 L514.50,246.90 L515.50,247.53 L516.50,248.15 L517.50,248.77 L518.50,249.39 L519.50,250.00 L520.50,250.60 L521.50,251.20 L522.50,251.80 L523.50,252.38 L524.50,252.97 L525.50,253.55 L526.50,254.12 L527.50,254.69 L528.50,255.26 L529.50,255.82 L530.50,256.38 L531.50,256.93 L532.50,257.48 L533.50,258.03 L534.50,258.57 L535.50,259.11 L536.50,259.65 L537.50,260.18 L538.50,260.71 L539.50,261.24 L540.50,261.76 L541.50,262.28 L542.50,262.80 L543.50,263.32 L544.50,263.83 L545.50,264.34 L546.50,264.84 L547.50,265.35 L548.50,265.84 L549.50,266.34 L550.50,266.83 L551.50,267.32 L552.50,267.80 L553.50,268.28 L554.50,268.76 L555.50,269.23 L556.50,269.70 L557.50,270.16 L558.50,270.62 L559.50,271.07 L560.50,271.52 L561.50,271.97 L562.50,272.41 L563.50,272.85 L564.50,273.28 L565.50,273.71 L566.50,274.13 L567.50,274.55 L568.50,274.96 L569.50,275.38 L570.50,275.78 L571.50,276.19 L572.50,276.59 L573.50,276.99 L574.50,277.38 L575.50,277.77 L576.50,278.16 L577.50,278.55 L578.50,278.93 L579.50,279.31 L580.50,279.69 L581.50,280.06 L582.50,280.44 L583.50,280.81 L584.50,281.17 L585.50,281.54 L586.50,281.90 L587.50,282.26 L588.50,282.61 L589.50,282.97 L590.50,283.32 L591.50,283.67 L592.50,284.01 L593.50,284.35 L594.50,284.69 L595.50,285.03 L596.50,285.36 L597.50,285.69 L598.50,286.02 L599.50,286.34 L600.50,286.66 L601.50,286.98 L602.50,287.29 L603.50,287.60 L604.50,287.91 L605.50,288.22 L606.50,288.52 L607.50,288.82 L608.50,289.11 L609.50,289.40 L610.50,289.69 L611.50,289.98 L612.50,290.26 L613.50,290.55 L614.50,290.82 L615.50,291.10 L616.50,291.37 L617.50,291.64 L618.50,291.91 L619.50,292.17 L620.50,292.43 L621.50,292.69 L622.50,292.94 L623.50,293.20 L624.50,293.44 L625.50,293.69 L626.50,293.94 L627.50,294.18 L628.50,294.42 L629.50,294.65 L630.50,294.89 L631.50,295.12 L632.50,295.35 L633.50,295.58 L634.50,295.80 L635.50,296.02 L636.50,296.25 L637.50,296.46 L638.50,296.68 L639.50,296.89 L640.50,297.11 L641.50,297.32 L642.50,297.52 L643.50,297.73 L644.50,297.93 L645.50,298.14 L646.50,298.34 L647.50,298.54 L648.50,298.73 L649.50,298.93 L650.50,299.12 L651.50,299.32 L652.50,299.51 L653.50,299.70 L654.50,299.89 L655.50,300.07 L656.50,300.26 L657.50,300.44 L658.50,300.63 L659.50,300.81 L660.50,300.99 L661.50,301.17 L662.50,301.35 L663.50,301.53 L664.50,301.71 L665.50,301.88 L666.50,302.06 L667.50,302.23 L668.50,302.41 L669.50,302.58 L670.50,302.76 L671.50,302.93 L672.50,303.10 L673.50,303.27 L674.50,303.44 L675.50,303.62 L676.50,303.79 L677.50,303.96 L678.50,304.13 L679.50,304.30" stroke="#3f7f3f"/>
<path d="M394.50,227.00 L395.50,228.07 L396.50,229.14 L397.50,230.17 L398.50,231.17 L399.50,232.11 L400.50,232.99 L401.50,233.79 L402.50,234.51 L403.50,235.14 L404.50,235.70 L405.50,236.19 L406.50,236.61 L407.50,236.95 L408.50,237.23 L409.50,237.45 L410.50,237.62 L411.50,237.74 L412.50,237.81 L413.50,237.85 L414.50,237.85 L415.50,237.83 L416.50,237.79 L417.50,237.74 L418.50,237.68 L419.50,237.62 L420.50,237.56 L421.50,237.52 L422.50,237.49 L423.50,237.47 L424.50,237.48 L425.50,237.50 L426.50,237.53 L427.50,237.58 L428.50,237.64 L429.50,237.71 L430.50,237.80 L431.50,237.88 L432.50,237.98 L433.50,238.08 L434.50,238.19 L435.50,238.30 L436.50,238.41 L437.50,238.52 L438.50,238.64 L439.50,238.75 L440.50,238.85 L441.50,238.96 L442.50,239.06 L443.50,239.15 L444.50,239.25 L445.50,239.34 L446.50,239.43 L447.50,239.52 L448.50,239.61 L449.50,239.69 L450.50,239.78 L451.50,239.86 L452.50,239.95 L453.50,240.03 L454.50,240.12 L455.50,240.20 L456.50,240.29 L457.50,240.37 L458.50,240.46 L459.50,240.55 L460.50,240.65 L461.50,240.74 L462.50,240.84 L463.50,240.94 L464.50,241.04 L465.50,241.14 L466.50,241.25 L467.50,241.35 L468.50,241.46 L469.50,241.57 L470.50,241.68 L471.50,241.80 L472.50,241.91 L473.50,242.03 L474.50,242.14 L475.50,242.26 L476.50,242.38 L477.50,242.50 L478.50,242.62 L479.50,242.74 L480.50,242.86 L481.50,242.98 L482.50,243.11 L483.50,243.23 L484.50,243.35 L485.50,243.48 L486.50,243.61 L487.50,243.74 L488.50,243.87 L489.50,244.00 L490.50,244.13 L491.50,244.26 L492.50,244.40 L493.50,244.54 L494.50,244.68 L495.50,244.82 L496.50,244.97 L497.50,245.12 L498.50,245.27 L499.50,245.42 L500.50,245.58 L501.50,245.74 L502.50,245.90 L503.50,246.06 L504.50,246.23 L505.50,246.40 L506.50,246.58 L507.50,246.75 L508.50,246.93 L509.50,247.11 L510.50,247.30 L511.50,247.49 L512.50,247.68 L513.50,247.87 L514.50,248.07 L515.50,248.27 L516.50,248.47 L517.50,248.67 L518.50,248.88 L519.50,249.09 L520.50,249.31 L521.50,249.52 L522.50,249.74 L523.50,249.97 L524.50,250.19 L525.50,250.42 L526.50,250.65 L527.50,250.88 L528.50,251.11 L529.50,251.34 L530.50,251.58 L531.50,251.82 L532.50,252.06 L533.50,252.30 L534.50,252.54 L535.50,252.79 L536.50,253.03 L537.50,253.28 L538.50,253.53 L539.50,253.78 L540.50,254.02 L541.50,254.27 L542.50,254.52 L543.50,254.77 L544.50,255.03 L545.50,255.28 L546.50,255.53 L547.50,255.78 L548.50,256.04 L549.50,256.29 L550.50,256.55 L551.50,256.80 L552.50,257.06 L553.50,257.31 L554.50,257.57 L555.50,257.83 L556.50,258.09 L557.50,258.35 L558.50,258.61 L559.50,258.87 L560.50,259.13 L561.50,259.39 L562.50,259.66 L563.50,259.92 L564.50,260.18 L565.50,260.45 L566.50,260.71 L567.50,260.98 L568.50,261.24 L569.50,261.51 L570.50,261.77 L571.50,262.04 L572.50,262.31 L573.50,262.57 L574.50,262.84 L575.50,263.10 L576.50,263.37 L577.50,263.64 L578.50,263.90 L579.50,264.17 L580.50,264.43 L581.50,264.70 L582.50,264.96 L583.50,265.23 L584.50,265.49 L585.50,265.75 L586.50,266.01 L587.50,266.28 L588.50,266.54 L589.50,266.80 L590.50,267.06 L591.50,267.32 L592.50,267.58 L593.50,267.84 L594.50,268.09 L595.50,268.35 L596.50,268.61 L597.50,268.86 L598.50,269.12 L599.50,269.37 L600.50,269.63 L601.50,269.88 L602.50,270.13 L603.50,270.38 L604.50,270.63 L605.50,270.88 L606.50,271.13 L607.50,271.38 L608.50,271.62 L609.50,271.87 L610.50,272.11 L611.50,272.36 L612.50,272.60 L613.50,272.84 L614.50,273.09 L615.50,273.33 L616.50,273.57 L617.50,273.81 L618.50,274.04 L619.50,274.28 L620.50,274.52 L621.50,274.75 L622.50,274.99 L623.50,275.22 L624.50,275.46 L625.50,275.69 L626.50,275.92 L627.50,276.15 L628.50,276.38 L629.50,276.60 L630.50,276.83 L631.50,277.05 L632.50,277.28 L633.50,277.50 L634.50,277.72 L635.50,277.94 L636.50,278.15 L637.50,278.37 L638.50,278.58 L639.50,278.79 L640.50,279.01 L641.50,279.21 L642.50,279.42 L643.50,279.63 L644.50,279.83 L645.50,280.03 L646.50,280.23 L647.50,280.43 L648.50,280.63 L649.50,280.82 L650.50,281.02 L651.50,281.21 L652.50,281.40 L653.50,281.59 L654.50,281.78 L655.50,281.97 L656.50,282.16 L657.50,282.34 L658.50,282.53 L659.50,282.71 L660.50,282.89 L661.50,283.07 L662.50,283.25 L663.50,283.43 L664.50,283.61 L665.50,283.78 L666.50,283.96 L667.50,284.13 L668.50,284.31 L669.50,284.48 L670.50,284.66 L671.50,284.83 L672.50,285.00 L673.50,285.17 L674.50,285.35 L675.50,285.52 L676.50,285.69 L677.50,285.86 L678.50,286.03 L679.50,286.20" stroke="#b22222" stroke-dasharray="2.8,1.3"/>
<path d="M394.50,227.00 L395.50,228.29 L396.50,229.57 L397.50,230.80 L398.50,231.97 L399.50,233.06 L400.50,234.05 L401.50,234.92 L402.50,235.66 L403.50,236.29 L404.50,236.82 L405.50,237.25 L406.50,237.60 L407.50,237.88 L408.50,238.10 L409.50,238.28 L410.50,238.40 L411.50,238.49 L412.50,238.54 L413.50,238.56 L414.50,238.56 L415.50,238.53 L416.50,238.49 L417.50,238.44 L418.50,238.38 L419.50,238.32 L420.50,238.26 L421.50,238.22 L422.50,238.19 L423.50,238.17 L424.50,238.17 L425.50,238.18 L426.50,238.21 L427.50,238.24 L428.50,238.29 L429.50,238.35 L430.50,238.42 L431.50,238.50 L432.50,238.59 L433.50,238.68 L434.50,238.78 L435.50,238.89 L436.50,239.00 L437.50,239.11 L438.50,239.22 L439.50,239.34 L440.50,239.46 L441.50,239.58 L442.50,239.70 L443.50,239.81 L444.50,239.93 L445.50,240.05 L446.50,240.17 L447.50,240.29 L448.50,240.42 L449.50,240.54 L450.50,240.66 L451.50,240.79 L452.50,240.91 L453.50,241.04 L454.50,241.17 L455.50,241.30 L456.50,241.43 L457.50,241.56 L458.50,241.70 L459.50,241.83 L460.50,241.97 L461.50,242.11 L462.50,242.25 L463.50,242.39 L464.50,242.54 L465.50,242.68 L466.50,242.83 L467.50,242.99 L468.50,243.14 L469.50,243.30 L470.50,243.46 L471.50,243.63 L472.50,243.80 L473.50,243.97 L474.50,244.15 L475.50,244.33 L476.50,244.51 L477.50,244.70 L478.50,244.90 L479.50,245.10 L480.50,245.30 L481.50,245.51 L482.50,245.73 L483.50,245.95 L484.50,246.18 L485.50,246.41 L486.50,246.65 L487.50,246.89 L488.50,247.14 L489.50,247.40 L490.50,247.66 L491.50,247.93 L492.50,248.21 L493.50,248.49 L494.50,248.78 L495.50,249.07 L496.50,249.38 L497.50,249.69 L498.50,250.01 L499.50,250.33 L500.50,250.67 L501.50,251.01 L502.50,251.36 L503.50,251.71 L504.50,252.07 L505.50,252.44 L506.50,252.81 L507.50,253.19 L508.50,253.58 L509.50,253.96 L510.50,254.35 L511.50,254.75 L512.50,255.15 L513.50,255.55 L514.50,255.95 L515.50,256.36 L516.50,256.77 L517.50,257.17 L518.50,257.58 L519.50,257.99 L520.50,258.41 L521.50,258.82 L522.50,259.23 L523.50,259.64 L524.50,260.05 L525.50,260.45 L526.50,260.86 L527.50,261.27 L528.50,261.68 L529.50,262.09 L530.50,262.49 L531.50,262.90 L532.50,263.30 L533.50,263.71 L534.50,264.11 L535.50,264.51 L536.50,264.91 L537.50,265.31 L538.50,265.71 L539.50,266.10 L540.50,266.50 L541.50,266.89 L542.50,267.28 L543.50,267.67 L544.50,268.06 L545.50,268.45 L546.50,268.83 L547.50,269.21 L548.50,269.59 L549.50,269.97 L550.50,270.35 L551.50,270.72 L552.50,271.09 L553.50,271.46 L554.50,271.83 L555.50,272.19 L556.50,272.55 L557.50,272.91 L558.50,273.27 L559.50,273.62 L560.50,273.98 L561.50,274.32 L562.50,274.67 L563.50,275.01 L564.50,275.35 L565.50,275.69 L566.50,276.02 L567.50,276.36 L568.50,276.69 L569.50,277.01 L570.50,277.34 L571.50,277.66 L572.50,277.98 L573.50,278.30 L574.50,278.61 L575.50,278.92 L576.50,279.23 L577.50,279.54 L578.50,279.85 L579.50,280.15 L580.50,280.45 L581.50,280.75 L582.50,281.05 L583.50,281.34 L584.50,281.63 L585.50,281.92 L586.50,282.21 L587.50,282.50 L588.50,282.78 L589.50,283.06 L590.50,283.34 L591.50,283.62 L592.50,283.90 L593.50,284.17 L594.50,284.44 L595.50,284.71 L596.50,284.98 L597.50,285.25 L598.50,285.51 L599.50,285.77 L600.50,286.03 L601.50,286.29 L602.50,286.54 L603.50,286.80 L604.50,287.05 L605.50,287.30 L606.50,287.54 L607.50,287.79 L608.50,288.03 L609.50,288.27 L610.50,288.51 L611.50,288.75 L612.50,288.99 L613.50,289.22 L614.50,289.46 L615.50,289.69 L616.50,289.91 L617.50,290.14 L618.50,290.37 L619.50,290.59 L620.50,290.81 L621.50,291.03 L622.50,291.25 L623.50,291.46 L624.50,291.68 L625.50,291.89 L626.50,292.10 L627.50,292.31 L628.50,292.52 L629.50,292.73 L630.50,292.93 L631.50,293.13 L632.50,293.33 L633.50,293.53 L634.50,293.73 L635.50,293.93 L636.50,294.13 L637.50,294.32 L638.50,294.51 L639.50,294.70 L640.50,294.89 L641.50,295.08 L642.50,295.27 L643.50,295.46 L644.50,295.64 L645.50,295.83 L646.50,296.01 L647.50,296.19 L648.50,296.37 L649.50,296.56 L650.50,296.73 L651.50,296.91 L652.50,297.09 L653.50,297.27 L654.50,297.44 L655.50,297.62 L656.50,297.79 L657.50,297.97 L658.50,298.14 L659.50,298.31 L660.50,298.49 L661.50,298.66 L662.50,298.83 L663.50,299.00 L664.50,299.17 L665.50,299.34 L666.50,299.51 L667.50,299.68 L668.50,299.85 L669.50,300.02 L670.50,300.19 L671.50,300.36 L672.50,300.53 L673.50,300.69 L674.50,300.86 L675.50,301.03 L676.50,301.20 L677.50,301.36 L678.50,301.53 L679.50,301.70" stroke="#fa8072" stroke-dasharray="2.8,1.3"/>
<path d="M394.50,227.00 L395.50,228.45 L396.50,229.88 L397.50,231.26 L398.50,232.59 L399.50,233.83 L400.50,234.97 L401.50,235.99 L402.50,236.88 L403.50,237.65 L404.50,238.30 L405.50,238.85 L406.50,239.30 L407.50,239.65 L408.50,239.93 L409.50,240.12 L410.50,240.25 L411.50,240.31 L412.50,240.33 L413.50,240.29 L414.50,240.22 L415.50,240.11 L416.50,239.99 L417.50,239.84 L418.50,239.69 L419.50,239.54 L420.50,239.39 L421.50,239.26 L422.50,239.15 L423.50,239.06 L424.50,239.00 L425.50,238.96 L426.50,238.94 L427.50,238.94 L428.50,238.96 L429.50,239.00 L430.50,239.06 L431.50,239.13 L432.50,239.21 L433.50,239.31 L434.50,239.42 L435.50,239.54 L436.50,239.68 L437.50,239.82 L438.50,239.97 L439.50,240.12 L440.50,240.28 L441.50,240.45 L442.50,240.62 L443.50,240.79 L444.50,240.97 L445.50,241.16 L446.50,241.35 L447.50,241.55 L448.50,241.75 L449.50,241.96 L450.50,242.18 L451.50,242.40 L452.50,242.63 L453.50,242.87 L454.50,243.11 L455.50,243.37 L456.50,243.63 L457.50,243.89 L458.50,244.17 L459.50,244.45 L460.50,244.75 L461.50,245.05 L462.50,245.36 L463.50,245.67 L464.50,246.00 L465.50,246.33 L466.50,246.67 L467.50,247.02 L468.50,247.37 L469.50,247.73 L470.50,248.09 L471.50,248.46 L472.50,248.84 L473.50,249.22 L474.50,249.60 L475.50,249.99 L476.50,250.39 L477.50,250.79 L478.50,251.19 L479.50,251.60 L480.50,252.01 L481.50,252.42 L482.50,252.83 L483.50,253.25 L484.50,253.67 L485.50,254.10 L486.50,254.52 L487.50,254.95 L488.50,255.38 L489.50,255.82 L490.50,256.26 L491.50,256.69 L492.50,257.13 L493.50,257.58 L494.50,258.02 L495.50,258.47 L496.50,258.92 L497.50,259.37 L498.50,259.82 L499.50,260.27 L500.50,260.73 L501.50,261.18 L502.50,261.64 L503.50,262.10 L504.50,262.56 L505.50,263.02 L506.50,263.48 L507.50,263.95 L508.50,264.41 L509.50,264.88 L510.50,265.34 L511.50,265.81 L512.50,266.28 L513.50,266.74 L514.50,267.21 L515.50,267.68 L516.50,268.15 L517.50,268.62 L518.50,269.09 L519.50,269.56 L520.50,270.04 L521.50,270.51 L522.50,270.98 L523.50,271.45 L524.50,271.92 L525.50,272.39 L526.50,272.86 L527.50,273.33 L528.50,273.80 L529.50,274.26 L530.50,274.72 L531.50,275.19 L532.50,275.64 L533.50,276.10 L534.50,276.56 L535.50,277.01 L536.50,277.46 L537.50,277.90 L538.50,278.34 L539.50,278.78 L540.50,279.22 L541.50,279.65 L542.50,280.07 L543.50,280.50 L544.50,280.92 L545.50,281.33 L546.50,281.74 L547.50,282.15 L548.50,282.56 L549.50,282.96 L550.50,283.36 L551.50,283.75 L552.50,284.15 L553.50,284.54 L554.50,284.92 L555.50,285.31 L556.50,285.69 L557.50,286.07 L558.50,286.44 L559.50,286.81 L560.50,287.18 L561.50,287.55 L562.50,287.92 L563.50,288.28 L564.50,288.64 L565.50,289.00 L566.50,289.35 L567.50,289.70 L568.50,290.05 L569.50,290.40 L570.50,290.74 L571.50,291.08 L572.50,291.41 L573.50,291.74 L574.50,292.07 L575.50,292.39 L576.50,292.71 L577.50,293.03 L578.50,293.34 L579.50,293.65 L580.50,293.95 L581.50,294.25 L582.50,294.54 L583.50,294.84 L584.50,295.12 L585.50,295.41 L586.50,295.69 L587.50,295.96 L588.50,296.24 L589.50,296.51 L590.50,296.78 L591.50,297.04 L592.50,297.30 L593.50,297.56 L594.50,297.82 L595.50,298.07 L596.50,298.33 L597.50,298.58 L598.50,298.83 L599.50,299.08 L600.50,299.32 L601.50,299.57 L602.50,299.81 L603.50,300.05 L604.50,300.30 L605.50,300.53 L606.50,300.77 L607.50,301.01 L608.50,301.24 L609.50,301.47 L610.50,301.71 L611.50,301.93 L612.50,302.16 L613.50,302.39 L614.50,302.61 L615.50,302.83 L616.50,303.05 L617.50,303.27 L618.50,303.48 L619.50,303.69 L620.50,303.90 L621.50,304.11 L622.50,304.32 L623.50,304.52 L624.50,304.72 L625.50,304.92 L626.50,305.12 L627.50,305.32 L628.50,305.51 L629.50,305.70 L630.50,305.89 L631.50,306.08 L632.50,306.27 L633.50,306.45 L634.50,306.63 L635.50,306.81 L636.50,306.99 L637.50,307.17 L638.50,307.34 L639.50,307.51 L640.50,307.69 L641.50,307.86 L642.50,308.02 L643.50,308.19 L644.50,308.35 L645.50,308.52 L646.50,308.68 L647.50,308.84 L648.50,309.00 L649.50,309.15 L650.50,309.31 L651.50,309.46 L652.50,309.61 L653.50,309.76 L654.50,309.91 L655.50,310.06 L656.50,310.20 L657.50,310.35 L658.50,310.49 L659.50,310.63 L660.50,310.77 L661.50,310.91 L662.50,311.04 L663.50,311.18 L664.50,311.31 L665.50,311.44 L666.50,311.57 L667.50,311.70 L668.50,311.83 L669.50,311.96 L670.50,312.08 L671.50,312.21 L672.50,312.33 L673.50,312.46 L674.50,312.58 L675.50,312.71 L676.50,312.83 L677.50,312.95 L678.50,313.08 L679.50,313.20" stroke="#8fbc7f" stroke-dasharray="2.8,1.3"/>
<path d="M394.50,227.00 L395.50,228.73 L396.50,230.43 L397.50,232.08 L398.50,233.63 L399.50,235.05 L400.50,236.33 L401.50,237.42 L402.50,238.33 L403.50,239.07 L404.50,239.65 L405.50,240.11 L406.50,240.45 L407.50,240.70 L408.50,240.88 L409.50,241.00 L410.50,241.06 L411.50,241.07 L412.50,241.04 L413.50,240.97 L414.50,240.88 L415.50,240.76 L416.50,240.63 L417.50,240.49 L418.50,240.34 L419.50,240.20 L420.50,240.07 L421.50,239.95 L422.50,239.86 L423.50,239.79 L424.50,239.74 L425.50,239.72 L426.50,239.72 L427.50,239.74 L428.50,239.79 L429.50,239.85 L430.50,239.94 L431.50,240.04 L432.50,240.17 L433.50,240.31 L434.50,240.47 L435.50,240.64 L436.50,240.83 L437.50,241.03 L438.50,241.25 L439.50,241.48 L440.50,241.72 L441.50,241.98 L442.50,242.24 L443.50,242.52 L444.50,242.81 L445.50,243.12 L446.50,243.43 L447.50,243.76 L448.50,244.09 L449.50,244.44 L450.50,244.80 L451.50,245.18 L452.50,245.56 L453.50,245.96 L454.50,246.36 L455.50,246.78 L456.50,247.21 L457.50,247.65 L458.50,248.10 L459.50,248.56 L460.50,249.04 L461.50,249.52 L462.50,250.02 L463.50,250.52 L464.50,251.04 L465.50,251.56 L466.50,252.09 L467.50,252.63 L468.50,253.18 L469.50,253.73 L470.50,254.29 L471.50,254.85 L472.50,255.42 L473.50,256.00 L474.50,256.57 L475.50,257.16 L476.50,257.74 L477.50,258.33 L478.50,258.92 L479.50,259.50 L480.50,260.10 L481.50,260.69 L482.50,261.28 L483.50,261.87 L484.50,262.46 L485.50,263.05 L486.50,263.64 L487.50,264.23 L488.50,264.82 L489.50,265.41 L490.50,266.00 L491.50,266.59 L492.50,267.17 L493.50,267.75 L494.50,268.34 L495.50,268.92 L496.50,269.49 L497.50,270.07 L498.50,270.64 L499.50,271.22 L500.50,271.78 L501.50,272.35 L502.50,272.91 L503.50,273.47 L504.50,274.03 L505.50,274.58 L506.50,275.13 L507.50,275.68 L508.50,276.23 L509.50,276.77 L510.50,277.30 L511.50,277.83 L512.50,278.36 L513.50,278.89 L514.50,279.41 L515.50,279.93 L516.50,280.44 L517.50,280.95 L518.50,281.45 L519.50,281.95 L520.50,282.45 L521.50,282.94 L522.50,283.42 L523.50,283.90 L524.50,284.38 L525.50,284.85 L526.50,285.32 L527.50,285.78 L528.50,286.24 L529.50,286.70 L530.50,287.15 L531.50,287.59 L532.50,288.03 L533.50,288.47 L534.50,288.90 L535.50,289.33 L536.50,289.75 L537.50,290.17 L538.50,290.59 L539.50,291.00 L540.50,291.40 L541.50,291.80 L542.50,292.20 L543.50,292.60 L544.50,292.99 L545.50,293.37 L546.50,293.75 L547.50,294.13 L548.50,294.50 L549.50,294.87 L550.50,295.24 L551.50,295.60 L552.50,295.95 L553.50,296.31 L554.50,296.66 L555.50,297.00 L556.50,297.34 L557.50,297.68 L558.50,298.01 L559.50,298.34 L560.50,298.66 L561.50,298.98 L562.50,299.30 L563.50,299.61 L564.50,299.92 L565.50,300.23 L566.50,300.53 L567.50,300.83 L568.50,301.12 L569.50,301.41 L570.50,301.70 L571.50,301.99 L572.50,302.27 L573.50,302.55 L574.50,302.82 L575.50,303.10 L576.50,303.37 L577.50,303.64 L578.50,303.90 L579.50,304.17 L580.50,304.43 L581.50,304.69 L582.50,304.95 L583.50,305.20 L584.50,305.45 L585.50,305.71 L586.50,305.95 L587.50,306.20 L588.50,306.44 L589.50,306.69 L590.50,306.93 L591.50,307.16 L592.50,307.40 L593.50,307.63 L594.50,307.86 L595.50,308.09 L596.50,308.32 L597.50,308.55 L598.50,308.77 L599.50,308.99 L600.50,309.21 L601.50,309.43 L602.50,309.64 L603.50,309.86 L604.50,310.07 L605.50,310.28 L606.50,310.48 L607.50,310.69 L608.50,310.89 L609.50,311.10 L610.50,311.30 L611.50,311.49 L612.50,311.69 L613.50,311.88 L614.50,312.08 L615.50,312.27 L616.50,312.45 L617.50,312.64 L618.50,312.83 L619.50,313.01 L620.50,313.19 L621.50,313.37 L622.50,313.55 L623.50,313.72 L624.50,313.90 L625.50,314.07 L626.50,314.24 L627.50,314.41 L628.50,314.58 L629.50,314.74 L630.50,314.91 L631.50,315.07 L632.50,315.23 L633.50,315.39 L634.50,315.55 L635.50,315.71 L636.50,315.86 L637.50,316.02 L638.50,316.17 L639.50,316.32 L640.50,316.48 L641.50,316.63 L642.50,316.77 L643.50,316.92 L644.50,317.07 L645.50,317.21 L646.50,317.36 L647.50,317.50 L648.50,317.64 L649.50,317.78 L650.50,317.92 L651.50,318.06 L652.50,318.20 L653.50,318.34 L654.50,318.47 L655.50,318.61 L656.50,318.74 L657.50,318.87 L658.50,319.00 L659.50,319.14 L660.50,319.26 L661.50,319.39 L662.50,319.52 L663.50,319.65 L664.50,319.77 L665.50,319.90 L666.50,320.02 L667.50,320.15 L668.50,320.27 L669.50,320.39 L670.50,320.52 L671.50,320.64 L672.50,320.76 L673.50,320.88 L674.50,321.00 L675.50,321.12 L676.50,321.24 L677.50,321.36 L678.50,321.48 L679.50,321.60" stroke="#3f7f3f" stroke-dasharray="2.8,1.3"/>
</g>
<g stroke="#000" stroke-width="0.8" fill="none" stroke-linecap="square"><line x1="394.50" y1="182.50" x2="394.50" y2="330.50"/><line x1="679.50" y1="182.50" x2="679.50" y2="330.50"/><line x1="394.50" y1="182.50" x2="679.50" y2="182.50"/><line x1="394.50" y1="330.50" x2="679.50" y2="330.50"/><line x1="394.50" y1="330.50" x2="394.50" y2="334.00" stroke-linecap="butt"/><line x1="451.50" y1="330.50" x2="451.50" y2="334.00" stroke-linecap="butt"/><line x1="508.50" y1="330.50" x2="508.50" y2="334.00" stroke-linecap="butt"/><line x1="565.50" y1="330.50" x2="565.50" y2="334.00" stroke-linecap="butt"/><line x1="622.50" y1="330.50" x2="622.50" y2="334.00" stroke-linecap="butt"/><line x1="679.50" y1="330.50" x2="679.50" y2="334.00" stroke-linecap="butt"/><line x1="391.00" y1="315.70" x2="394.50" y2="315.70" stroke-linecap="butt"/><line x1="391.00" y1="286.10" x2="394.50" y2="286.10" stroke-linecap="butt"/><line x1="391.00" y1="256.50" x2="394.50" y2="256.50" stroke-linecap="butt"/><line x1="391.00" y1="226.90" x2="394.50" y2="226.90" stroke-linecap="butt"/><line x1="391.00" y1="197.30" x2="394.50" y2="197.30" stroke-linecap="butt"/></g>
<text x="394.50" y="345.50" text-anchor="middle" textLength="6.36" lengthAdjust="spacingAndGlyphs">0</text>
<text x="451.50" y="345.50" text-anchor="middle" textLength="6.36" lengthAdjust="spacingAndGlyphs">5</text>
<text x="508.50" y="345.50" text-anchor="middle" textLength="12.72" lengthAdjust="spacingAndGlyphs">10</text>
<text x="565.50" y="345.50" text-anchor="middle" textLength="12.72" lengthAdjust="spacingAndGlyphs">15</text>
<text x="622.50" y="345.50" text-anchor="middle" textLength="12.72" lengthAdjust="spacingAndGlyphs">20</text>
<text x="679.50" y="345.50" text-anchor="middle" textLength="12.72" lengthAdjust="spacingAndGlyphs">25</text>
<text x="387.50" y="319.30" text-anchor="end" textLength="12.12" lengthAdjust="spacingAndGlyphs">60</text>
<rect x="367.47" y="316.10" width="6.0" height="0.95" fill="#000"/>
<text x="387.50" y="289.70" text-anchor="end" textLength="12.12" lengthAdjust="spacingAndGlyphs">40</text>
<rect x="367.47" y="286.50" width="6.0" height="0.95" fill="#000"/>
<text x="387.50" y="260.10" text-anchor="end" textLength="12.12" lengthAdjust="spacingAndGlyphs">20</text>
<rect x="367.47" y="256.90" width="6.0" height="0.95" fill="#000"/>
<text x="387.50" y="230.50" text-anchor="end" textLength="5.76" lengthAdjust="spacingAndGlyphs">0</text>
<text x="387.50" y="200.90" text-anchor="end" textLength="12.12" lengthAdjust="spacingAndGlyphs">20</text>
<text x="411.40" y="194.80" text-anchor="end" textLength="14.16" lengthAdjust="spacingAndGlyphs">(d)</text>
<clipPath id="clip_e"><rect x="56.00" y="360.00" width="285.00" height="150.50"/></clipPath>
<g clip-path="url(#clip_e)" fill="none" stroke-width="1.00" stroke-linejoin="round" stroke-linecap="butt">
<path d="M56.00,429.10 L61.50,414.00 L66.80,400.60 L71.90,403.10 L76.90,398.60 L81.90,411.30 L87.50,420.70 L94.20,429.10 L100.00,438.50 L110.00,444.60 L118.00,448.10 L130.00,449.00 L145.00,449.90 L160.00,450.30 L163.02,450.77 L166.03,449.93 L169.05,450.18 L172.07,450.00 L175.08,450.77 L178.10,450.37 L181.12,450.29 L184.13,450.72 L187.15,450.51 L190.17,450.41 L193.18,450.45 L196.20,450.21 L199.22,450.14 L202.23,450.20 L205.25,450.83 L208.27,450.82 L211.28,451.05 L214.30,450.59 L217.32,450.53 L220.33,450.75 L223.35,450.21 L226.37,450.17 L229.38,450.85 L232.40,450.63 L235.42,450.59 L238.43,450.99 L241.45,450.58 L244.47,450.49 L247.48,450.43 L250.50,450.56 L253.52,450.68 L256.53,450.60 L259.55,450.48 L262.57,450.55 L265.58,451.25 L268.60,450.65 L271.62,451.06 L274.63,451.17 L277.65,451.38 L280.67,450.69 L283.68,451.26 L286.70,451.28 L289.72,451.03 L292.73,450.97 L295.75,451.07 L298.77,450.53 L301.78,450.71 L304.80,450.82 L307.82,451.45 L310.83,451.15 L313.85,451.21 L316.87,451.51 L319.88,451.42 L322.90,450.73 L325.92,450.86 L328.93,450.97 L331.95,451.53 L334.97,451.13 L337.98,451.11 L341.00,451.20" stroke="#ffc0cb"/>
<path d="M56.00,439.20 L77.40,412.40 L82.00,411.60 L87.50,411.30 L92.00,412.00 L96.40,413.20 L100.00,414.60 L106.50,417.90 L113.00,421.80 L119.50,426.30 L126.00,430.70 L132.50,434.60 L139.00,437.90 L145.50,440.70 L152.00,443.00 L158.50,444.90 L165.00,446.30 L172.00,447.40 L185.00,448.60 L200.00,449.30 L230.00,449.90 L260.00,450.30 L300.00,450.30 L341.00,450.20" stroke="#ff69b4"/>
<path d="M56.00,424.10 L60.70,419.30 L70.70,418.50 L77.40,425.80 L84.10,432.50 L90.80,439.20 L97.00,442.80 L104.00,444.80 L120.00,446.30 L123.03,446.28 L126.05,446.39 L129.08,446.72 L132.11,446.51 L135.14,446.50 L138.16,446.92 L141.19,446.52 L144.22,447.02 L147.25,446.73 L150.27,446.01 L153.30,446.42 L156.33,447.09 L159.36,446.68 L162.38,446.91 L165.41,446.87 L168.44,446.88 L171.47,446.67 L174.49,446.39 L177.52,446.99 L180.55,446.79 L183.58,447.27 L186.60,446.82 L189.63,446.94 L192.66,447.05 L195.68,446.37 L198.71,446.79 L201.74,447.16 L204.77,447.50 L207.79,446.85 L210.82,446.77 L213.85,446.58 L216.88,447.12 L219.90,446.81 L222.93,446.60 L225.96,447.15 L228.99,447.42 L232.01,447.45 L235.04,447.37 L238.07,447.80 L241.10,447.00 L244.12,447.69 L247.15,447.19 L250.18,447.40 L253.21,446.88 L256.23,447.98 L259.26,447.03 L262.29,447.78 L265.32,448.05 L268.34,447.90 L271.37,447.30 L274.40,447.64 L277.42,447.07 L280.45,447.79 L283.48,447.45 L286.51,447.85 L289.53,447.97 L292.56,447.25 L295.59,447.21 L298.62,448.33 L301.64,447.34 L304.67,448.21 L307.70,448.49 L310.73,447.73 L313.75,447.42 L316.78,448.39 L319.81,448.20 L322.84,448.64 L325.86,448.43 L328.89,448.05 L331.92,447.64 L334.95,448.65 L337.97,448.59 L341.00,448.20" stroke="#87ceeb"/>
<path d="M56.00,439.50 L60.70,435.80 L68.50,433.30 L73.00,435.00 L80.80,435.60 L88.20,438.60 L97.20,440.80 L104.00,442.30 L110.00,443.80 L120.00,444.20 L130.00,444.60 L138.00,445.40 L141.50,448.00 L144.00,445.60 L160.00,445.90 L163.02,446.02 L166.03,445.90 L169.05,446.00 L172.07,445.36 L175.08,445.47 L178.10,446.41 L181.12,446.00 L184.13,446.59 L187.15,446.12 L190.17,445.47 L193.18,445.52 L196.20,446.21 L199.22,446.47 L202.23,446.56 L205.25,445.61 L208.27,446.44 L211.28,446.00 L214.30,445.71 L217.32,445.87 L220.33,446.53 L223.35,446.03 L226.37,445.77 L229.38,446.10 L232.40,445.77 L235.42,446.42 L238.43,446.28 L241.45,445.72 L244.47,446.35 L247.48,446.03 L250.50,446.48 L253.52,446.02 L256.53,446.80 L259.55,446.75 L262.57,445.76 L265.58,446.80 L268.60,446.18 L271.62,446.38 L274.63,446.72 L277.65,446.34 L280.67,446.31 L283.68,446.21 L286.70,446.48 L289.72,446.36 L292.73,446.71 L295.75,446.30 L298.77,446.12 L301.78,446.17 L304.80,446.44 L307.82,446.22 L310.83,446.06 L313.85,446.36 L316.87,446.23 L319.88,446.71 L322.90,446.45 L325.92,447.03 L328.93,446.94 L331.95,446.59 L334.97,446.92 L337.98,446.69 L341.00,446.60" stroke="#1f5f8f"/>
<path d="M56.00,447.10 L60.70,448.30 L68.50,447.10 L81.90,445.80 L94.00,445.80 L97.01,446.21 L100.02,446.14 L103.04,446.21 L106.05,445.53 L109.06,445.95 L112.07,446.03 L115.09,446.16 L118.10,446.39 L121.11,446.32 L124.12,446.26 L127.13,446.17 L130.15,446.24 L133.16,446.27 L136.17,446.49 L139.18,446.45 L142.20,445.76 L145.21,446.42 L148.22,445.84 L151.23,446.17 L154.24,446.41 L157.26,446.13 L160.27,446.55 L163.28,446.47 L166.29,446.63 L169.30,446.55 L172.32,446.62 L175.33,445.72 L178.34,446.65 L181.35,446.27 L184.37,446.20 L187.38,446.20 L190.39,446.06 L193.40,445.81 L196.41,446.10 L199.43,445.97 L202.44,446.28 L205.45,446.72 L208.46,446.14 L211.48,446.81 L214.49,446.01 L217.50,446.35 L220.51,446.15 L223.52,446.80 L226.54,446.91 L229.55,446.42 L232.56,446.05 L235.57,446.30 L238.59,446.60 L241.60,446.45 L244.61,446.69 L247.62,446.16 L250.63,446.26 L253.65,446.99 L256.66,446.84 L259.67,447.03 L262.68,446.94 L265.70,446.26 L268.71,446.28 L271.72,446.39 L274.73,446.52 L277.74,446.59 L280.76,447.12 L283.77,446.76 L286.78,447.22 L289.79,446.42 L292.80,446.79 L295.82,446.78 L298.83,446.82 L301.84,446.61 L304.85,446.87 L307.87,446.38 L310.88,446.91 L313.89,446.46 L316.90,447.17 L319.91,447.05 L322.93,446.75 L325.94,446.83 L328.95,446.45 L331.96,446.67 L334.98,447.17 L337.99,447.28 L341.00,447.00" stroke="#1f5f8f" stroke-dasharray="2.8,1.3"/>
<path d="M56.00,457.70 L64.00,453.00 L71.80,448.30 L80.70,446.00 L94.00,445.60 L97.01,445.91 L100.02,446.06 L103.04,445.43 L106.05,446.06 L109.06,446.31 L112.07,445.42 L115.09,445.30 L118.10,446.43 L121.11,445.76 L124.12,445.99 L127.13,445.51 L130.15,446.48 L133.16,445.64 L136.17,446.43 L139.18,445.72 L142.20,446.15 L145.21,445.62 L148.22,446.65 L151.23,445.57 L154.24,446.59 L157.26,446.52 L160.27,445.96 L163.28,446.50 L166.29,445.98 L169.30,446.71 L172.32,446.61 L175.33,446.09 L178.34,446.66 L181.35,446.22 L184.37,446.49 L187.38,446.23 L190.39,446.49 L193.40,446.63 L196.41,446.39 L199.43,446.88 L202.44,446.68 L205.45,447.11 L208.46,446.62 L211.48,446.25 L214.49,447.12 L217.50,447.06 L220.51,446.87 L223.52,446.88 L226.54,447.09 L229.55,447.13 L232.56,447.27 L235.57,447.55 L238.59,446.88 L241.60,446.58 L244.61,446.73 L247.62,447.49 L250.63,446.98 L253.65,446.69 L256.66,447.04 L259.67,446.83 L262.68,446.85 L265.70,446.84 L268.71,446.76 L271.72,446.88 L274.73,447.90 L277.74,447.92 L280.76,447.27 L283.77,447.61 L286.78,447.21 L289.79,447.27 L292.80,447.96 L295.82,447.23 L298.83,447.61 L301.84,447.47 L304.85,447.66 L307.87,447.09 L310.88,448.02 L313.89,448.09 L316.90,447.61 L319.91,448.34 L322.93,447.69 L325.94,447.90 L328.95,448.41 L331.96,447.60 L334.98,448.01 L337.99,447.38 L341.00,448.00" stroke="#87ceeb" stroke-dasharray="2.8,1.3"/>
<path d="M56.20,490.60 L63.00,469.00 L70.70,448.30 L77.40,444.90 L85.20,448.30 L94.00,451.60 L104.00,452.00 L107.00,452.27 L110.00,452.48 L113.00,453.17 L116.00,451.11 L119.00,452.83 L122.00,452.08 L125.00,453.23 L128.00,453.23 L131.00,452.47 L134.00,451.13 L137.00,453.18 L140.00,452.18 L143.00,452.45 L146.00,451.67 L149.00,452.82 L152.00,452.41 L155.00,452.20 L158.00,452.18 L161.00,451.47 L164.00,452.22 L167.00,452.44 L170.00,452.86 L173.00,451.64 L176.00,451.95 L179.00,451.47 L182.00,452.95 L185.00,451.89 L188.00,452.21 L191.00,451.96 L194.00,452.25 L197.00,453.22 L200.00,452.30 L203.00,452.40 L206.00,453.61 L209.00,453.36 L212.00,451.98 L215.00,453.64 L218.00,453.53 L221.00,452.15 L224.00,452.81 L227.00,453.36 L230.00,452.03 L233.00,453.09 L236.00,452.41 L239.00,453.21 L242.00,453.18 L245.00,452.04 L248.00,452.18 L251.00,453.30 L254.00,453.64 L257.00,453.19 L260.00,454.21 L263.00,454.02 L266.00,453.87 L269.00,452.15 L272.00,452.15 L275.00,453.74 L278.00,453.86 L281.00,453.51 L284.00,453.68 L287.00,454.06 L290.00,453.38 L293.00,453.23 L296.00,452.28 L299.00,452.35 L302.00,452.84 L305.00,452.22 L308.00,452.38 L311.00,454.52 L314.00,452.75 L317.00,452.61 L320.00,453.81 L323.00,453.58 L326.00,454.31 L329.00,453.79 L332.00,453.71 L335.00,454.48 L338.00,453.11 L341.00,453.60" stroke="#ffc0cb" stroke-dasharray="2.8,1.3"/>
<path d="M56.00,460.00 L66.80,445.50 L71.80,448.30 L77.40,452.70 L94.00,455.00 L100.00,455.10 L170.00,456.20 L210.00,459.10 L260.00,461.20 L300.00,461.10 L341.00,460.20" stroke="#ff69b4" stroke-dasharray="2.8,1.3"/>
</g>
<g stroke="#000" stroke-width="0.8" fill="none" stroke-linecap="square"><line x1="56.00" y1="361.00" x2="56.00" y2="509.50"/><line x1="341.00" y1="361.00" x2="341.00" y2="509.50"/><line x1="56.00" y1="361.00" x2="341.00" y2="361.00"/><line x1="56.00" y1="509.50" x2="341.00" y2="509.50"/><line x1="56.00" y1="509.50" x2="56.00" y2="513.00" stroke-linecap="butt"/><line x1="113.00" y1="509.50" x2="113.00" y2="513.00" stroke-linecap="butt"/><line x1="170.00" y1="509.50" x2="170.00" y2="513.00" stroke-linecap="butt"/><line x1="227.00" y1="509.50" x2="227.00" y2="513.00" stroke-linecap="butt"/><line x1="284.00" y1="509.50" x2="284.00" y2="513.00" stroke-linecap="butt"/><line x1="341.00" y1="509.50" x2="341.00" y2="513.00" stroke-linecap="butt"/><line x1="52.50" y1="509.50" x2="56.00" y2="509.50" stroke-linecap="butt"/><line x1="52.50" y1="488.29" x2="56.00" y2="488.29" stroke-linecap="butt"/><line x1="52.50" y1="467.07" x2="56.00" y2="467.07" stroke-linecap="butt"/><line x1="52.50" y1="445.86" x2="56.00" y2="445.86" stroke-linecap="butt"/><line x1="52.50" y1="424.64" x2="56.00" y2="424.64" stroke-linecap="butt"/><line x1="52.50" y1="403.43" x2="56.00" y2="403.43" stroke-linecap="butt"/><line x1="52.50" y1="382.21" x2="56.00" y2="382.21" stroke-linecap="butt"/><line x1="52.50" y1="361.00" x2="56.00" y2="361.00" stroke-linecap="butt"/></g>
<text x="56.00" y="524.50" text-anchor="middle" textLength="6.36" lengthAdjust="spacingAndGlyphs">0</text>
<text x="113.00" y="524.50" text-anchor="middle" textLength="6.36" lengthAdjust="spacingAndGlyphs">5</text>
<text x="170.00" y="524.50" text-anchor="middle" textLength="12.72" lengthAdjust="spacingAndGlyphs">10</text>
<text x="227.00" y="524.50" text-anchor="middle" textLength="12.72" lengthAdjust="spacingAndGlyphs">15</text>
<text x="284.00" y="524.50" text-anchor="middle" textLength="12.72" lengthAdjust="spacingAndGlyphs">20</text>
<text x="341.00" y="524.50" text-anchor="middle" textLength="12.72" lengthAdjust="spacingAndGlyphs">25</text>
<text x="49.00" y="513.10" text-anchor="end" textLength="28.01" lengthAdjust="spacingAndGlyphs">0.015</text>
<rect x="13.08" y="509.90" width="6.0" height="0.95" fill="#000"/>
<text x="49.00" y="491.89" text-anchor="end" textLength="28.01" lengthAdjust="spacingAndGlyphs">0.010</text>
<rect x="13.08" y="488.69" width="6.0" height="0.95" fill="#000"/>
<text x="49.00" y="470.67" text-anchor="end" textLength="28.01" lengthAdjust="spacingAndGlyphs">0.005</text>
<rect x="13.08" y="467.47" width="6.0" height="0.95" fill="#000"/>
<text x="49.00" y="449.46" text-anchor="end" textLength="28.01" lengthAdjust="spacingAndGlyphs">0.000</text>
<text x="49.00" y="428.24" text-anchor="end" textLength="28.01" lengthAdjust="spacingAndGlyphs">0.005</text>
<text x="49.00" y="407.03" text-anchor="end" textLength="28.01" lengthAdjust="spacingAndGlyphs">0.010</text>
<text x="49.00" y="385.81" text-anchor="end" textLength="28.01" lengthAdjust="spacingAndGlyphs">0.015</text>
<text x="49.00" y="364.60" text-anchor="end" textLength="28.01" lengthAdjust="spacingAndGlyphs">0.020</text>
<text x="72.90" y="373.30" text-anchor="end" textLength="13.97" lengthAdjust="spacingAndGlyphs">(e)</text>
<clipPath id="clip_f"><rect x="394.50" y="360.00" width="285.00" height="150.50"/></clipPath>
<g clip-path="url(#clip_f)" fill="none" stroke-width="1.00" stroke-linejoin="round" stroke-linecap="butt">
<path d="M394.50,437.00 L401.00,425.40 L406.20,419.50 L411.00,424.00 L416.00,429.00 L421.00,434.50 L428.00,440.00 L436.00,443.80 L449.00,445.30 L463.30,445.50 L480.00,446.20 L504.90,448.30 L515.00,448.70 L518.00,449.18 L521.00,449.07 L524.00,448.91 L527.00,449.00 L530.00,449.50 L533.00,449.54 L536.00,449.79 L539.00,449.33 L542.00,449.84 L545.00,450.34 L548.00,449.98 L551.00,450.02 L554.00,450.01 L557.00,450.50 L560.07,450.37 L563.14,450.30 L566.21,450.58 L569.29,450.73 L572.36,450.89 L575.43,450.59 L578.50,450.25 L581.57,450.27 L584.64,450.56 L587.71,450.73 L590.79,450.55 L593.86,450.61 L596.93,450.15 L600.00,450.50 L603.06,450.12 L606.12,450.13 L609.17,450.27 L612.23,450.41 L615.29,450.29 L618.35,450.43 L621.40,449.96 L624.46,449.91 L627.52,449.84 L630.58,449.70 L633.63,450.05 L636.69,449.61 L639.75,450.25 L642.81,449.51 L645.87,450.23 L648.92,449.84 L651.98,449.87 L655.04,449.74 L658.10,449.41 L661.15,449.57 L664.21,449.96 L667.27,449.23 L670.33,449.29 L673.38,449.39 L676.44,449.54 L679.50,449.40" stroke="#b22222"/>
<path d="M394.50,434.30 L398.50,425.00 L401.40,416.90 L407.40,412.10 L414.00,425.00 L421.70,435.80 L430.20,442.50 L449.20,445.40 L471.10,448.40 L491.50,455.70 L501.80,455.70 L507.60,457.10 L510.50,456.40 L520.00,457.80 L523.08,457.68 L526.17,457.83 L529.25,456.91 L532.33,457.25 L535.42,457.19 L538.50,456.79 L541.58,456.51 L544.67,456.94 L547.75,456.87 L550.83,456.19 L553.92,456.72 L557.00,456.10 L560.07,456.18 L563.14,455.70 L566.21,455.75 L569.29,454.90 L572.36,454.78 L575.43,454.40 L578.50,455.02 L581.57,453.86 L584.64,453.89 L587.71,453.68 L590.79,453.17 L593.86,453.67 L596.93,453.20 L600.00,453.00 L603.06,453.29 L606.12,452.49 L609.17,452.85 L612.23,452.39 L615.29,452.57 L618.35,452.59 L621.40,452.49 L624.46,452.28 L627.52,452.18 L630.58,451.64 L633.63,451.63 L636.69,451.35 L639.75,452.16 L642.81,451.49 L645.87,451.26 L648.92,451.85 L651.98,451.39 L655.04,451.22 L658.10,451.48 L661.15,451.33 L664.21,451.16 L667.27,450.80 L670.33,450.88 L673.38,450.76 L676.44,450.44 L679.50,450.50" stroke="#fa8072"/>
<path d="M394.50,440.00 L396.20,425.00 L397.70,415.00 L400.30,400.60 L405.50,392.40 L410.50,408.00 L415.50,425.00 L420.00,432.00 L434.60,447.60 L449.20,458.60 L458.00,468.80 L463.80,466.60 L468.20,470.30 L478.40,471.40 L487.20,468.80 L495.90,468.80 L503.00,466.50 L510.00,467.50 L520.00,464.40 L523.33,463.89 L526.67,462.91 L530.00,461.70 L533.00,461.32 L536.00,461.05 L539.00,460.22 L542.00,460.17 L545.00,460.50 L548.00,459.50 L551.00,459.40 L554.00,459.28 L557.00,458.25 L560.00,458.60 L563.33,457.62 L566.67,457.65 L570.00,457.25 L573.33,456.48 L576.67,456.06 L580.00,455.80 L583.33,456.25 L586.67,454.66 L590.00,454.74 L593.33,454.41 L596.67,455.39 L600.00,454.60 L603.08,453.78 L606.15,453.97 L609.23,454.41 L612.31,454.01 L615.38,454.49 L618.46,454.24 L621.54,453.84 L624.62,452.96 L627.69,453.41 L630.77,452.71 L633.85,452.78 L636.92,452.55 L640.00,452.60 L643.04,453.12 L646.08,452.94 L649.12,452.50 L652.15,451.89 L655.19,452.56 L658.23,452.31 L661.27,451.75 L664.31,451.01 L667.35,450.92 L670.38,451.22 L673.42,451.58 L676.46,451.31 L679.50,451.20" stroke="#8fbc7f"/>
<path d="M394.50,446.00 L398.50,432.00 L400.30,425.00 L403.70,415.00 L407.70,396.90 L413.30,401.30 L418.50,407.30 L423.70,414.70 L430.20,424.00 L435.60,430.30 L446.30,445.40 L456.50,455.70 L463.80,461.50 L472.60,467.30 L478.40,468.10 L482.80,469.50 L487.20,467.30 L491.50,469.50 L497.40,467.30 L501.80,468.80 L507.60,466.60 L515.00,467.90 L520.00,465.90 L523.33,465.01 L526.67,464.86 L530.00,464.80 L533.00,463.77 L536.00,464.72 L539.00,464.47 L542.00,463.44 L545.00,463.60 L548.00,463.20 L551.00,462.55 L554.00,462.31 L557.00,462.13 L560.00,462.30 L563.33,461.48 L566.67,461.22 L570.00,460.66 L573.33,461.08 L576.67,460.49 L580.00,459.90 L583.33,459.97 L586.67,458.18 L590.00,458.69 L593.33,458.09 L596.67,457.98 L600.00,456.70 L603.08,457.23 L606.15,455.56 L609.23,456.45 L612.31,454.98 L615.38,455.53 L618.46,455.37 L621.54,455.78 L624.62,455.49 L627.69,453.92 L630.77,453.96 L633.85,454.02 L636.92,454.07 L640.00,453.60 L643.04,452.88 L646.08,453.43 L649.12,452.50 L652.15,452.52 L655.19,452.73 L658.23,453.24 L661.27,452.53 L664.31,451.82 L667.35,452.87 L670.38,451.99 L673.42,451.77 L676.46,451.20 L679.50,451.80" stroke="#3f7f3f"/>
<path d="M394.50,468.30 L400.50,450.00 L406.20,441.00 L412.60,442.80 L420.00,444.70 L449.40,446.90 L463.80,448.40 L493.00,449.80 L515.00,452.40 L518.00,452.51 L521.00,452.07 L524.00,453.02 L527.00,452.43 L530.00,452.72 L533.00,453.18 L536.00,453.21 L539.00,452.98 L542.00,453.42 L545.00,453.59 L548.00,453.13 L551.00,453.34 L554.00,453.41 L557.00,453.40 L560.07,453.49 L563.14,453.53 L566.21,453.22 L569.29,453.25 L572.36,453.38 L575.43,452.66 L578.50,453.09 L581.57,452.62 L584.64,452.51 L587.71,452.41 L590.79,452.94 L593.86,452.30 L596.93,452.92 L600.00,452.40 L603.06,452.25 L606.12,451.74 L609.17,451.93 L612.23,451.53 L615.29,452.43 L618.35,452.26 L621.40,451.94 L624.46,451.31 L627.52,451.89 L630.58,451.47 L633.63,451.62 L636.69,451.57 L639.75,451.57 L642.81,451.06 L645.87,450.61 L648.92,450.54 L651.98,451.31 L655.04,450.46 L658.10,451.00 L661.15,450.53 L664.21,450.90 L667.27,450.60 L670.33,449.81 L673.38,450.10 L676.44,450.33 L679.50,450.00" stroke="#b22222" stroke-dasharray="2.8,1.3"/>
<path d="M394.50,472.80 L401.00,453.00 L407.40,438.80 L413.30,442.50 L422.20,446.90 L449.20,448.40 L471.10,455.70 L490.10,463.00 L495.90,460.80 L507.60,462.20 L515.00,463.00 L518.00,462.89 L521.00,462.42 L524.00,462.19 L527.00,461.73 L530.00,461.04 L533.00,461.71 L536.00,460.94 L539.00,460.63 L542.00,460.96 L545.00,460.07 L548.00,460.51 L551.00,459.72 L554.00,459.45 L557.00,459.20 L560.07,458.89 L563.14,458.08 L566.21,458.03 L569.29,458.07 L572.36,457.65 L575.43,456.75 L578.50,457.21 L581.57,457.08 L584.64,456.12 L587.71,455.58 L590.79,455.11 L593.86,455.65 L596.93,455.41 L600.00,454.50 L603.06,454.14 L606.12,454.53 L609.17,454.22 L612.23,453.30 L615.29,453.89 L618.35,453.09 L621.40,454.00 L624.46,453.74 L627.52,453.51 L630.58,453.10 L633.63,452.38 L636.69,452.77 L639.75,452.56 L642.81,452.74 L645.87,452.14 L648.92,451.71 L651.98,451.62 L655.04,451.60 L658.10,451.15 L661.15,451.39 L664.21,451.57 L667.27,450.68 L670.33,450.40 L673.38,451.34 L676.44,450.25 L679.50,450.50" stroke="#fa8072" stroke-dasharray="2.8,1.3"/>
<path d="M394.50,487.70 L399.50,455.00 L405.10,431.50 L411.80,436.50 L422.20,444.70 L434.60,447.50 L449.20,460.00 L468.20,471.70 L478.40,474.60 L487.20,471.70 L495.90,473.20 L507.60,468.80 L520.00,467.30 L523.33,466.54 L526.67,466.59 L530.00,465.40 L533.00,465.29 L536.00,464.11 L539.00,463.31 L542.00,462.98 L545.00,462.60 L548.00,462.19 L551.00,462.63 L554.00,461.18 L557.00,460.48 L560.00,460.50 L563.33,460.69 L566.67,459.70 L570.00,458.31 L573.33,458.23 L576.67,457.65 L580.00,457.60 L583.33,456.95 L586.67,456.33 L590.00,456.96 L593.33,456.97 L596.67,455.71 L600.00,455.50 L603.08,456.05 L606.15,454.73 L609.23,454.69 L612.31,454.92 L615.38,454.07 L618.46,453.78 L621.54,454.02 L624.62,453.88 L627.69,454.34 L630.77,452.84 L633.85,452.87 L636.92,453.59 L640.00,453.10 L643.04,452.41 L646.08,452.23 L649.12,452.84 L652.15,452.37 L655.19,452.95 L658.23,451.70 L661.27,453.13 L664.31,452.82 L667.35,451.37 L670.38,452.33 L673.42,451.13 L676.46,451.17 L679.50,451.50" stroke="#8fbc7f" stroke-dasharray="2.8,1.3"/>
<path d="M394.50,499.60 L398.50,455.00 L401.40,429.50 L405.10,430.20 L412.60,437.30 L416.30,440.60 L420.00,443.20 L428.80,454.20 L437.50,470.30 L444.80,481.90 L455.00,487.80 L468.20,487.00 L473.30,490.00 L478.40,483.40 L482.80,485.60 L488.60,479.00 L493.00,481.90 L498.80,474.60 L503.20,476.80 L509.00,473.20 L515.00,472.90 L520.00,472.40 L523.50,470.42 L527.00,468.60 L530.00,467.45 L533.00,465.80 L536.00,464.48 L539.00,463.79 L542.00,464.08 L545.00,462.60 L548.00,462.32 L551.00,461.79 L554.00,461.75 L557.00,461.10 L560.29,461.39 L563.57,460.76 L566.86,459.23 L570.14,460.37 L573.43,458.82 L576.71,458.61 L580.00,458.70 L583.33,457.75 L586.67,458.89 L590.00,458.34 L593.33,458.12 L596.67,457.12 L600.00,456.60 L603.08,455.82 L606.15,456.15 L609.23,455.19 L612.31,455.85 L615.38,456.19 L618.46,455.68 L621.54,455.06 L624.62,453.87 L627.69,454.32 L630.77,455.14 L633.85,454.48 L636.92,453.04 L640.00,453.60 L643.04,454.35 L646.08,453.61 L649.12,453.04 L652.15,452.65 L655.19,453.54 L658.23,453.53 L661.27,452.72 L664.31,451.70 L667.35,453.07 L670.38,451.77 L673.42,452.47 L676.46,451.66 L679.50,451.80" stroke="#3f7f3f" stroke-dasharray="2.8,1.3"/>
</g>
<g stroke="#000" stroke-width="0.8" fill="none" stroke-linecap="square"><line x1="394.50" y1="361.00" x2="394.50" y2="509.50"/><line x1="679.50" y1="361.00" x2="679.50" y2="509.50"/><line x1="394.50" y1="361.00" x2="679.50" y2="361.00"/><line x1="394.50" y1="509.50" x2="679.50" y2="509.50"/><line x1="394.50" y1="509.50" x2="394.50" y2="513.00" stroke-linecap="butt"/><line x1="451.50" y1="509.50" x2="451.50" y2="513.00" stroke-linecap="butt"/><line x1="508.50" y1="509.50" x2="508.50" y2="513.00" stroke-linecap="butt"/><line x1="565.50" y1="509.50" x2="565.50" y2="513.00" stroke-linecap="butt"/><line x1="622.50" y1="509.50" x2="622.50" y2="513.00" stroke-linecap="butt"/><line x1="679.50" y1="509.50" x2="679.50" y2="513.00" stroke-linecap="butt"/><line x1="391.00" y1="484.75" x2="394.50" y2="484.75" stroke-linecap="butt"/><line x1="391.00" y1="443.50" x2="394.50" y2="443.50" stroke-linecap="butt"/><line x1="391.00" y1="402.25" x2="394.50" y2="402.25" stroke-linecap="butt"/><line x1="391.00" y1="361.00" x2="394.50" y2="361.00" stroke-linecap="butt"/></g>
<text x="394.50" y="524.50" text-anchor="middle" textLength="6.36" lengthAdjust="spacingAndGlyphs">0</text>
<text x="451.50" y="524.50" text-anchor="middle" textLength="6.36" lengthAdjust="spacingAndGlyphs">5</text>
<text x="508.50" y="524.50" text-anchor="middle" textLength="12.72" lengthAdjust="spacingAndGlyphs">10</text>
<text x="565.50" y="524.50" text-anchor="middle" textLength="12.72" lengthAdjust="spacingAndGlyphs">15</text>
<text x="622.50" y="524.50" text-anchor="middle" textLength="12.72" lengthAdjust="spacingAndGlyphs">20</text>
<text x="679.50" y="524.50" text-anchor="middle" textLength="12.72" lengthAdjust="spacingAndGlyphs">25</text>
<text x="387.50" y="488.35" text-anchor="end" textLength="21.65" lengthAdjust="spacingAndGlyphs">0.05</text>
<rect x="357.94" y="485.15" width="6.0" height="0.95" fill="#000"/>
<text x="387.50" y="447.10" text-anchor="end" textLength="21.65" lengthAdjust="spacingAndGlyphs">0.00</text>
<text x="387.50" y="405.85" text-anchor="end" textLength="21.65" lengthAdjust="spacingAndGlyphs">0.05</text>
<text x="387.50" y="364.60" text-anchor="end" textLength="21.65" lengthAdjust="spacingAndGlyphs">0.10</text>
<text x="411.40" y="373.30" text-anchor="end" textLength="11.33" lengthAdjust="spacingAndGlyphs">(f)</text>
<rect x="130.80" y="8.50" width="205.10" height="59.70" rx="2" ry="2" fill="#fff" fill-opacity="0.8" stroke="#cccccc" stroke-width="1"/><line x1="134.30" y1="16.40" x2="154.30" y2="16.40" stroke="#1f5f8f" stroke-width="1.00"/><text x="162.60" y="20.00" textLength="22.78" lengthAdjust="spacingAndGlyphs">TSLF</text><text x="188.60" y="20.00" style="font-family:'Liberation Serif',serif;font-style:italic;font-size:11px">ε</text><text x="196.40" y="20.00" textLength="33.00" lengthAdjust="spacingAndGlyphs">= 0.05</text><line x1="134.30" y1="30.50" x2="154.30" y2="30.50" stroke="#87ceeb" stroke-width="1.00"/><text x="162.60" y="34.10" textLength="22.78" lengthAdjust="spacingAndGlyphs">TSLF</text><text x="188.60" y="34.10" style="font-family:'Liberation Serif',serif;font-style:italic;font-size:11px">ε</text><text x="196.40" y="34.10" textLength="26.64" lengthAdjust="spacingAndGlyphs">= 0.1</text><line x1="134.30" y1="44.60" x2="154.30" y2="44.60" stroke="#ffc0cb" stroke-width="1.00"/><text x="162.60" y="48.20" textLength="22.78" lengthAdjust="spacingAndGlyphs">TSLF</text><text x="188.60" y="48.20" style="font-family:'Liberation Serif',serif;font-style:italic;font-size:11px">ε</text><text x="196.40" y="48.20" textLength="26.64" lengthAdjust="spacingAndGlyphs">= 0.2</text><line x1="134.30" y1="58.90" x2="154.30" y2="58.90" stroke="#ff69b4" stroke-width="1.00"/><text x="162.60" y="62.50" textLength="22.78" lengthAdjust="spacingAndGlyphs">TSLF</text><text x="188.60" y="62.50" style="font-family:'Liberation Serif',serif;font-style:italic;font-size:11px">ε</text><text x="196.40" y="62.50" textLength="26.64" lengthAdjust="spacingAndGlyphs">= 0.3</text><line x1="248.20" y1="16.40" x2="268.20" y2="16.40" stroke="#1f5f8f" stroke-width="1.00" stroke-dasharray="2.8,1.3"/><text x="276.00" y="20.00" textLength="11.85" lengthAdjust="spacingAndGlyphs">TS</text><text x="290.80" y="20.00" style="font-family:'Liberation Serif',serif;font-style:italic;font-size:11px">ε</text><text x="298.60" y="20.00" textLength="33.00" lengthAdjust="spacingAndGlyphs">= 0.05</text><line x1="248.20" y1="30.50" x2="268.20" y2="30.50" stroke="#87ceeb" stroke-width="1.00" stroke-dasharray="2.8,1.3"/><text x="276.00" y="34.10" textLength="11.85" lengthAdjust="spacingAndGlyphs">TS</text><text x="290.80" y="34.10" style="font-family:'Liberation Serif',serif;font-style:italic;font-size:11px">ε</text><text x="298.60" y="34.10" textLength="26.64" lengthAdjust="spacingAndGlyphs">= 0.1</text><line x1="248.20" y1="44.60" x2="268.20" y2="44.60" stroke="#ffc0cb" stroke-width="1.00" stroke-dasharray="2.8,1.3"/><text x="276.00" y="48.20" textLength="11.85" lengthAdjust="spacingAndGlyphs">TS</text><text x="290.80" y="48.20" style="font-family:'Liberation Serif',serif;font-style:italic;font-size:11px">ε</text><text x="298.60" y="48.20" textLength="26.64" lengthAdjust="spacingAndGlyphs">= 0.2</text><line x1="248.20" y1="58.90" x2="268.20" y2="58.90" stroke="#ff69b4" stroke-width="1.00" stroke-dasharray="2.8,1.3"/><text x="276.00" y="62.50" textLength="11.85" lengthAdjust="spacingAndGlyphs">TS</text><text x="290.80" y="62.50" style="font-family:'Liberation Serif',serif;font-style:italic;font-size:11px">ε</text><text x="298.60" y="62.50" textLength="26.64" lengthAdjust="spacingAndGlyphs">= 0.3</text>
<rect x="482.10" y="8.50" width="192.40" height="59.60" rx="2" ry="2" fill="#fff" fill-opacity="0.8" stroke="#cccccc" stroke-width="1"/><line x1="485.30" y1="16.40" x2="505.30" y2="16.40" stroke="#b22222" stroke-width="1.00"/><text x="513.40" y="20.00" textLength="22.78" lengthAdjust="spacingAndGlyphs">TSLF</text><text x="539.40" y="20.00" style="font-family:'Liberation Serif',serif;font-style:italic;font-size:11px">ε</text><text x="547.20" y="20.00" textLength="26.64" lengthAdjust="spacingAndGlyphs">= 0.4</text><line x1="485.30" y1="30.50" x2="505.30" y2="30.50" stroke="#fa8072" stroke-width="1.00"/><text x="513.40" y="34.10" textLength="22.78" lengthAdjust="spacingAndGlyphs">TSLF</text><text x="539.40" y="34.10" style="font-family:'Liberation Serif',serif;font-style:italic;font-size:11px">ε</text><text x="547.20" y="34.10" textLength="26.64" lengthAdjust="spacingAndGlyphs">= 0.5</text><line x1="485.30" y1="44.60" x2="505.30" y2="44.60" stroke="#8fbc7f" stroke-width="1.00"/><text x="513.40" y="48.20" textLength="22.78" lengthAdjust="spacingAndGlyphs">TSLF</text><text x="539.40" y="48.20" style="font-family:'Liberation Serif',serif;font-style:italic;font-size:11px">ε</text><text x="547.20" y="48.20" textLength="26.64" lengthAdjust="spacingAndGlyphs">= 0.6</text><line x1="485.30" y1="58.90" x2="505.30" y2="58.90" stroke="#3f7f3f" stroke-width="1.00"/><text x="513.40" y="62.50" textLength="22.78" lengthAdjust="spacingAndGlyphs">TSLF</text><text x="539.40" y="62.50" style="font-family:'Liberation Serif',serif;font-style:italic;font-size:11px">ε</text><text x="547.20" y="62.50" textLength="26.64" lengthAdjust="spacingAndGlyphs">= 0.7</text><line x1="593.80" y1="16.40" x2="613.80" y2="16.40" stroke="#b22222" stroke-width="1.00" stroke-dasharray="2.8,1.3"/><text x="621.10" y="20.00" textLength="11.85" lengthAdjust="spacingAndGlyphs">TS</text><text x="635.90" y="20.00" style="font-family:'Liberation Serif',serif;font-style:italic;font-size:11px">ε</text><text x="643.70" y="20.00" textLength="26.64" lengthAdjust="spacingAndGlyphs">= 0.4</text><line x1="593.80" y1="30.50" x2="613.80" y2="30.50" stroke="#fa8072" stroke-width="1.00" stroke-dasharray="2.8,1.3"/><text x="621.10" y="34.10" textLength="11.85" lengthAdjust="spacingAndGlyphs">TS</text><text x="635.90" y="34.10" style="font-family:'Liberation Serif',serif;font-style:italic;font-size:11px">ε</text><text x="643.70" y="34.10" textLength="26.64" lengthAdjust="spacingAndGlyphs">= 0.5</text><line x1="593.80" y1="44.60" x2="613.80" y2="44.60" stroke="#8fbc7f" stroke-width="1.00" stroke-dasharray="2.8,1.3"/><text x="621.10" y="48.20" textLength="11.85" lengthAdjust="spacingAndGlyphs">TS</text><text x="635.90" y="48.20" style="font-family:'Liberation Serif',serif;font-style:italic;font-size:11px">ε</text><text x="643.70" y="48.20" textLength="26.64" lengthAdjust="spacingAndGlyphs">= 0.6</text><line x1="593.80" y1="58.90" x2="613.80" y2="58.90" stroke="#3f7f3f" stroke-width="1.00" stroke-dasharray="2.8,1.3"/><text x="621.10" y="62.50" textLength="11.85" lengthAdjust="spacingAndGlyphs">TS</text><text x="635.90" y="62.50" style="font-family:'Liberation Serif',serif;font-style:italic;font-size:11px">ε</text><text x="643.70" y="62.50" textLength="26.64" lengthAdjust="spacingAndGlyphs">= 0.7</text>
<text transform="translate(28.3,77.75) rotate(-90)" text-anchor="middle" style="font-family:'Liberation Serif',serif;font-style:italic;font-size:12px">ε</text>
<text transform="translate(22.8,256.1) rotate(-90)" text-anchor="middle" textLength="107.5" lengthAdjust="spacingAndGlyphs">Relative deviation [%]</text>
<text transform="translate(6.9,435.3) rotate(-90)" text-anchor="middle" textLength="53.6" lengthAdjust="spacingAndGlyphs">Decay rate</text>
<text x="198.50" y="537.6" text-anchor="middle"><tspan font-style="italic">x</tspan>/<tspan font-style="italic">h</tspan><tspan font-size="7.5px" dy="0.7">0</tspan></text>
<text x="537.00" y="537.6" text-anchor="middle"><tspan font-style="italic">x</tspan>/<tspan font-style="italic">h</tspan><tspan font-size="7.5px" dy="0.7">0</tspan></text>
</svg></body></html>
